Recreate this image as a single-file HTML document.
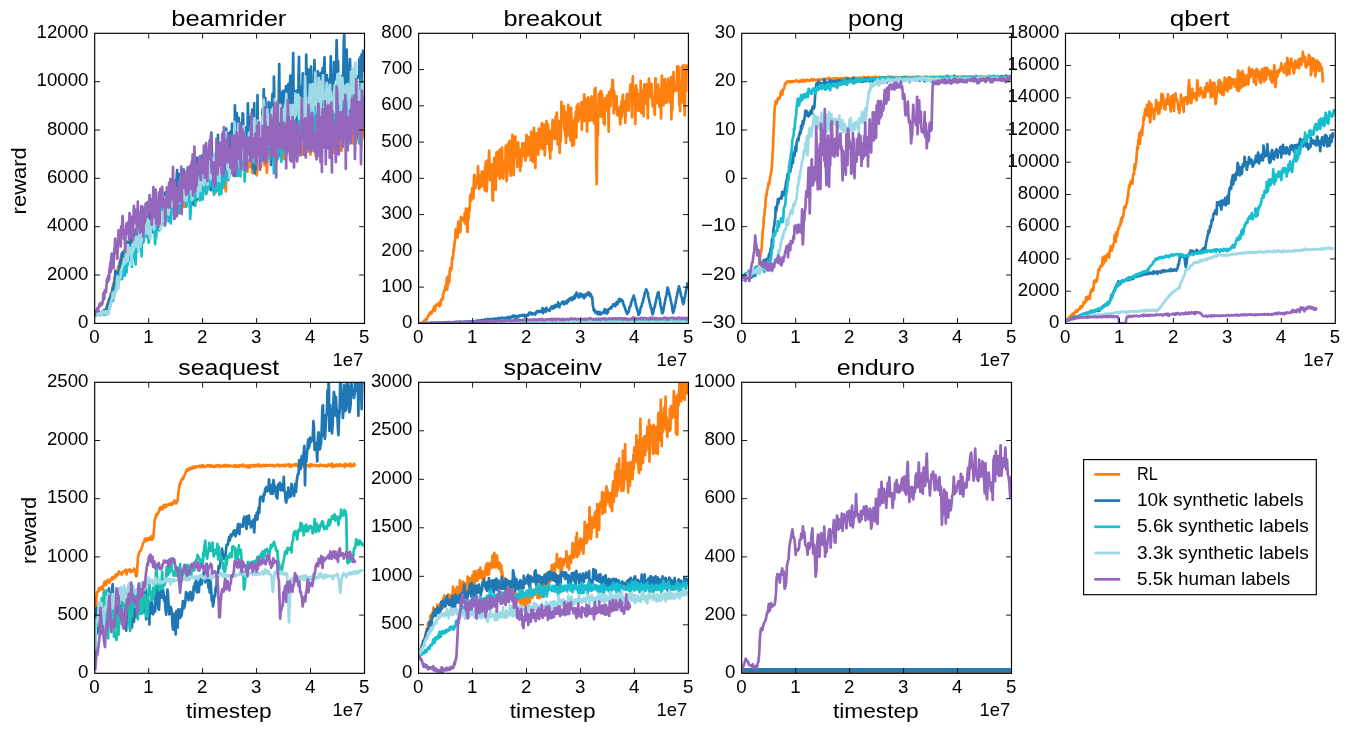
<!DOCTYPE html>
<html lang="en">
<head>
<meta charset="utf-8">
<title>Reward curves</title>
<style>
html,body{margin:0;padding:0;background:#fff;}
body{width:1357px;height:732px;overflow:hidden;font-family:"Liberation Sans",sans-serif;}
svg{display:block;will-change:transform;}
text{font-family:"Liberation Sans",sans-serif;}
</style>
</head>
<body>
<svg width="1357" height="732" viewBox="0 0 1357 732" font-family="'Liberation Sans', sans-serif" fill="#000">
<rect width="1357" height="732" fill="#fff"/>
<clipPath id="c00"><rect x="94.7" y="33.3" width="269.8" height="290.1"/></clipPath>
<g clip-path="url(#c00)" fill="none" stroke-width="2.7" stroke-linejoin="round" stroke-linecap="butt">
<polyline stroke="#ff7f0e" points="94.7,314.6 95.2,315.1 95.8,315.1 96.3,313.6 96.9,313.3 97.4,313.3 97.9,313.3 98.5,313.3 99.0,313.9 99.6,313.4 100.1,314.8 100.6,313.8 101.2,313.0 101.7,311.9 102.3,313.7 102.8,314.4 103.3,313.9 103.9,314.3 104.4,312.5 105.0,311.2 105.5,310.6 106.0,311.1 106.6,307.2 107.1,305.5 107.7,304.3 108.2,305.6 108.7,302.8 109.3,302.7 109.8,299.8 110.3,299.1 110.9,292.9 111.4,294.5 112.0,291.8 112.5,294.8 113.0,284.5 113.6,287.5 114.1,281.1 114.7,277.0 115.2,277.8 115.7,279.7 116.3,283.4 116.8,277.0 117.4,275.9 117.9,268.4 118.4,266.0 119.0,272.8 119.5,269.5 120.1,264.1 120.6,257.7 121.1,261.0 121.7,258.8 122.2,259.8 122.8,256.0 123.3,258.2 123.8,251.3 124.4,249.8 124.9,252.8 125.5,247.8 126.0,248.7 126.5,254.2 127.1,251.0 127.6,259.4 128.2,252.6 128.7,240.8 129.2,247.4 129.8,241.2 130.3,250.4 130.9,244.1 131.4,232.4 131.9,241.6 132.5,242.5 133.0,237.3 133.6,239.1 134.1,236.4 134.6,245.4 135.2,235.7 135.7,239.5 136.2,229.2 136.8,238.6 137.3,233.3 137.9,229.9 138.4,231.7 138.9,235.1 139.5,226.1 140.0,222.3 140.6,232.1 141.1,238.4 141.6,238.0 142.2,223.1 142.7,224.2 143.3,225.3 143.8,218.1 144.3,218.5 144.9,226.0 145.4,227.1 146.0,230.5 146.5,230.6 147.0,235.4 147.6,223.2 148.1,226.1 148.7,232.0 149.2,225.0 149.7,218.0 150.3,221.9 150.8,214.8 151.4,218.9 151.9,220.1 152.4,228.1 153.0,220.1 153.5,217.5 154.1,220.3 154.6,224.5 155.1,227.5 155.7,218.5 156.2,202.1 156.8,208.0 157.3,208.3 157.8,227.1 158.4,218.5 158.9,215.2 159.5,222.5 160.0,220.4 160.5,201.5 161.1,225.7 161.6,224.1 162.2,220.9 162.7,210.7 163.2,208.3 163.8,211.5 164.3,213.1 164.8,218.7 165.4,216.1 165.9,210.5 166.5,203.8 167.0,211.7 167.5,208.4 168.1,208.5 168.6,217.2 169.2,218.6 169.7,203.3 170.2,210.6 170.8,196.5 171.3,201.1 171.9,207.2 172.4,207.9 172.9,209.9 173.5,206.7 174.0,215.1 174.6,197.7 175.1,209.1 175.6,203.1 176.2,204.9 176.7,212.0 177.3,196.7 177.8,206.7 178.3,194.0 178.9,204.1 179.4,211.7 180.0,213.3 180.5,202.1 181.0,202.2 181.6,209.4 182.1,202.0 182.7,202.7 183.2,201.7 183.7,201.0 184.3,206.9 184.8,198.8 185.4,185.5 185.9,189.0 186.4,205.3 187.0,198.1 187.5,198.7 188.1,195.8 188.6,180.9 189.1,201.0 189.7,195.9 190.2,197.0 190.7,204.8 191.3,194.1 191.8,181.1 192.4,193.1 192.9,183.2 193.4,201.3 194.0,198.3 194.5,194.6 195.1,205.5 195.6,190.6 196.1,196.7 196.7,187.5 197.2,191.4 197.8,199.0 198.3,185.6 198.8,181.1 199.4,193.7 199.9,198.3 200.5,184.8 201.0,185.1 201.5,189.1 202.1,196.9 202.6,186.3 203.2,184.7 203.7,187.1 204.2,188.6 204.8,187.9 205.3,179.2 205.9,188.1 206.4,185.4 206.9,193.1 207.5,176.7 208.0,184.3 208.6,187.4 209.1,184.5 209.6,184.6 210.2,184.5 210.7,188.1 211.3,185.6 211.8,177.6 212.3,181.6 212.9,175.4 213.4,170.8 214.0,173.0 214.5,182.6 215.0,184.9 215.6,192.8 216.1,180.4 216.6,170.2 217.2,182.6 217.7,178.4 218.3,163.0 218.8,170.2 219.3,178.1 219.9,172.9 220.4,170.9 221.0,170.3 221.5,171.2 222.0,176.5 222.6,175.9 223.1,174.6 223.7,187.9 224.2,169.8 224.7,171.8 225.3,174.9 225.8,191.4 226.4,175.8 226.9,173.2 227.4,174.5 228.0,175.2 228.5,178.0 229.1,170.9 229.6,169.0 230.1,167.0 230.7,168.6 231.2,170.1 231.8,169.7 232.3,164.9 232.8,169.7 233.4,175.9 233.9,169.3 234.5,172.5 235.0,175.5 235.5,171.8 236.1,174.9 236.6,174.0 237.2,172.9 237.7,169.5 238.2,172.8 238.8,168.9 239.3,164.1 239.9,164.8 240.4,164.4 240.9,169.7 241.5,163.9 242.0,162.6 242.6,160.1 243.1,159.5 243.6,161.6 244.2,162.2 244.7,155.4 245.2,159.7 245.8,162.8 246.3,159.2 246.9,164.9 247.4,171.6 247.9,162.7 248.5,157.1 249.0,165.8 249.6,163.2 250.1,167.0 250.6,166.9 251.2,159.6 251.7,144.5 252.3,172.9 252.8,156.9 253.3,159.1 253.9,145.6 254.4,162.0 255.0,158.3 255.5,167.3 256.0,159.6 256.6,175.4 257.1,172.5 257.7,160.3 258.2,163.7 258.7,155.0 259.3,163.8 259.8,159.6 260.4,159.4 260.9,167.1 261.4,157.9 262.0,158.0 262.5,157.6 263.1,152.4 263.6,144.9 264.1,155.9 264.7,165.2 265.2,157.6 265.8,154.4 266.3,157.6 266.8,172.8 267.4,161.9 267.9,150.1 268.5,156.4 269.0,151.1 269.5,151.0 270.1,154.8 270.6,148.9 271.1,154.9 271.7,160.6 272.2,156.9 272.8,149.8 273.3,155.8 273.8,153.3 274.4,152.5 274.9,152.8 275.5,159.5 276.0,149.4 276.5,160.6 277.1,153.4 277.6,152.4 278.2,153.1 278.7,152.7 279.2,150.6 279.8,155.5 280.3,142.8 280.9,153.7 281.4,152.6 281.9,151.2 282.5,157.9 283.0,151.0 283.6,152.3 284.1,159.1 284.6,152.0 285.2,155.0 285.7,141.1 286.3,145.8 286.8,145.7 287.3,151.0 287.9,146.6 288.4,150.7 289.0,147.1 289.5,142.2 290.0,154.9 290.6,147.7 291.1,144.8 291.7,148.2 292.2,139.9 292.7,150.9 293.3,152.4 293.8,143.9 294.4,146.8 294.9,138.2 295.4,148.4 296.0,147.9 296.5,157.2 297.1,156.9 297.6,144.2 298.1,139.4 298.7,152.8 299.2,148.0 299.7,138.5 300.3,142.7 300.8,141.6 301.4,147.5 301.9,148.4 302.4,154.5 303.0,146.4 303.5,151.5 304.1,150.2 304.6,137.1 305.1,136.9 305.7,135.3 306.2,140.0 306.8,144.9 307.3,139.9 307.8,136.5 308.4,151.6 308.9,143.9 309.5,147.5 310.0,137.9 310.5,154.6 311.1,141.9 311.6,142.6 312.2,142.6 312.7,142.1 313.2,142.5 313.8,144.7 314.3,143.8 314.9,145.8 315.4,149.5 315.9,156.5 316.5,142.3 317.0,149.3 317.6,145.9 318.1,137.1 318.6,147.7 319.2,146.2 319.7,139.1 320.3,147.6 320.8,142.7 321.3,143.4 321.9,129.8 322.4,142.8 323.0,137.3 323.5,147.1 324.0,133.4 324.6,138.2 325.1,137.3 325.6,136.7 326.2,142.0 326.7,137.2 327.3,129.1 327.8,132.5 328.3,143.8 328.9,142.2 329.4,147.7 330.0,137.1 330.5,149.9 331.0,136.8 331.6,137.3 332.1,139.8 332.7,140.8 333.2,140.9 333.7,134.4 334.3,153.0 334.8,150.6 335.4,133.1 335.9,144.9 336.4,142.0 337.0,152.1 337.5,135.7 338.1,139.7 338.6,138.7 339.1,137.9 339.7,134.4 340.2,133.2 340.8,138.1 341.3,150.8 341.8,148.9 342.4,139.8 342.9,143.9 343.5,132.6 344.0,125.7 344.5,133.8 345.1,137.7 345.6,137.2 346.2,136.5 346.7,142.0 347.2,146.7 347.8,143.9 348.3,140.9 348.9,137.7 349.4,135.6 349.9,138.7 350.5,143.4 351.0,139.5 351.5,132.2 352.1,138.8 352.6,129.7 353.2,143.5 353.7,132.4 354.2,130.4 354.8,133.4 355.3,124.6 355.9,142.8 356.4,132.8 356.9,132.1 357.5,134.8 358.0,139.2 358.6,133.9 359.1,130.1 359.6,135.4 360.2,135.4 360.7,126.4 361.3,145.6 361.8,133.5 362.3,136.7 362.9,137.6 363.4,132.8 364.0,123.8 364.5,132.4"/>
<polyline stroke="#1f77b4" points="94.7,314.8 95.2,314.2 95.7,314.7 96.1,314.1 96.6,313.8 97.1,313.5 97.6,314.0 98.1,314.3 98.6,311.9 99.0,313.7 99.5,314.7 100.0,314.9 100.5,314.5 101.0,313.3 101.4,313.4 101.9,312.9 102.4,312.7 102.9,311.6 103.4,312.6 103.9,310.2 104.3,310.3 104.8,312.2 105.3,311.6 105.8,309.4 106.3,309.9 106.7,310.4 107.2,305.6 107.7,304.2 108.2,303.4 108.7,300.4 109.2,299.2 109.6,298.0 110.1,299.9 110.6,299.8 111.1,294.4 111.6,295.1 112.0,296.9 112.5,288.2 113.0,292.5 113.5,289.8 114.0,283.0 114.5,286.6 114.9,284.4 115.4,270.8 115.9,282.0 116.4,282.7 116.9,276.4 117.3,276.9 117.8,271.9 118.3,273.7 118.8,276.8 119.3,276.1 119.8,262.0 120.2,261.3 120.7,261.4 121.2,264.0 121.7,253.7 122.2,253.3 122.6,252.4 123.1,257.2 123.6,252.8 124.1,255.8 124.6,256.0 125.1,253.0 125.5,249.8 126.0,260.6 126.5,248.5 127.0,241.8 127.5,249.2 127.9,251.1 128.4,246.1 128.9,242.4 129.4,248.8 129.9,250.2 130.4,254.8 130.8,238.6 131.3,246.6 131.8,239.9 132.3,241.6 132.8,240.7 133.2,235.7 133.7,238.8 134.2,242.0 134.7,234.2 135.2,239.0 135.7,229.8 136.1,233.7 136.6,235.0 137.1,242.0 137.6,238.0 138.1,242.1 138.5,234.3 139.0,247.5 139.5,241.5 140.0,238.3 140.5,216.2 141.0,239.3 141.4,227.1 141.9,229.8 142.4,227.0 142.9,228.7 143.4,242.2 143.8,231.8 144.3,225.9 144.8,225.7 145.3,231.3 145.8,228.1 146.3,222.2 146.7,222.3 147.2,226.2 147.7,218.0 148.2,220.8 148.7,213.1 149.1,211.8 149.6,228.3 150.1,216.8 150.6,212.8 151.1,215.9 151.6,220.4 152.0,218.8 152.5,232.3 153.0,220.0 153.5,211.5 154.0,219.5 154.4,222.1 154.9,198.7 155.4,218.5 155.9,214.1 156.4,217.4 156.9,211.4 157.3,221.5 157.8,218.3 158.3,217.5 158.8,212.6 159.3,211.3 159.7,213.7 160.2,202.4 160.7,194.6 161.2,204.7 161.7,198.5 162.2,197.7 162.6,199.0 163.1,212.2 163.6,205.6 164.1,199.3 164.6,202.3 165.0,192.7 165.5,212.0 166.0,210.3 166.5,204.2 167.0,196.9 167.4,196.0 167.9,203.6 168.4,204.4 168.9,209.5 169.4,202.6 169.9,193.8 170.3,187.6 170.8,181.6 171.3,185.9 171.8,201.5 172.3,190.3 172.7,193.2 173.2,196.1 173.7,198.2 174.2,189.0 174.7,200.3 175.2,180.8 175.6,194.8 176.1,204.3 176.6,179.0 177.1,170.1 177.6,200.7 178.0,183.3 178.5,212.5 179.0,186.9 179.5,174.0 180.0,181.6 180.5,182.5 180.9,181.3 181.4,187.4 181.9,181.8 182.4,188.6 182.9,189.0 183.3,183.3 183.8,169.6 184.3,181.5 184.8,179.4 185.3,187.7 185.8,196.4 186.2,182.6 186.7,194.4 187.2,195.1 187.7,191.6 188.2,177.2 188.6,181.8 189.1,185.9 189.6,167.3 190.1,187.8 190.6,206.2 191.1,203.6 191.5,183.6 192.0,182.0 192.5,174.1 193.0,183.4 193.5,204.6 193.9,183.9 194.4,183.9 194.9,202.1 195.4,173.4 195.9,170.4 196.4,200.6 196.8,182.5 197.3,157.5 197.8,176.6 198.3,185.9 198.8,180.6 199.2,190.4 199.7,188.7 200.2,169.6 200.7,166.0 201.2,179.7 201.7,183.8 202.1,155.6 202.6,179.3 203.1,180.6 203.6,176.1 204.1,161.9 204.5,174.3 205.0,168.8 205.5,166.9 206.0,177.5 206.5,169.9 207.0,171.2 207.4,150.8 207.9,169.8 208.4,171.5 208.9,168.8 209.4,170.1 209.8,171.0 210.3,186.5 210.8,190.2 211.3,132.7 211.8,147.4 212.3,164.1 212.7,185.0 213.2,159.2 213.7,169.3 214.2,178.1 214.7,178.6 215.1,155.5 215.6,160.3 216.1,152.2 216.6,153.3 217.1,176.7 217.6,164.6 218.0,134.8 218.5,173.6 219.0,145.5 219.5,170.2 220.0,167.3 220.4,149.8 220.9,170.6 221.4,166.9 221.9,170.8 222.4,134.8 222.9,171.5 223.3,132.1 223.8,132.5 224.3,152.5 224.8,159.8 225.3,150.0 225.7,176.2 226.2,128.6 226.7,151.8 227.2,145.6 227.7,165.6 228.2,159.6 228.6,133.4 229.1,150.9 229.6,138.7 230.1,145.8 230.6,131.4 231.0,153.5 231.5,168.9 232.0,123.7 232.5,157.4 233.0,141.9 233.5,128.5 233.9,158.7 234.4,175.8 234.9,105.3 235.4,133.3 235.9,134.1 236.3,151.5 236.8,113.1 237.3,176.0 237.8,142.0 238.3,152.8 238.8,117.9 239.2,129.5 239.7,136.1 240.2,129.2 240.7,124.4 241.2,144.8 241.6,135.4 242.1,132.9 242.6,113.3 243.1,113.6 243.6,136.5 244.1,136.9 244.5,127.0 245.0,133.4 245.5,140.4 246.0,131.2 246.5,127.7 246.9,138.6 247.4,142.3 247.9,103.3 248.4,128.9 248.9,127.7 249.4,157.9 249.8,155.8 250.3,118.3 250.8,116.8 251.3,152.0 251.8,139.0 252.2,109.7 252.7,131.2 253.2,168.4 253.7,161.4 254.2,103.2 254.7,173.4 255.1,166.6 255.6,169.4 256.1,124.4 256.6,126.2 257.1,139.5 257.5,95.1 258.0,138.3 258.5,145.9 259.0,148.8 259.5,141.1 260.0,123.9 260.4,127.3 260.9,143.0 261.4,150.6 261.9,154.8 262.4,109.7 262.8,108.8 263.3,108.2 263.8,89.1 264.3,141.1 264.8,126.9 265.3,98.2 265.7,113.1 266.2,124.4 266.7,143.7 267.2,123.1 267.7,144.6 268.1,149.7 268.6,102.0 269.1,102.6 269.6,121.1 270.1,112.1 270.6,118.1 271.0,165.0 271.5,158.9 272.0,101.4 272.5,93.8 273.0,108.7 273.4,148.9 273.9,76.7 274.4,101.9 274.9,117.3 275.4,115.6 275.9,134.0 276.3,117.9 276.8,113.9 277.3,157.9 277.8,132.8 278.3,156.9 278.7,103.6 279.2,64.0 279.7,109.4 280.2,97.6 280.7,141.6 281.2,104.0 281.6,109.5 282.1,94.1 282.6,91.2 283.1,96.1 283.6,147.3 284.0,122.9 284.5,113.8 285.0,90.0 285.5,121.2 286.0,86.2 286.5,100.9 286.9,122.5 287.4,120.2 287.9,92.1 288.4,83.9 288.9,125.6 289.3,120.6 289.8,90.7 290.3,75.6 290.8,155.7 291.3,104.9 291.8,155.3 292.2,97.1 292.7,84.1 293.2,53.0 293.7,100.6 294.2,108.2 294.6,90.8 295.1,124.7 295.6,102.1 296.1,92.0 296.6,124.2 297.1,130.5 297.5,90.1 298.0,139.7 298.5,78.5 299.0,56.9 299.5,116.1 299.9,100.2 300.4,130.6 300.9,104.1 301.4,127.5 301.9,86.2 302.3,93.4 302.8,73.4 303.3,120.6 303.8,131.3 304.3,110.4 304.8,120.2 305.2,130.1 305.7,124.2 306.2,54.5 306.7,88.7 307.2,68.5 307.6,107.0 308.1,105.4 308.6,103.9 309.1,101.7 309.6,69.9 310.1,104.2 310.5,94.4 311.0,66.7 311.5,85.3 312.0,126.0 312.5,105.3 312.9,97.3 313.4,86.7 313.9,94.7 314.4,60.0 314.9,73.1 315.4,114.6 315.8,137.3 316.3,102.0 316.8,99.8 317.3,101.6 317.8,71.4 318.2,100.1 318.7,93.1 319.2,113.9 319.7,113.1 320.2,79.0 320.7,72.8 321.1,73.1 321.6,107.0 322.1,82.3 322.6,68.1 323.1,76.3 323.5,101.4 324.0,68.6 324.5,57.3 325.0,80.1 325.5,122.6 326.0,110.9 326.4,91.5 326.9,75.1 327.4,87.7 327.9,85.4 328.4,128.3 328.8,89.0 329.3,107.5 329.8,79.2 330.3,82.6 330.8,56.4 331.3,87.8 331.7,94.5 332.2,97.5 332.7,75.1 333.2,86.7 333.7,78.8 334.1,62.1 334.6,68.9 335.1,79.4 335.6,72.5 336.1,72.4 336.6,40.0 337.0,56.4 337.5,70.6 338.0,61.0 338.5,82.9 339.0,95.4 339.4,107.0 339.9,93.7 340.4,92.8 340.9,99.6 341.4,87.8 341.9,124.3 342.3,75.8 342.8,83.2 343.3,75.9 343.8,39.3 344.3,33.8 344.7,76.2 345.2,124.6 345.7,118.3 346.2,80.3 346.7,49.5 347.2,78.2 347.6,86.4 348.1,93.0 348.6,90.0 349.1,64.3 349.6,93.2 350.0,59.1 350.5,82.1 351.0,122.8 351.5,90.9 352.0,74.0 352.5,111.7 352.9,87.6 353.4,109.5 353.9,92.4 354.4,70.1 354.9,108.5 355.3,92.5 355.8,77.8 356.3,120.3 356.8,81.5 357.3,76.7 357.8,78.3 358.2,76.1 358.7,113.0 359.2,59.4 359.7,77.5 360.2,73.6 360.6,56.9 361.1,61.7 361.6,54.4 362.1,95.7 362.6,103.0 363.1,50.5 363.5,78.9 364.0,75.5 364.5,70.6"/>
<polyline stroke="#17becf" points="94.7,314.1 95.2,314.5 95.8,315.8 96.3,313.5 96.9,313.8 97.4,314.3 97.9,313.3 98.5,313.6 99.0,314.6 99.6,313.2 100.1,315.0 100.6,313.9 101.2,314.1 101.7,314.9 102.3,314.6 102.8,314.2 103.3,313.2 103.9,312.5 104.4,314.6 105.0,314.1 105.5,312.5 106.0,314.4 106.6,312.5 107.1,314.0 107.7,311.8 108.2,314.0 108.7,310.4 109.3,308.7 109.8,308.1 110.3,305.1 110.9,302.3 111.4,301.8 112.0,298.5 112.5,293.7 113.0,300.8 113.6,298.3 114.1,296.2 114.7,291.3 115.2,291.2 115.7,286.7 116.3,285.7 116.8,279.5 117.4,280.0 117.9,278.7 118.4,285.5 119.0,278.8 119.5,278.7 120.1,273.6 120.6,270.5 121.1,273.2 121.7,279.2 122.2,278.9 122.8,269.7 123.3,266.3 123.8,270.8 124.4,264.8 124.9,275.6 125.5,270.4 126.0,268.8 126.5,272.5 127.1,259.2 127.6,265.3 128.2,261.0 128.7,260.8 129.2,254.1 129.8,260.3 130.3,258.0 130.9,250.7 131.4,260.8 131.9,266.6 132.5,253.2 133.0,255.0 133.6,253.9 134.1,251.4 134.6,257.2 135.2,258.6 135.7,264.5 136.2,243.6 136.8,243.5 137.3,247.2 137.9,251.3 138.4,247.6 138.9,239.0 139.5,243.0 140.0,241.5 140.6,239.7 141.1,243.2 141.6,256.3 142.2,230.8 142.7,237.6 143.3,231.8 143.8,240.5 144.3,229.3 144.9,230.8 145.4,228.3 146.0,236.6 146.5,236.2 147.0,223.8 147.6,236.3 148.1,235.3 148.7,242.7 149.2,239.1 149.7,237.1 150.3,227.7 150.8,225.0 151.4,227.0 151.9,230.8 152.4,225.4 153.0,228.2 153.5,228.1 154.1,223.5 154.6,231.7 155.1,244.1 155.7,229.3 156.2,237.4 156.8,227.3 157.3,230.3 157.8,223.2 158.4,223.1 158.9,225.6 159.5,230.3 160.0,221.9 160.5,219.4 161.1,218.5 161.6,208.2 162.2,216.5 162.7,218.3 163.2,218.2 163.8,217.3 164.3,211.4 164.8,225.9 165.4,220.1 165.9,214.2 166.5,216.0 167.0,210.2 167.5,204.9 168.1,205.7 168.6,221.4 169.2,220.1 169.7,209.8 170.2,207.3 170.8,223.4 171.3,214.1 171.9,204.1 172.4,203.8 172.9,203.2 173.5,202.8 174.0,204.5 174.6,218.5 175.1,206.1 175.6,194.3 176.2,211.2 176.7,209.5 177.3,204.3 177.8,213.2 178.3,201.1 178.9,191.5 179.4,210.3 180.0,191.7 180.5,195.7 181.0,212.4 181.6,201.3 182.1,193.0 182.7,202.6 183.2,196.4 183.7,195.7 184.3,194.4 184.8,187.0 185.4,199.2 185.9,195.7 186.4,206.6 187.0,189.1 187.5,189.4 188.1,200.8 188.6,190.2 189.1,186.1 189.7,202.8 190.2,218.9 190.7,211.7 191.3,190.5 191.8,200.8 192.4,198.1 192.9,197.3 193.4,187.6 194.0,198.3 194.5,192.1 195.1,205.7 195.6,182.0 196.1,191.4 196.7,187.9 197.2,174.6 197.8,186.6 198.3,185.6 198.8,177.7 199.4,186.7 199.9,200.4 200.5,186.2 201.0,194.6 201.5,185.9 202.1,180.2 202.6,199.7 203.2,185.3 203.7,178.9 204.2,190.4 204.8,172.8 205.3,183.5 205.9,194.3 206.4,181.9 206.9,188.9 207.5,182.7 208.0,189.1 208.6,187.1 209.1,175.4 209.6,182.6 210.2,186.5 210.7,178.8 211.3,176.5 211.8,178.0 212.3,181.7 212.9,168.5 213.4,191.3 214.0,194.8 214.5,185.8 215.0,185.6 215.6,186.3 216.1,182.1 216.6,166.4 217.2,190.9 217.7,179.5 218.3,183.4 218.8,175.3 219.3,195.0 219.9,155.9 220.4,186.1 221.0,173.1 221.5,193.7 222.0,169.1 222.6,160.3 223.1,185.9 223.7,173.1 224.2,185.3 224.7,171.0 225.3,171.9 225.8,176.0 226.4,178.7 226.9,176.5 227.4,178.0 228.0,176.6 228.5,180.2 229.1,167.7 229.6,167.4 230.1,165.7 230.7,162.0 231.2,158.7 231.8,150.9 232.3,172.8 232.8,168.2 233.4,155.9 233.9,169.2 234.5,158.0 235.0,162.8 235.5,165.9 236.1,157.1 236.6,152.5 237.2,175.7 237.7,172.2 238.2,174.2 238.8,137.1 239.3,161.8 239.9,157.9 240.4,176.5 240.9,164.8 241.5,170.0 242.0,146.0 242.6,164.2 243.1,156.4 243.6,148.8 244.2,150.1 244.7,181.4 245.2,156.9 245.8,165.4 246.3,152.3 246.9,153.6 247.4,157.9 247.9,148.0 248.5,159.4 249.0,157.4 249.6,147.8 250.1,137.1 250.6,149.5 251.2,142.3 251.7,162.0 252.3,151.0 252.8,122.1 253.3,153.2 253.9,135.8 254.4,163.0 255.0,159.5 255.5,139.7 256.0,147.7 256.6,141.3 257.1,151.5 257.7,158.1 258.2,135.0 258.7,156.8 259.3,161.3 259.8,149.1 260.4,155.5 260.9,143.4 261.4,142.8 262.0,142.5 262.5,158.2 263.1,161.0 263.6,151.2 264.1,145.6 264.7,139.4 265.2,138.7 265.8,149.9 266.3,158.4 266.8,128.6 267.4,146.9 267.9,139.8 268.5,126.1 269.0,137.0 269.5,130.7 270.1,159.1 270.6,135.1 271.1,131.0 271.7,138.4 272.2,153.4 272.8,147.2 273.3,118.2 273.8,173.3 274.4,140.7 274.9,128.8 275.5,137.7 276.0,123.9 276.5,132.9 277.1,142.6 277.6,159.2 278.2,131.5 278.7,142.9 279.2,136.3 279.8,145.6 280.3,126.7 280.9,151.4 281.4,161.9 281.9,141.6 282.5,127.0 283.0,135.0 283.6,141.0 284.1,151.6 284.6,109.7 285.2,126.1 285.7,145.6 286.3,139.7 286.8,153.2 287.3,138.5 287.9,122.4 288.4,106.5 289.0,134.5 289.5,132.7 290.0,116.1 290.6,110.3 291.1,124.9 291.7,138.0 292.2,124.8 292.7,123.3 293.3,117.1 293.8,135.1 294.4,141.9 294.9,138.5 295.4,141.8 296.0,157.9 296.5,148.3 297.1,125.8 297.6,128.1 298.1,125.0 298.7,135.4 299.2,113.4 299.7,137.5 300.3,128.8 300.8,113.0 301.4,140.7 301.9,104.7 302.4,120.3 303.0,126.2 303.5,138.3 304.1,123.6 304.6,135.4 305.1,139.0 305.7,134.8 306.2,125.2 306.8,141.3 307.3,126.8 307.8,114.7 308.4,125.9 308.9,112.9 309.5,127.3 310.0,137.5 310.5,127.8 311.1,114.8 311.6,103.0 312.2,116.9 312.7,123.4 313.2,137.7 313.8,123.1 314.3,132.2 314.9,130.7 315.4,111.7 315.9,107.6 316.5,108.6 317.0,136.6 317.6,111.9 318.1,114.4 318.6,132.7 319.2,118.2 319.7,119.7 320.3,120.4 320.8,137.3 321.3,120.0 321.9,143.8 322.4,121.3 323.0,129.9 323.5,118.5 324.0,128.3 324.6,132.0 325.1,147.6 325.6,125.2 326.2,85.5 326.7,134.0 327.3,119.5 327.8,99.9 328.3,125.4 328.9,140.8 329.4,146.4 330.0,134.2 330.5,130.8 331.0,98.7 331.6,117.6 332.1,129.4 332.7,118.7 333.2,125.3 333.7,114.4 334.3,114.0 334.8,121.4 335.4,120.5 335.9,142.0 336.4,142.2 337.0,122.0 337.5,118.7 338.1,120.1 338.6,124.5 339.1,107.1 339.7,118.4 340.2,136.4 340.8,127.3 341.3,133.2 341.8,104.1 342.4,124.7 342.9,101.1 343.5,124.3 344.0,128.1 344.5,109.9 345.1,118.7 345.6,100.2 346.2,114.0 346.7,141.5 347.2,98.5 347.8,116.9 348.3,144.6 348.9,112.8 349.4,116.9 349.9,130.5 350.5,100.4 351.0,127.8 351.5,105.4 352.1,107.6 352.6,123.9 353.2,102.5 353.7,108.5 354.2,86.2 354.8,112.6 355.3,91.7 355.9,80.7 356.4,124.7 356.9,113.0 357.5,120.4 358.0,132.5 358.6,133.8 359.1,143.4 359.6,131.3 360.2,125.3 360.7,128.1 361.3,116.3 361.8,120.4 362.3,124.4 362.9,103.4 363.4,121.1 364.0,97.0 364.5,115.9"/>
<polyline stroke="#9edae5" points="94.7,315.9 95.2,315.2 95.8,315.0 96.3,314.4 96.9,313.8 97.4,314.3 97.9,313.1 98.5,314.5 99.0,313.6 99.6,314.2 100.1,313.4 100.6,313.2 101.2,314.8 101.7,313.9 102.3,314.5 102.8,311.3 103.3,312.3 103.9,312.8 104.4,313.5 105.0,313.5 105.5,311.4 106.0,313.4 106.6,311.3 107.1,311.9 107.7,311.8 108.2,314.0 108.7,310.8 109.3,310.4 109.8,306.2 110.3,304.0 110.9,303.5 111.4,299.9 112.0,299.5 112.5,296.2 113.0,292.7 113.6,298.1 114.1,292.8 114.7,292.3 115.2,291.9 115.7,290.2 116.3,291.4 116.8,286.3 117.4,276.1 117.9,281.7 118.4,288.1 119.0,278.6 119.5,278.6 120.1,277.9 120.6,276.6 121.1,270.4 121.7,268.4 122.2,268.2 122.8,265.5 123.3,264.2 123.8,262.8 124.4,258.7 124.9,263.6 125.5,261.9 126.0,248.4 126.5,245.2 127.1,249.2 127.6,261.1 128.2,245.0 128.7,252.5 129.2,249.3 129.8,248.1 130.3,254.4 130.9,250.5 131.4,264.4 131.9,248.5 132.5,244.3 133.0,251.7 133.6,245.7 134.1,238.4 134.6,239.6 135.2,243.7 135.7,246.9 136.2,237.5 136.8,235.8 137.3,231.7 137.9,232.9 138.4,251.0 138.9,246.4 139.5,244.4 140.0,235.0 140.6,246.4 141.1,236.2 141.6,241.9 142.2,233.8 142.7,229.1 143.3,225.2 143.8,236.1 144.3,224.3 144.9,233.3 145.4,223.8 146.0,223.5 146.5,225.4 147.0,233.4 147.6,218.9 148.1,226.1 148.7,234.0 149.2,221.0 149.7,227.3 150.3,238.9 150.8,223.6 151.4,220.9 151.9,227.4 152.4,219.6 153.0,218.6 153.5,223.9 154.1,229.3 154.6,224.6 155.1,212.9 155.7,215.1 156.2,209.5 156.8,208.2 157.3,214.5 157.8,216.9 158.4,210.6 158.9,210.4 159.5,222.5 160.0,219.9 160.5,229.6 161.1,215.9 161.6,211.7 162.2,215.3 162.7,215.6 163.2,221.7 163.8,219.3 164.3,211.9 164.8,197.6 165.4,213.8 165.9,213.3 166.5,200.0 167.0,208.6 167.5,201.3 168.1,203.2 168.6,214.5 169.2,206.7 169.7,202.3 170.2,204.0 170.8,206.6 171.3,201.5 171.9,202.1 172.4,206.7 172.9,202.8 173.5,193.3 174.0,203.2 174.6,189.7 175.1,206.9 175.6,210.8 176.2,198.4 176.7,194.3 177.3,198.2 177.8,189.2 178.3,195.5 178.9,199.7 179.4,197.4 180.0,202.9 180.5,200.5 181.0,176.8 181.6,180.7 182.1,188.7 182.7,192.4 183.2,197.1 183.7,185.9 184.3,198.2 184.8,200.3 185.4,177.9 185.9,190.4 186.4,201.0 187.0,189.4 187.5,184.9 188.1,175.9 188.6,171.0 189.1,168.1 189.7,173.7 190.2,192.5 190.7,171.3 191.3,173.7 191.8,199.9 192.4,186.0 192.9,198.4 193.4,188.2 194.0,184.1 194.5,185.0 195.1,178.0 195.6,185.3 196.1,168.9 196.7,173.3 197.2,185.7 197.8,196.7 198.3,184.0 198.8,182.3 199.4,187.0 199.9,179.5 200.5,190.9 201.0,171.9 201.5,166.9 202.1,181.5 202.6,165.5 203.2,182.9 203.7,185.3 204.2,184.9 204.8,174.6 205.3,177.6 205.9,175.6 206.4,167.0 206.9,175.5 207.5,184.9 208.0,161.4 208.6,163.9 209.1,176.6 209.6,169.4 210.2,165.0 210.7,179.1 211.3,177.9 211.8,165.3 212.3,168.6 212.9,157.5 213.4,161.0 214.0,172.4 214.5,166.4 215.0,162.0 215.6,152.7 216.1,167.6 216.6,147.6 217.2,160.6 217.7,157.9 218.3,180.5 218.8,167.5 219.3,181.5 219.9,158.7 220.4,168.2 221.0,158.6 221.5,161.6 222.0,166.3 222.6,159.3 223.1,160.5 223.7,141.1 224.2,160.4 224.7,144.0 225.3,157.6 225.8,132.2 226.4,158.7 226.9,152.7 227.4,168.9 228.0,161.1 228.5,161.6 229.1,161.7 229.6,178.4 230.1,155.5 230.7,154.0 231.2,158.0 231.8,161.9 232.3,144.4 232.8,158.5 233.4,154.8 233.9,147.5 234.5,121.9 235.0,152.3 235.5,152.6 236.1,146.8 236.6,144.7 237.2,136.5 237.7,137.7 238.2,123.8 238.8,148.5 239.3,155.3 239.9,166.8 240.4,147.0 240.9,145.6 241.5,150.0 242.0,159.9 242.6,143.5 243.1,155.4 243.6,125.9 244.2,136.3 244.7,149.5 245.2,155.5 245.8,149.5 246.3,142.8 246.9,142.9 247.4,156.4 247.9,142.8 248.5,139.3 249.0,132.9 249.6,158.4 250.1,152.3 250.6,134.0 251.2,124.6 251.7,143.7 252.3,132.3 252.8,160.9 253.3,121.2 253.9,154.1 254.4,118.1 255.0,135.8 255.5,143.1 256.0,126.3 256.6,136.0 257.1,139.4 257.7,120.5 258.2,122.8 258.7,163.2 259.3,139.6 259.8,122.8 260.4,136.9 260.9,128.3 261.4,136.7 262.0,139.9 262.5,117.3 263.1,114.8 263.6,99.7 264.1,107.0 264.7,127.9 265.2,118.4 265.8,135.3 266.3,114.4 266.8,125.4 267.4,109.5 267.9,124.7 268.5,115.0 269.0,141.3 269.5,124.5 270.1,139.0 270.6,134.6 271.1,138.6 271.7,109.6 272.2,130.4 272.8,109.0 273.3,107.7 273.8,130.7 274.4,131.2 274.9,98.9 275.5,117.1 276.0,104.6 276.5,124.2 277.1,107.5 277.6,120.5 278.2,108.4 278.7,120.4 279.2,120.8 279.8,110.8 280.3,104.8 280.9,108.5 281.4,117.0 281.9,115.6 282.5,122.3 283.0,109.4 283.6,136.9 284.1,127.0 284.6,115.7 285.2,104.1 285.7,110.1 286.3,93.9 286.8,106.3 287.3,107.0 287.9,118.5 288.4,116.6 289.0,120.4 289.5,118.6 290.0,105.1 290.6,122.9 291.1,115.5 291.7,119.7 292.2,113.8 292.7,105.2 293.3,105.3 293.8,122.1 294.4,104.8 294.9,117.1 295.4,93.5 296.0,115.0 296.5,103.4 297.1,99.5 297.6,104.4 298.1,94.6 298.7,100.9 299.2,118.7 299.7,97.9 300.3,98.1 300.8,117.5 301.4,104.4 301.9,120.3 302.4,111.1 303.0,127.2 303.5,99.6 304.1,121.5 304.6,111.2 305.1,76.3 305.7,104.5 306.2,97.4 306.8,117.6 307.3,121.7 307.8,121.5 308.4,119.2 308.9,111.8 309.5,95.7 310.0,84.7 310.5,89.0 311.1,98.7 311.6,99.4 312.2,111.5 312.7,84.0 313.2,115.1 313.8,88.3 314.3,87.0 314.9,91.6 315.4,72.7 315.9,105.2 316.5,88.1 317.0,92.2 317.6,112.1 318.1,96.3 318.6,77.8 319.2,93.5 319.7,80.7 320.3,96.9 320.8,115.8 321.3,94.7 321.9,82.6 322.4,84.9 323.0,75.4 323.5,99.1 324.0,97.7 324.6,105.3 325.1,93.9 325.6,109.0 326.2,92.3 326.7,82.8 327.3,88.7 327.8,95.0 328.3,97.4 328.9,105.5 329.4,99.0 330.0,84.6 330.5,98.7 331.0,92.0 331.6,109.3 332.1,99.3 332.7,106.5 333.2,112.1 333.7,99.4 334.3,90.9 334.8,85.2 335.4,91.9 335.9,93.2 336.4,97.4 337.0,83.0 337.5,74.3 338.1,103.7 338.6,82.6 339.1,73.4 339.7,90.1 340.2,84.9 340.8,111.7 341.3,94.0 341.8,84.3 342.4,77.7 342.9,90.4 343.5,97.8 344.0,90.4 344.5,112.5 345.1,98.0 345.6,85.4 346.2,88.6 346.7,96.8 347.2,85.3 347.8,83.9 348.3,97.4 348.9,103.4 349.4,125.5 349.9,100.2 350.5,93.9 351.0,71.8 351.5,82.6 352.1,93.1 352.6,68.5 353.2,78.9 353.7,88.7 354.2,107.8 354.8,68.7 355.3,62.6 355.9,104.5 356.4,98.5 356.9,116.0 357.5,91.4 358.0,80.0 358.6,105.9 359.1,91.1 359.6,99.3 360.2,104.2 360.7,116.0 361.3,102.5 361.8,104.4 362.3,84.3 362.9,94.4 363.4,87.5 364.0,88.4 364.5,72.0"/>
<polyline stroke="#9467bd" points="94.7,315.9 95.1,310.8 95.6,312.4 96.0,311.0 96.4,312.1 96.9,310.9 97.3,308.7 97.7,307.6 98.2,309.7 98.6,306.9 99.1,306.7 99.5,304.2 99.9,305.4 100.4,306.2 100.8,303.1 101.2,304.9 101.7,304.5 102.1,304.4 102.5,302.7 103.0,299.7 103.4,293.1 103.8,294.4 104.3,298.7 104.7,290.5 105.1,290.0 105.6,292.0 106.0,292.1 106.4,286.5 106.9,280.2 107.3,278.7 107.8,282.1 108.2,276.2 108.6,275.2 109.1,279.6 109.5,269.0 109.9,267.1 110.4,262.7 110.8,271.6 111.2,257.9 111.7,253.6 112.1,266.7 112.5,259.9 113.0,264.7 113.4,268.3 113.8,260.1 114.3,249.6 114.7,247.9 115.2,238.5 115.6,248.9 116.0,252.8 116.5,248.8 116.9,243.1 117.3,258.9 117.8,249.1 118.2,237.8 118.6,230.1 119.1,233.2 119.5,235.7 119.9,238.0 120.4,233.4 120.8,246.5 121.2,226.3 121.7,229.5 122.1,225.8 122.6,216.1 123.0,224.4 123.4,230.5 123.9,238.9 124.3,233.8 124.7,232.9 125.2,252.1 125.6,231.1 126.0,234.5 126.5,223.5 126.9,223.8 127.3,225.5 127.8,229.1 128.2,221.8 128.6,233.0 129.1,239.0 129.5,213.1 129.9,235.7 130.4,215.5 130.8,237.0 131.3,224.0 131.7,217.4 132.1,224.7 132.6,217.3 133.0,240.0 133.4,220.1 133.9,205.8 134.3,213.9 134.7,213.0 135.2,214.1 135.6,211.7 136.0,223.1 136.5,209.3 136.9,234.5 137.3,222.8 137.8,201.7 138.2,227.1 138.7,220.8 139.1,212.3 139.5,225.3 140.0,219.8 140.4,231.2 140.8,217.6 141.3,206.0 141.7,206.1 142.1,231.6 142.6,229.6 143.0,223.6 143.4,236.7 143.9,207.7 144.3,223.4 144.7,221.1 145.2,220.4 145.6,203.9 146.0,203.1 146.5,207.2 146.9,206.2 147.4,202.7 147.8,216.7 148.2,204.3 148.7,201.0 149.1,211.8 149.5,195.1 150.0,207.2 150.4,199.1 150.8,200.7 151.3,206.9 151.7,224.6 152.1,213.0 152.6,204.2 153.0,197.9 153.4,187.0 153.9,194.4 154.3,217.1 154.8,210.2 155.2,198.2 155.6,189.6 156.1,223.4 156.5,202.6 156.9,211.0 157.4,205.8 157.8,211.6 158.2,226.8 158.7,192.6 159.1,202.5 159.5,223.9 160.0,200.6 160.4,188.9 160.8,197.8 161.3,205.9 161.7,199.8 162.2,186.9 162.6,203.8 163.0,205.1 163.5,202.5 163.9,198.9 164.3,207.5 164.8,201.3 165.2,224.3 165.6,205.6 166.1,204.9 166.5,200.2 166.9,187.3 167.4,191.8 167.8,194.6 168.2,207.2 168.7,194.4 169.1,182.9 169.5,200.1 170.0,207.6 170.4,179.2 170.9,186.9 171.3,194.9 171.7,181.1 172.2,191.6 172.6,183.7 173.0,166.8 173.5,200.9 173.9,188.4 174.3,219.0 174.8,182.2 175.2,193.0 175.6,205.6 176.1,188.1 176.5,190.3 176.9,216.3 177.4,202.6 177.8,195.6 178.3,194.7 178.7,197.6 179.1,181.2 179.6,201.3 180.0,187.3 180.4,192.4 180.9,195.4 181.3,166.6 181.7,213.9 182.2,169.0 182.6,188.4 183.0,176.0 183.5,185.1 183.9,184.9 184.3,182.5 184.8,188.0 185.2,173.5 185.6,188.6 186.1,194.7 186.5,172.6 187.0,184.6 187.4,170.4 187.8,167.1 188.3,193.0 188.7,188.4 189.1,176.1 189.6,181.5 190.0,168.0 190.4,165.5 190.9,188.8 191.3,183.0 191.7,161.7 192.2,172.8 192.6,154.5 193.0,195.7 193.5,159.2 193.9,172.5 194.4,146.5 194.8,171.9 195.2,191.4 195.7,186.2 196.1,168.6 196.5,185.6 197.0,173.8 197.4,166.5 197.8,162.8 198.3,163.7 198.7,160.5 199.1,164.3 199.6,170.0 200.0,156.0 200.4,163.2 200.9,179.9 201.3,159.2 201.7,168.0 202.2,159.8 202.6,172.6 203.1,169.5 203.5,161.3 203.9,145.5 204.4,173.1 204.8,177.7 205.2,154.0 205.7,160.6 206.1,143.2 206.5,151.6 207.0,164.4 207.4,181.2 207.8,151.8 208.3,156.0 208.7,159.4 209.1,149.6 209.6,141.2 210.0,139.9 210.5,148.2 210.9,135.0 211.3,166.0 211.8,172.7 212.2,172.9 212.6,162.2 213.1,165.7 213.5,184.1 213.9,176.4 214.4,162.8 214.8,185.9 215.2,170.4 215.7,162.6 216.1,168.8 216.5,138.6 217.0,152.2 217.4,174.4 217.9,165.4 218.3,164.7 218.7,165.7 219.2,145.2 219.6,154.3 220.0,142.9 220.5,156.8 220.9,143.9 221.3,167.6 221.8,173.4 222.2,133.8 222.6,158.6 223.1,151.5 223.5,175.7 223.9,127.0 224.4,145.9 224.8,158.0 225.2,164.6 225.7,159.8 226.1,153.4 226.6,156.6 227.0,140.0 227.4,151.2 227.9,135.3 228.3,162.2 228.7,160.6 229.2,151.1 229.6,153.0 230.0,149.5 230.5,167.7 230.9,164.3 231.3,165.2 231.8,136.0 232.2,151.3 232.6,174.3 233.1,143.5 233.5,166.3 234.0,156.5 234.4,135.8 234.8,163.5 235.3,170.3 235.7,161.1 236.1,173.7 236.6,132.3 237.0,137.6 237.4,152.9 237.9,149.4 238.3,159.0 238.7,145.1 239.2,157.9 239.6,155.4 240.0,123.1 240.5,164.2 240.9,168.8 241.3,141.0 241.8,146.5 242.2,129.1 242.7,147.7 243.1,130.9 243.5,132.9 244.0,135.2 244.4,148.2 244.8,170.0 245.3,160.2 245.7,162.5 246.1,147.8 246.6,169.8 247.0,138.5 247.4,145.4 247.9,154.3 248.3,137.5 248.7,141.0 249.2,141.1 249.6,149.7 250.1,152.7 250.5,161.2 250.9,145.6 251.4,114.2 251.8,141.8 252.2,160.5 252.7,138.1 253.1,148.0 253.5,148.9 254.0,147.2 254.4,156.6 254.8,149.8 255.3,133.9 255.7,146.2 256.1,164.7 256.6,162.5 257.0,125.8 257.5,155.0 257.9,138.1 258.3,137.0 258.8,122.3 259.2,152.6 259.6,149.2 260.1,169.8 260.5,149.7 260.9,138.7 261.4,158.0 261.8,138.5 262.2,148.3 262.7,126.2 263.1,145.2 263.5,133.1 264.0,160.9 264.4,145.3 264.8,107.1 265.3,133.3 265.7,124.7 266.2,162.8 266.6,154.9 267.0,134.4 267.5,127.0 267.9,131.0 268.3,142.4 268.8,145.0 269.2,133.9 269.6,145.5 270.1,134.9 270.5,115.0 270.9,156.2 271.4,132.3 271.8,156.5 272.2,156.4 272.7,119.7 273.1,147.8 273.6,116.4 274.0,126.3 274.4,103.0 274.9,156.2 275.3,141.2 275.7,141.0 276.2,177.4 276.6,134.2 277.0,128.2 277.5,101.7 277.9,137.2 278.3,147.0 278.8,128.7 279.2,147.4 279.6,135.0 280.1,148.3 280.5,134.2 280.9,136.8 281.4,108.4 281.8,141.0 282.3,145.3 282.7,146.9 283.1,123.2 283.6,122.6 284.0,150.2 284.4,125.7 284.9,146.7 285.3,124.4 285.7,128.8 286.2,168.3 286.6,127.2 287.0,151.4 287.5,128.4 287.9,100.1 288.3,126.3 288.8,116.8 289.2,124.4 289.7,131.7 290.1,160.0 290.5,137.2 291.0,121.7 291.4,161.6 291.8,141.6 292.3,145.5 292.7,117.0 293.1,145.0 293.6,139.4 294.0,167.5 294.4,144.7 294.9,150.9 295.3,121.1 295.7,123.7 296.2,149.2 296.6,136.3 297.1,161.5 297.5,156.8 297.9,124.9 298.4,140.9 298.8,134.6 299.2,144.0 299.7,136.9 300.1,138.6 300.5,155.5 301.0,143.8 301.4,127.1 301.8,98.6 302.3,125.2 302.7,120.3 303.1,131.0 303.6,126.2 304.0,140.4 304.4,155.2 304.9,128.7 305.3,118.4 305.8,157.6 306.2,124.1 306.6,132.9 307.1,138.7 307.5,149.8 307.9,128.5 308.4,104.7 308.8,133.0 309.2,145.6 309.7,135.6 310.1,143.1 310.5,151.4 311.0,116.7 311.4,126.8 311.8,134.8 312.3,112.9 312.7,117.6 313.2,146.2 313.6,151.1 314.0,134.5 314.5,132.6 314.9,151.2 315.3,133.9 315.8,136.0 316.2,154.7 316.6,159.3 317.1,115.3 317.5,156.4 317.9,148.8 318.4,103.6 318.8,109.7 319.2,124.5 319.7,146.3 320.1,142.8 320.5,162.1 321.0,117.1 321.4,121.9 321.9,172.0 322.3,131.7 322.7,109.0 323.2,110.6 323.6,120.2 324.0,134.6 324.5,146.2 324.9,101.4 325.3,118.4 325.8,164.3 326.2,130.4 326.6,121.1 327.1,146.4 327.5,106.6 327.9,148.1 328.4,105.1 328.8,108.6 329.3,117.4 329.7,157.8 330.1,132.1 330.6,155.0 331.0,146.2 331.4,102.7 331.9,172.4 332.3,110.9 332.7,144.8 333.2,137.9 333.6,135.2 334.0,136.5 334.5,126.9 334.9,147.7 335.3,122.5 335.8,162.2 336.2,150.0 336.6,86.5 337.1,90.7 337.5,110.0 338.0,119.2 338.4,114.1 338.8,154.5 339.3,136.0 339.7,120.9 340.1,135.7 340.6,138.9 341.0,112.0 341.4,115.4 341.9,119.7 342.3,125.2 342.7,146.6 343.2,128.3 343.6,109.0 344.0,121.3 344.5,101.1 344.9,137.5 345.4,94.8 345.8,168.8 346.2,124.3 346.7,137.8 347.1,117.3 347.5,150.3 348.0,141.9 348.4,118.3 348.8,138.3 349.3,118.6 349.7,138.5 350.1,110.2 350.6,137.7 351.0,143.0 351.4,112.9 351.9,99.0 352.3,114.6 352.8,124.9 353.2,109.1 353.6,109.0 354.1,133.4 354.5,95.7 354.9,158.9 355.4,136.6 355.8,127.1 356.2,79.1 356.7,137.1 357.1,117.0 357.5,101.9 358.0,126.5 358.4,109.6 358.8,133.5 359.3,113.0 359.7,102.1 360.1,135.5 360.6,124.3 361.0,164.2 361.5,127.7 361.9,90.6 362.3,106.9 362.8,127.1 363.2,118.3 363.6,98.6 364.1,105.4 364.5,123.8"/>
</g>
<g stroke="#000" stroke-width="1.15" fill="none">
<rect x="94.7" y="33.3" width="269.8" height="290.1"/>
<path stroke-width="0.9" d="M148.7,323.4v-5.4M148.7,33.3v5.4M202.6,323.4v-5.4M202.6,33.3v5.4M256.6,323.4v-5.4M256.6,33.3v5.4M310.5,323.4v-5.4M310.5,33.3v5.4M94.7,275.0h5.4M364.5,275.0h-5.4M94.7,226.7h5.4M364.5,226.7h-5.4M94.7,178.3h5.4M364.5,178.3h-5.4M94.7,130.0h5.4M364.5,130.0h-5.4M94.7,81.7h5.4M364.5,81.7h-5.4"/>
</g>
<clipPath id="c10"><rect x="418.6" y="33.3" width="269.8" height="290.1"/></clipPath>
<g clip-path="url(#c10)" fill="none" stroke-width="2.7" stroke-linejoin="round" stroke-linecap="butt">
<polyline stroke="#ff7f0e" points="418.6,323.4 419.0,323.2 419.4,323.0 419.8,323.4 420.3,323.5 420.7,323.9 421.1,323.0 421.5,322.7 421.9,322.7 422.3,323.0 422.8,323.3 423.2,322.3 423.6,321.8 424.0,321.0 424.4,320.4 424.8,320.1 425.2,319.6 425.7,319.3 426.1,319.7 426.5,318.5 426.9,319.4 427.3,317.3 427.7,317.2 428.1,315.6 428.6,315.9 429.0,315.3 429.4,314.3 429.8,312.6 430.2,312.6 430.6,313.3 431.1,312.0 431.5,313.6 431.9,313.1 432.3,311.0 432.7,310.8 433.1,309.9 433.5,308.6 434.0,309.3 434.4,306.2 434.8,310.7 435.2,308.4 435.6,308.2 436.0,305.9 436.5,304.6 436.9,304.4 437.3,304.2 437.7,303.9 438.1,304.6 438.5,304.2 438.9,303.4 439.4,306.4 439.8,304.6 440.2,302.0 440.6,304.8 441.0,299.5 441.4,300.8 441.8,299.0 442.3,299.8 442.7,298.5 443.1,294.7 443.5,293.2 443.9,291.8 444.3,290.6 444.8,290.4 445.2,286.6 445.6,289.7 446.0,289.7 446.4,284.4 446.8,277.8 447.2,289.7 447.7,280.2 448.1,284.5 448.5,275.8 448.9,280.0 449.3,282.2 449.7,271.7 450.2,267.8 450.6,270.8 451.0,267.9 451.4,269.8 451.8,264.5 452.2,257.5 452.6,258.9 453.1,255.2 453.5,249.6 453.9,250.9 454.3,245.2 454.7,241.5 455.1,241.0 455.5,229.5 456.0,229.1 456.4,233.3 456.8,230.8 457.2,233.4 457.6,237.5 458.0,225.2 458.5,221.7 458.9,229.6 459.3,225.7 459.7,232.2 460.1,232.4 460.5,230.2 460.9,216.9 461.4,219.7 461.8,217.5 462.2,218.3 462.6,219.8 463.0,218.4 463.4,219.1 463.9,219.0 464.3,221.8 464.7,213.9 465.1,212.3 465.5,224.0 465.9,208.6 466.3,224.2 466.8,209.2 467.2,230.9 467.6,231.9 468.0,208.8 468.4,219.2 468.8,216.9 469.2,208.1 469.7,210.7 470.1,195.5 470.5,195.8 470.9,194.3 471.3,200.5 471.7,194.9 472.2,188.3 472.6,193.5 473.0,191.6 473.4,198.3 473.8,182.6 474.2,174.8 474.6,175.4 475.1,180.6 475.5,188.2 475.9,179.6 476.3,183.9 476.7,183.3 477.1,181.6 477.6,181.0 478.0,166.1 478.4,176.1 478.8,185.9 479.2,188.9 479.6,177.9 480.0,185.5 480.5,178.8 480.9,174.9 481.3,186.6 481.7,171.7 482.1,179.3 482.5,185.5 482.9,171.7 483.4,172.3 483.8,180.1 484.2,180.0 484.6,190.5 485.0,167.2 485.4,167.8 485.9,161.5 486.3,190.6 486.7,191.4 487.1,182.1 487.5,179.4 487.9,160.2 488.3,164.0 488.8,164.8 489.2,150.6 489.6,175.4 490.0,167.3 490.4,180.5 490.8,178.2 491.2,166.2 491.7,164.5 492.1,166.1 492.5,199.7 492.9,200.6 493.3,185.5 493.7,177.8 494.2,158.1 494.6,184.4 495.0,169.2 495.4,171.7 495.8,189.7 496.2,155.9 496.6,152.4 497.1,175.5 497.5,171.4 497.9,159.8 498.3,162.6 498.7,150.9 499.1,169.8 499.6,178.8 500.0,149.5 500.4,165.4 500.8,177.3 501.2,166.3 501.6,169.7 502.0,147.7 502.5,168.4 502.9,176.4 503.3,178.6 503.7,169.1 504.1,163.9 504.5,168.2 504.9,161.1 505.4,160.5 505.8,145.7 506.2,162.2 506.6,181.1 507.0,176.7 507.4,172.6 507.9,143.9 508.3,162.8 508.7,159.0 509.1,163.9 509.5,140.8 509.9,156.9 510.3,169.8 510.8,175.7 511.2,155.7 511.6,154.7 512.0,153.1 512.4,134.8 512.8,156.8 513.3,136.9 513.7,175.2 514.1,157.4 514.5,157.1 514.9,145.2 515.3,136.7 515.7,150.2 516.2,151.3 516.6,153.3 517.0,158.1 517.4,167.0 517.8,153.8 518.2,142.4 518.6,161.2 519.1,155.8 519.5,159.9 519.9,149.4 520.3,171.0 520.7,154.1 521.1,166.2 521.6,156.9 522.0,154.0 522.4,143.4 522.8,151.2 523.2,155.6 523.6,148.5 524.0,151.9 524.5,147.8 524.9,142.8 525.3,160.7 525.7,158.2 526.1,150.1 526.5,134.9 527.0,141.1 527.4,154.8 527.8,155.7 528.2,145.5 528.6,146.7 529.0,137.2 529.4,152.1 529.9,143.9 530.3,138.5 530.7,160.1 531.1,131.8 531.5,140.2 531.9,137.4 532.3,143.4 532.8,161.8 533.2,153.3 533.6,131.9 534.0,127.8 534.4,149.2 534.8,151.1 535.3,168.0 535.7,150.0 536.1,134.2 536.5,133.3 536.9,134.9 537.3,154.0 537.7,140.0 538.2,154.6 538.6,140.1 539.0,128.7 539.4,148.3 539.8,143.5 540.2,133.4 540.7,143.4 541.1,129.8 541.5,127.0 541.9,123.1 542.3,149.1 542.7,135.2 543.1,138.6 543.6,140.9 544.0,124.5 544.4,133.1 544.8,155.5 545.2,144.2 545.6,128.5 546.0,141.7 546.5,121.1 546.9,142.4 547.3,143.6 547.7,134.3 548.1,124.7 548.5,134.3 549.0,131.0 549.4,150.3 549.8,142.7 550.2,158.5 550.6,131.3 551.0,146.5 551.4,150.3 551.9,137.4 552.3,124.5 552.7,119.9 553.1,138.3 553.5,124.4 553.9,122.9 554.4,122.4 554.8,130.0 555.2,138.9 555.6,116.3 556.0,119.7 556.4,126.7 556.8,112.6 557.3,129.9 557.7,144.5 558.1,138.8 558.5,121.1 558.9,128.9 559.3,124.3 559.7,152.9 560.2,135.5 560.6,141.4 561.0,130.7 561.4,101.8 561.8,114.3 562.2,121.6 562.7,117.9 563.1,111.9 563.5,121.2 563.9,106.1 564.3,130.2 564.7,128.2 565.1,131.9 565.6,135.2 566.0,142.9 566.4,112.0 566.8,116.1 567.2,131.6 567.6,135.8 568.1,104.9 568.5,126.3 568.9,120.1 569.3,132.0 569.7,108.0 570.1,123.8 570.5,140.3 571.0,107.9 571.4,117.8 571.8,121.1 572.2,145.8 572.6,126.7 573.0,127.1 573.4,140.7 573.9,144.9 574.3,123.7 574.7,119.8 575.1,118.0 575.5,123.0 575.9,111.4 576.4,137.6 576.8,105.8 577.2,109.3 577.6,120.7 578.0,103.8 578.4,121.3 578.8,118.1 579.3,108.0 579.7,113.5 580.1,112.9 580.5,116.6 580.9,109.1 581.3,102.2 581.8,129.8 582.2,110.2 582.6,121.4 583.0,105.9 583.4,111.9 583.8,104.6 584.2,94.3 584.7,99.1 585.1,121.0 585.5,104.5 585.9,107.7 586.3,99.4 586.7,110.2 587.1,131.6 587.6,101.3 588.0,109.2 588.4,97.4 588.8,109.0 589.2,110.2 589.6,120.4 590.1,112.3 590.5,117.5 590.9,110.3 591.3,101.1 591.7,96.4 592.1,120.3 592.5,104.3 593.0,116.4 593.4,107.0 593.8,115.3 594.2,123.5 594.6,89.4 595.0,98.7 595.5,87.9 595.9,135.7 596.3,163.7 596.7,184.1 597.1,151.2 597.5,118.4 597.9,135.5 598.4,105.2 598.8,94.0 599.2,100.1 599.6,105.2 600.0,102.8 600.4,91.4 600.8,116.7 601.3,91.0 601.7,116.5 602.1,93.8 602.5,115.0 602.9,107.3 603.3,106.4 603.8,123.2 604.2,101.9 604.6,124.7 605.0,98.3 605.4,102.7 605.8,110.5 606.2,105.7 606.7,103.3 607.1,95.5 607.5,108.7 607.9,100.9 608.3,110.2 608.7,131.7 609.1,92.0 609.6,103.2 610.0,96.8 610.4,106.3 610.8,94.3 611.2,89.2 611.6,96.4 612.1,86.3 612.5,79.8 612.9,81.8 613.3,92.0 613.7,113.2 614.1,91.1 614.5,95.8 615.0,102.4 615.4,101.7 615.8,109.5 616.2,101.8 616.6,96.3 617.0,113.9 617.5,115.2 617.9,108.2 618.3,108.2 618.7,115.9 619.1,107.5 619.5,108.8 619.9,121.3 620.4,124.4 620.8,105.3 621.2,118.4 621.6,101.1 622.0,116.4 622.4,105.5 622.8,94.9 623.3,111.8 623.7,109.1 624.1,101.2 624.5,102.5 624.9,108.3 625.3,122.8 625.8,104.7 626.2,106.7 626.6,95.4 627.0,108.0 627.4,93.7 627.8,110.5 628.2,101.3 628.7,110.5 629.1,97.5 629.5,100.6 629.9,98.9 630.3,84.9 630.7,89.4 631.2,84.0 631.6,93.2 632.0,117.4 632.4,92.7 632.8,76.3 633.2,104.1 633.6,96.1 634.1,87.8 634.5,88.1 634.9,95.6 635.3,124.1 635.7,100.1 636.1,85.4 636.5,105.7 637.0,89.8 637.4,94.1 637.8,99.2 638.2,110.8 638.6,94.3 639.0,100.9 639.5,99.0 639.9,94.0 640.3,110.4 640.7,80.9 641.1,112.6 641.5,95.6 641.9,92.7 642.4,97.8 642.8,113.5 643.2,90.5 643.6,116.3 644.0,94.0 644.4,84.4 644.9,103.8 645.3,102.3 645.7,95.0 646.1,96.8 646.5,102.6 646.9,84.1 647.3,92.4 647.8,118.3 648.2,94.4 648.6,90.1 649.0,78.6 649.4,90.5 649.8,89.7 650.2,96.4 650.7,94.4 651.1,92.3 651.5,83.9 651.9,99.0 652.3,97.7 652.7,106.3 653.2,96.9 653.6,98.8 654.0,106.0 654.4,111.0 654.8,114.6 655.2,82.4 655.6,78.0 656.1,99.1 656.5,102.0 656.9,103.2 657.3,86.0 657.7,89.7 658.1,84.6 658.6,92.7 659.0,89.2 659.4,106.7 659.8,89.7 660.2,90.8 660.6,94.0 661.0,118.5 661.5,96.3 661.9,75.6 662.3,92.3 662.7,95.6 663.1,102.9 663.5,105.4 663.9,96.2 664.4,90.5 664.8,79.2 665.2,92.6 665.6,92.3 666.0,96.2 666.4,102.8 666.9,83.5 667.3,101.6 667.7,85.1 668.1,78.7 668.5,95.8 668.9,95.3 669.3,96.4 669.8,87.0 670.2,102.6 670.6,90.9 671.0,77.1 671.4,119.3 671.8,88.8 672.3,110.1 672.7,96.1 673.1,87.3 673.5,72.0 673.9,91.3 674.3,86.9 674.7,88.1 675.2,85.1 675.6,89.6 676.0,85.7 676.4,90.7 676.8,80.6 677.2,66.4 677.6,78.3 678.1,66.2 678.5,67.7 678.9,89.8 679.3,105.1 679.7,86.8 680.1,111.2 680.6,84.8 681.0,98.0 681.4,93.8 681.8,67.3 682.2,77.3 682.6,74.1 683.0,102.6 683.5,65.1 683.9,101.6 684.3,89.0 684.7,115.3 685.1,92.5 685.5,89.6 686.0,91.3 686.4,65.4 686.8,68.3"/>
<polyline stroke="#1f77b4" points="418.6,323.5 419.1,323.4 419.7,323.3 420.2,323.6 420.8,323.3 421.3,323.3 421.8,323.3 422.4,323.0 422.9,323.1 423.5,323.1 424.0,323.3 424.5,323.2 425.1,323.0 425.6,323.2 426.1,322.9 426.7,323.0 427.2,323.0 427.8,323.3 428.3,323.2 428.8,323.1 429.4,323.6 429.9,323.1 430.5,322.8 431.0,323.3 431.5,323.3 432.1,323.0 432.6,322.8 433.2,322.9 433.7,322.7 434.2,323.2 434.8,322.7 435.3,322.9 435.8,322.9 436.4,322.8 436.9,322.9 437.5,322.6 438.0,322.9 438.5,322.6 439.1,322.4 439.6,322.6 440.2,322.9 440.7,322.5 441.2,322.6 441.8,322.5 442.3,322.9 442.9,322.7 443.4,323.1 443.9,322.5 444.5,322.1 445.0,322.3 445.6,322.6 446.1,322.5 446.6,322.4 447.2,322.4 447.7,322.3 448.2,322.0 448.8,322.1 449.3,322.6 449.9,322.4 450.4,322.6 450.9,322.4 451.5,322.4 452.0,322.1 452.6,322.5 453.1,322.1 453.6,322.7 454.2,322.4 454.7,322.3 455.3,322.0 455.8,321.9 456.3,322.1 456.9,321.7 457.4,322.4 458.0,322.6 458.5,322.0 459.0,321.8 459.6,321.6 460.1,321.7 460.6,321.7 461.2,322.0 461.7,322.0 462.3,322.3 462.8,321.9 463.3,322.4 463.9,321.8 464.4,321.5 465.0,322.2 465.5,321.8 466.0,321.8 466.6,321.7 467.1,321.7 467.7,321.4 468.2,321.4 468.7,321.7 469.3,321.6 469.8,321.6 470.3,321.5 470.9,321.2 471.4,321.3 472.0,321.5 472.5,321.8 473.0,321.5 473.6,321.5 474.1,321.2 474.7,321.2 475.2,321.1 475.7,320.9 476.3,320.9 476.8,321.7 477.4,321.2 477.9,320.5 478.4,320.8 479.0,321.1 479.5,320.9 480.1,320.3 480.6,320.5 481.1,321.0 481.7,320.0 482.2,320.3 482.7,320.7 483.3,320.1 483.8,321.0 484.4,320.7 484.9,319.3 485.4,319.9 486.0,319.8 486.5,320.4 487.1,320.0 487.6,318.9 488.1,320.1 488.7,319.2 489.2,319.5 489.8,319.3 490.3,319.9 490.8,319.0 491.4,319.6 491.9,319.4 492.5,318.9 493.0,319.1 493.5,318.8 494.1,318.8 494.6,319.5 495.1,318.7 495.7,318.7 496.2,320.0 496.8,318.7 497.3,319.1 497.8,318.6 498.4,318.0 498.9,319.0 499.5,318.3 500.0,318.5 500.5,318.0 501.1,317.8 501.6,317.9 502.2,318.1 502.7,317.6 503.2,318.5 503.8,318.4 504.3,318.2 504.8,318.1 505.4,317.7 505.9,318.4 506.5,317.9 507.0,317.9 507.5,318.1 508.1,316.9 508.6,317.9 509.2,317.8 509.7,318.9 510.2,317.0 510.8,317.5 511.3,316.6 511.9,317.3 512.4,317.2 512.9,315.6 513.5,316.6 514.0,316.5 514.6,315.7 515.1,317.4 515.6,318.1 516.2,316.1 516.7,317.5 517.2,316.3 517.8,316.8 518.3,317.3 518.9,315.9 519.4,315.4 519.9,315.3 520.5,315.5 521.0,315.8 521.6,316.0 522.1,315.6 522.6,314.8 523.2,315.5 523.7,314.9 524.3,315.2 524.8,316.5 525.3,315.2 525.9,317.0 526.4,315.0 527.0,314.8 527.5,314.8 528.0,315.5 528.6,314.8 529.1,313.0 529.6,313.5 530.2,312.5 530.7,312.8 531.3,313.4 531.8,314.5 532.3,313.3 532.9,313.6 533.4,314.0 534.0,313.9 534.5,313.7 535.0,314.5 535.6,312.7 536.1,313.4 536.7,311.3 537.2,312.1 537.7,311.9 538.3,311.0 538.8,311.2 539.3,312.1 539.9,311.3 540.4,311.9 541.0,311.0 541.5,311.5 542.0,311.0 542.6,308.1 543.1,313.2 543.7,309.5 544.2,311.4 544.7,309.0 545.3,311.4 545.8,311.8 546.4,307.9 546.9,308.5 547.4,310.1 548.0,310.2 548.5,310.4 549.1,310.4 549.6,310.8 550.1,309.4 550.7,307.9 551.2,307.8 551.7,306.5 552.3,306.8 552.8,308.7 553.4,306.2 553.9,306.2 554.4,307.8 555.0,305.3 555.5,305.0 556.1,307.0 556.6,306.0 557.1,305.0 557.7,304.9 558.2,302.4 558.8,306.9 559.3,307.2 559.8,305.2 560.4,304.3 560.9,304.1 561.5,303.6 562.0,302.1 562.5,301.7 563.1,301.9 563.6,301.7 564.1,304.5 564.7,302.0 565.2,301.9 565.8,301.6 566.3,301.4 566.8,303.4 567.4,300.2 567.9,301.9 568.5,300.7 569.0,300.2 569.5,298.6 570.1,299.2 570.6,297.8 571.2,299.7 571.7,298.6 572.2,300.2 572.8,297.4 573.3,299.0 573.8,298.2 574.4,295.7 574.9,298.5 575.5,295.5 576.0,294.3 576.5,292.6 577.1,295.7 577.6,295.8 578.2,296.7 578.7,297.4 579.2,295.6 579.8,293.6 580.3,296.7 580.9,295.4 581.4,294.0 581.9,295.8 582.5,294.7 583.0,297.1 583.6,295.2 584.1,298.3 584.6,297.2 585.2,297.1 585.7,294.1 586.2,295.5 586.8,293.8 587.3,295.2 587.9,294.4 588.4,292.2 588.9,293.9 589.5,293.1 590.0,295.9 590.6,294.1 591.1,295.0 591.6,297.5 592.2,297.3 592.7,304.4 593.3,307.5 593.8,310.6 594.3,309.6 594.9,309.9 595.4,312.7 596.0,311.8 596.5,312.5 597.0,312.7 597.6,314.1 598.1,311.9 598.6,314.1 599.2,312.2 599.7,312.1 600.3,314.5 600.8,314.1 601.3,313.7 601.9,313.4 602.4,312.6 603.0,312.3 603.5,311.6 604.0,312.9 604.6,309.1 605.1,312.2 605.7,311.1 606.2,312.7 606.7,313.7 607.3,309.8 607.8,312.7 608.3,309.6 608.9,309.1 609.4,308.6 610.0,308.3 610.5,308.8 611.0,307.1 611.6,307.8 612.1,306.5 612.7,305.9 613.2,304.3 613.7,304.4 614.3,304.6 614.8,305.7 615.4,306.2 615.9,302.8 616.4,302.8 617.0,301.9 617.5,304.3 618.1,302.2 618.6,301.1 619.1,298.8 619.7,301.4 620.2,299.2 620.7,300.3 621.3,299.5 621.8,300.1 622.4,301.6 622.9,301.1 623.4,304.4 624.0,305.4 624.5,306.7 625.1,308.7 625.6,309.6 626.1,311.7 626.7,312.9 627.2,313.8 627.8,313.1 628.3,312.2 628.8,310.6 629.4,308.0 629.9,306.3 630.5,306.1 631.0,303.2 631.5,301.5 632.1,300.7 632.6,298.4 633.1,298.8 633.7,295.5 634.2,297.8 634.8,298.9 635.3,301.8 635.8,304.1 636.4,306.8 636.9,309.0 637.5,310.4 638.0,312.0 638.5,314.9 639.1,313.4 639.6,313.2 640.2,310.0 640.7,307.6 641.2,306.8 641.8,304.8 642.3,302.7 642.8,302.3 643.4,298.8 643.9,297.5 644.5,294.6 645.0,292.6 645.5,291.4 646.1,289.5 646.6,289.7 647.2,292.3 647.7,292.5 648.2,296.7 648.8,298.7 649.3,300.7 649.9,303.6 650.4,305.0 650.9,307.9 651.5,308.2 652.0,312.0 652.6,314.4 653.1,313.0 653.6,310.4 654.2,307.7 654.7,306.6 655.2,304.2 655.8,302.2 656.3,299.0 656.9,297.0 657.4,295.2 657.9,292.6 658.5,292.2 659.0,296.9 659.6,298.1 660.1,301.4 660.6,305.7 661.2,307.4 661.7,310.8 662.3,313.4 662.8,312.5 663.3,310.6 663.9,307.4 664.4,304.8 665.0,301.4 665.5,298.1 666.0,297.1 666.6,294.3 667.1,290.5 667.6,287.5 668.2,289.1 668.7,291.6 669.3,294.0 669.8,295.7 670.3,298.2 670.9,301.1 671.4,303.2 672.0,305.8 672.5,310.2 673.0,312.8 673.6,311.4 674.1,308.3 674.7,307.4 675.2,304.4 675.7,302.6 676.3,298.4 676.8,297.0 677.3,293.5 677.9,291.0 678.4,289.4 679.0,286.3 679.5,289.2 680.0,290.9 680.6,292.9 681.1,296.0 681.7,297.0 682.2,299.4 682.7,302.0 683.3,304.2 683.8,302.5 684.4,298.5 684.9,297.2 685.4,294.0 686.0,290.6 686.5,288.2 687.1,286.1 687.6,282.3"/>
<polyline stroke="#17becf" points="418.6,323.4 419.1,323.5 419.7,323.4 420.2,323.4 420.8,323.4 421.3,323.3 421.8,323.6 422.4,323.5 422.9,323.3 423.5,323.3 424.0,323.4 424.5,323.3 425.1,323.3 425.6,323.3 426.2,323.4 426.7,323.3 427.2,323.4 427.8,323.4 428.3,323.3 428.9,323.3 429.4,323.4 429.9,323.2 430.5,323.1 431.0,323.3 431.6,323.2 432.1,323.4 432.6,323.2 433.2,323.2 433.7,323.3 434.2,323.3 434.8,323.5 435.3,323.2 435.9,323.1 436.4,323.0 436.9,323.0 437.5,323.3 438.0,323.2 438.6,323.2 439.1,323.2 439.6,323.2 440.2,323.2 440.7,323.1 441.3,323.4 441.8,323.1 442.3,323.0 442.9,323.1 443.4,323.3 444.0,323.2 444.5,323.2 445.0,323.1 445.6,323.0 446.1,323.3 446.7,323.0 447.2,323.2 447.7,323.1 448.3,323.0 448.8,323.1 449.4,323.1 449.9,323.0 450.4,323.2 451.0,323.1 451.5,323.0 452.1,322.8 452.6,323.1 453.1,323.1 453.7,323.2 454.2,323.1 454.8,323.1 455.3,322.9 455.8,322.7 456.4,322.9 456.9,322.9 457.5,322.9 458.0,323.0 458.5,323.1 459.1,323.0 459.6,323.0 460.1,322.6 460.7,322.9 461.2,323.1 461.8,323.1 462.3,323.0 462.8,322.9 463.4,322.8 463.9,322.8 464.5,322.8 465.0,322.9 465.5,323.0 466.1,323.0 466.6,322.8 467.2,323.0 467.7,322.8 468.2,322.9 468.8,322.8 469.3,323.0 469.9,322.8 470.4,322.6 470.9,322.9 471.5,322.9 472.0,322.8 472.6,323.0 473.1,323.1 473.6,322.9 474.2,323.1 474.7,322.9 475.3,322.9 475.8,322.8 476.3,323.0 476.9,322.9 477.4,323.0 478.0,322.8 478.5,322.8 479.0,322.9 479.6,322.7 480.1,322.7 480.7,322.8 481.2,322.8 481.7,322.7 482.3,322.7 482.8,322.8 483.4,322.8 483.9,322.8 484.4,322.9 485.0,322.8 485.5,322.7 486.1,322.8 486.6,323.1 487.1,322.7 487.7,322.4 488.2,322.5 488.7,322.5 489.3,322.7 489.8,322.5 490.4,322.6 490.9,322.8 491.4,322.6 492.0,322.6 492.5,322.6 493.1,322.7 493.6,322.6 494.1,322.6 494.7,322.7 495.2,322.7 495.8,322.7 496.3,322.7 496.8,322.8 497.4,322.6 497.9,322.7 498.5,322.6 499.0,322.5 499.5,322.8 500.1,322.6 500.6,322.7 501.2,322.6 501.7,322.6 502.2,322.3 502.8,322.6 503.3,322.7 503.9,322.7 504.4,322.5 504.9,322.5 505.5,322.7 506.0,322.7 506.6,322.6 507.1,322.6 507.6,322.6 508.2,322.3 508.7,322.8 509.3,322.3 509.8,322.4 510.3,322.6 510.9,322.5 511.4,322.6 512.0,322.4 512.5,322.4 513.0,322.4 513.6,322.8 514.1,322.5 514.6,322.3 515.2,322.4 515.7,322.4 516.3,322.4 516.8,322.3 517.3,322.4 517.9,322.5 518.4,322.6 519.0,322.7 519.5,322.3 520.0,322.2 520.6,322.1 521.1,322.4 521.7,322.3 522.2,322.2 522.7,322.1 523.3,321.9 523.8,322.4 524.4,322.3 524.9,322.3 525.4,322.6 526.0,322.4 526.5,322.1 527.1,322.2 527.6,322.4 528.1,322.2 528.7,322.3 529.2,322.5 529.8,322.4 530.3,321.9 530.8,322.2 531.4,322.5 531.9,322.2 532.5,322.0 533.0,322.1 533.5,322.3 534.1,322.0 534.6,322.3 535.2,322.0 535.7,322.3 536.2,322.2 536.8,321.9 537.3,322.1 537.9,322.5 538.4,322.4 538.9,322.5 539.5,322.5 540.0,322.3 540.5,322.3 541.1,322.3 541.6,322.4 542.2,322.4 542.7,322.1 543.2,322.3 543.8,322.2 544.3,322.1 544.9,322.2 545.4,322.0 545.9,322.1 546.5,322.2 547.0,322.2 547.6,322.0 548.1,322.1 548.6,322.0 549.2,322.0 549.7,322.3 550.3,322.0 550.8,322.2 551.3,322.5 551.9,322.2 552.4,321.7 553.0,322.3 553.5,322.1 554.0,322.4 554.6,322.2 555.1,321.9 555.7,322.2 556.2,322.1 556.7,322.0 557.3,322.2 557.8,322.2 558.4,322.2 558.9,322.3 559.4,321.9 560.0,322.0 560.5,322.1 561.1,321.9 561.6,322.1 562.1,322.0 562.7,322.1 563.2,322.0 563.8,322.1 564.3,321.7 564.8,321.9 565.4,322.0 565.9,322.3 566.5,321.7 567.0,322.1 567.5,322.1 568.1,321.9 568.6,321.9 569.1,321.7 569.7,322.0 570.2,322.0 570.8,321.8 571.3,322.0 571.8,322.0 572.4,321.9 572.9,321.9 573.5,321.9 574.0,322.2 574.5,322.0 575.1,322.0 575.6,322.2 576.2,322.1 576.7,321.8 577.2,321.9 577.8,321.8 578.3,322.1 578.9,321.9 579.4,321.9 579.9,322.4 580.5,321.9 581.0,321.8 581.6,321.7 582.1,321.8 582.6,321.9 583.2,321.6 583.7,322.1 584.3,322.3 584.8,321.8 585.3,321.8 585.9,322.0 586.4,322.0 587.0,321.9 587.5,322.0 588.0,321.9 588.6,322.0 589.1,322.2 589.7,321.8 590.2,321.9 590.7,322.1 591.3,321.9 591.8,321.7 592.4,321.8 592.9,322.0 593.4,321.7 594.0,321.5 594.5,321.8 595.0,321.6 595.6,321.6 596.1,321.7 596.7,321.6 597.2,321.5 597.7,321.6 598.3,321.9 598.8,321.7 599.4,321.7 599.9,322.0 600.4,321.9 601.0,321.9 601.5,321.6 602.1,322.0 602.6,321.9 603.1,321.8 603.7,321.6 604.2,321.5 604.8,321.6 605.3,321.5 605.8,321.4 606.4,321.7 606.9,321.6 607.5,321.8 608.0,321.7 608.5,321.5 609.1,321.5 609.6,321.6 610.2,321.5 610.7,322.0 611.2,321.9 611.8,321.7 612.3,321.8 612.9,321.7 613.4,321.9 613.9,321.7 614.5,321.8 615.0,321.8 615.6,321.6 616.1,321.5 616.6,321.7 617.2,321.4 617.7,321.7 618.3,321.8 618.8,321.5 619.3,321.8 619.9,321.6 620.4,321.7 621.0,321.7 621.5,321.5 622.0,321.5 622.6,321.7 623.1,321.5 623.6,321.4 624.2,322.1 624.7,321.6 625.3,321.6 625.8,321.8 626.3,322.0 626.9,321.4 627.4,321.9 628.0,321.7 628.5,321.6 629.0,321.6 629.6,321.3 630.1,321.6 630.7,321.5 631.2,321.5 631.7,321.6 632.3,321.6 632.8,321.4 633.4,321.5 633.9,321.2 634.4,321.5 635.0,321.3 635.5,321.3 636.1,321.5 636.6,321.5 637.1,321.3 637.7,321.2 638.2,321.6 638.8,321.3 639.3,321.5 639.8,321.5 640.4,321.7 640.9,321.4 641.5,321.2 642.0,320.9 642.5,321.2 643.1,321.5 643.6,321.7 644.2,321.4 644.7,321.3 645.2,321.2 645.8,321.3 646.3,321.5 646.9,321.3 647.4,321.5 647.9,321.3 648.5,321.5 649.0,321.3 649.5,321.2 650.1,321.4 650.6,320.8 651.2,321.3 651.7,321.4 652.2,321.5 652.8,321.5 653.3,321.3 653.9,321.3 654.4,321.3 654.9,321.4 655.5,321.2 656.0,321.6 656.6,321.4 657.1,321.3 657.6,321.3 658.2,321.0 658.7,321.1 659.3,321.3 659.8,321.2 660.3,321.1 660.9,321.2 661.4,321.2 662.0,321.4 662.5,321.2 663.0,321.0 663.6,321.3 664.1,321.0 664.7,321.0 665.2,321.2 665.7,321.3 666.3,321.1 666.8,321.1 667.4,321.2 667.9,321.0 668.4,321.1 669.0,321.3 669.5,321.2 670.1,320.9 670.6,320.9 671.1,321.2 671.7,321.0 672.2,321.2 672.8,320.8 673.3,321.2 673.8,321.0 674.4,321.2 674.9,321.1 675.4,321.0 676.0,321.2 676.5,320.9 677.1,321.0 677.6,321.4 678.1,321.1 678.7,321.1 679.2,320.7 679.8,321.1 680.3,321.4 680.8,321.3 681.4,321.4 681.9,321.0 682.5,321.1 683.0,320.7 683.5,321.0 684.1,320.8 684.6,321.0 685.2,321.2 685.7,321.2 686.2,321.1 686.8,321.1 687.3,321.4 687.9,321.2 688.4,321.3"/>
<polyline stroke="#9edae5" points="418.6,323.5 419.1,323.5 419.7,323.2 420.2,323.4 420.8,323.5 421.3,323.5 421.8,323.3 422.4,323.5 422.9,323.2 423.5,323.2 424.0,323.3 424.5,323.2 425.1,323.4 425.6,323.3 426.2,323.6 426.7,323.3 427.2,323.2 427.8,323.3 428.3,323.4 428.9,323.2 429.4,323.3 429.9,323.0 430.5,323.4 431.0,323.5 431.6,323.4 432.1,323.3 432.6,323.4 433.2,323.3 433.7,323.4 434.2,323.3 434.8,323.2 435.3,323.5 435.9,323.3 436.4,323.3 436.9,323.2 437.5,323.3 438.0,323.4 438.6,323.3 439.1,323.2 439.6,323.2 440.2,323.1 440.7,323.0 441.3,323.3 441.8,323.3 442.3,323.2 442.9,323.1 443.4,322.9 444.0,323.1 444.5,323.0 445.0,323.0 445.6,323.2 446.1,323.3 446.7,323.4 447.2,323.3 447.7,323.1 448.3,323.1 448.8,323.3 449.4,323.2 449.9,323.4 450.4,323.4 451.0,323.1 451.5,322.9 452.1,323.3 452.6,323.0 453.1,323.1 453.7,323.1 454.2,323.0 454.8,323.1 455.3,323.1 455.8,323.1 456.4,323.2 456.9,323.2 457.5,323.3 458.0,323.0 458.5,323.3 459.1,323.4 459.6,323.2 460.1,323.2 460.7,323.1 461.2,323.2 461.8,323.3 462.3,323.3 462.8,323.2 463.4,323.0 463.9,323.1 464.5,323.2 465.0,323.3 465.5,323.1 466.1,323.1 466.6,323.0 467.2,323.1 467.7,323.1 468.2,323.1 468.8,323.1 469.3,323.4 469.9,322.9 470.4,322.7 470.9,323.0 471.5,323.0 472.0,323.0 472.6,322.9 473.1,323.0 473.6,323.0 474.2,323.0 474.7,323.1 475.3,323.0 475.8,323.1 476.3,323.2 476.9,322.9 477.4,323.0 478.0,323.1 478.5,323.0 479.0,322.9 479.6,323.0 480.1,322.9 480.7,323.2 481.2,323.1 481.7,323.1 482.3,323.1 482.8,322.9 483.4,323.1 483.9,323.1 484.4,322.9 485.0,322.8 485.5,322.9 486.1,322.8 486.6,323.0 487.1,322.7 487.7,322.9 488.2,322.9 488.7,322.9 489.3,323.0 489.8,323.0 490.4,322.9 490.9,323.0 491.4,322.9 492.0,322.9 492.5,322.8 493.1,323.0 493.6,322.8 494.1,323.0 494.7,323.0 495.2,323.1 495.8,323.0 496.3,322.8 496.8,322.7 497.4,322.9 497.9,322.9 498.5,322.8 499.0,322.8 499.5,322.9 500.1,322.7 500.6,323.0 501.2,322.9 501.7,322.9 502.2,323.0 502.8,322.6 503.3,322.8 503.9,322.9 504.4,322.8 504.9,322.9 505.5,322.8 506.0,322.9 506.6,323.0 507.1,323.0 507.6,323.1 508.2,322.8 508.7,322.8 509.3,322.8 509.8,322.6 510.3,322.8 510.9,322.9 511.4,322.9 512.0,323.0 512.5,322.9 513.0,322.6 513.6,322.8 514.1,322.8 514.6,322.6 515.2,322.9 515.7,323.0 516.3,322.7 516.8,322.8 517.3,322.7 517.9,322.6 518.4,322.8 519.0,322.7 519.5,322.6 520.0,322.5 520.6,322.5 521.1,322.7 521.7,322.7 522.2,322.7 522.7,322.8 523.3,322.6 523.8,322.8 524.4,322.8 524.9,322.6 525.4,322.6 526.0,322.5 526.5,322.8 527.1,322.7 527.6,322.6 528.1,322.6 528.7,322.7 529.2,322.7 529.8,322.8 530.3,322.6 530.8,322.4 531.4,322.6 531.9,322.6 532.5,322.8 533.0,322.7 533.5,322.6 534.1,322.6 534.6,322.9 535.2,322.8 535.7,322.4 536.2,322.6 536.8,322.9 537.3,322.6 537.9,322.8 538.4,322.9 538.9,322.6 539.5,322.6 540.0,322.8 540.5,322.4 541.1,322.5 541.6,322.3 542.2,322.7 542.7,322.7 543.2,322.8 543.8,322.4 544.3,322.3 544.9,322.5 545.4,322.7 545.9,322.6 546.5,322.6 547.0,322.8 547.6,322.7 548.1,322.7 548.6,322.6 549.2,322.7 549.7,322.6 550.3,322.7 550.8,322.4 551.3,322.8 551.9,322.5 552.4,322.6 553.0,322.4 553.5,322.5 554.0,322.6 554.6,322.4 555.1,322.4 555.7,322.6 556.2,322.5 556.7,322.5 557.3,322.4 557.8,322.5 558.4,322.6 558.9,322.4 559.4,322.7 560.0,322.5 560.5,322.4 561.1,322.7 561.6,322.6 562.1,322.5 562.7,322.6 563.2,322.5 563.8,322.5 564.3,322.5 564.8,322.1 565.4,322.5 565.9,322.5 566.5,322.5 567.0,322.4 567.5,322.6 568.1,322.3 568.6,322.1 569.1,322.1 569.7,322.3 570.2,322.1 570.8,322.4 571.3,322.6 571.8,322.3 572.4,322.4 572.9,322.5 573.5,322.5 574.0,322.4 574.5,322.6 575.1,322.2 575.6,322.3 576.2,322.3 576.7,322.7 577.2,322.6 577.8,322.4 578.3,322.4 578.9,322.4 579.4,322.3 579.9,322.3 580.5,322.3 581.0,322.3 581.6,322.4 582.1,322.2 582.6,322.4 583.2,322.4 583.7,322.4 584.3,322.4 584.8,322.5 585.3,322.3 585.9,322.5 586.4,322.2 587.0,322.5 587.5,322.4 588.0,322.4 588.6,322.2 589.1,322.3 589.7,322.4 590.2,322.3 590.7,322.4 591.3,322.2 591.8,322.4 592.4,322.4 592.9,322.2 593.4,322.2 594.0,322.5 594.5,322.4 595.0,322.5 595.6,322.4 596.1,322.3 596.7,322.7 597.2,322.5 597.7,322.2 598.3,322.0 598.8,322.2 599.4,322.5 599.9,322.3 600.4,322.3 601.0,322.1 601.5,322.2 602.1,322.1 602.6,322.2 603.1,322.3 603.7,322.3 604.2,322.2 604.8,322.2 605.3,322.4 605.8,322.3 606.4,322.2 606.9,322.5 607.5,321.9 608.0,322.3 608.5,322.3 609.1,322.1 609.6,322.3 610.2,322.1 610.7,322.2 611.2,322.1 611.8,322.5 612.3,322.1 612.9,322.4 613.4,322.2 613.9,321.9 614.5,321.9 615.0,322.0 615.6,321.8 616.1,321.9 616.6,322.2 617.2,322.0 617.7,322.2 618.3,322.3 618.8,322.2 619.3,322.2 619.9,322.2 620.4,322.3 621.0,322.1 621.5,322.1 622.0,321.9 622.6,322.2 623.1,322.2 623.6,322.1 624.2,322.1 624.7,322.2 625.3,322.3 625.8,322.4 626.3,322.3 626.9,322.1 627.4,322.4 628.0,321.9 628.5,321.8 629.0,321.8 629.6,322.0 630.1,322.0 630.7,321.9 631.2,322.5 631.7,322.0 632.3,321.7 632.8,322.0 633.4,322.0 633.9,322.1 634.4,322.1 635.0,322.3 635.5,322.3 636.1,322.5 636.6,322.4 637.1,322.0 637.7,322.3 638.2,321.9 638.8,322.2 639.3,321.8 639.8,321.8 640.4,322.1 640.9,322.2 641.5,322.0 642.0,321.8 642.5,322.1 643.1,322.3 643.6,321.8 644.2,321.8 644.7,322.2 645.2,322.2 645.8,321.7 646.3,322.3 646.9,321.9 647.4,322.2 647.9,322.1 648.5,322.0 649.0,321.8 649.5,322.0 650.1,322.3 650.6,322.2 651.2,322.0 651.7,321.8 652.2,321.9 652.8,322.2 653.3,321.7 653.9,321.8 654.4,321.8 654.9,322.2 655.5,321.9 656.0,322.0 656.6,322.2 657.1,321.9 657.6,322.0 658.2,321.9 658.7,321.9 659.3,322.0 659.8,322.2 660.3,321.9 660.9,321.7 661.4,322.1 662.0,321.7 662.5,322.3 663.0,321.9 663.6,321.8 664.1,321.8 664.7,321.9 665.2,322.1 665.7,322.0 666.3,321.8 666.8,321.8 667.4,321.9 667.9,321.7 668.4,322.0 669.0,321.8 669.5,321.8 670.1,321.9 670.6,321.7 671.1,321.9 671.7,321.7 672.2,322.1 672.8,322.0 673.3,321.8 673.8,321.6 674.4,322.2 674.9,322.2 675.4,321.7 676.0,321.8 676.5,322.1 677.1,322.1 677.6,321.8 678.1,321.8 678.7,321.5 679.2,321.8 679.8,321.9 680.3,321.9 680.8,322.1 681.4,321.7 681.9,322.0 682.5,321.4 683.0,322.1 683.5,321.7 684.1,321.8 684.6,322.1 685.2,321.8 685.7,321.8 686.2,322.0 686.8,322.1 687.3,322.0 687.9,322.2 688.4,321.7"/>
<polyline stroke="#9467bd" points="418.6,323.5 419.1,323.4 419.7,323.4 420.2,323.5 420.8,323.6 421.3,323.3 421.8,323.4 422.4,323.5 422.9,323.2 423.5,323.3 424.0,323.2 424.5,323.3 425.1,323.3 425.6,323.4 426.2,323.3 426.7,323.1 427.2,323.2 427.8,323.1 428.3,323.0 428.9,323.0 429.4,322.9 429.9,323.3 430.5,323.0 431.0,322.9 431.6,322.9 432.1,323.1 432.6,323.0 433.2,323.0 433.7,323.1 434.2,322.9 434.8,322.9 435.3,322.9 435.9,322.8 436.4,322.9 436.9,323.0 437.5,322.8 438.0,322.8 438.6,323.0 439.1,322.9 439.6,322.9 440.2,323.0 440.7,322.9 441.3,322.8 441.8,322.7 442.3,322.6 442.9,322.5 443.4,322.9 444.0,322.5 444.5,322.9 445.0,322.9 445.6,322.7 446.1,322.4 446.7,322.6 447.2,322.5 447.7,323.0 448.3,322.4 448.8,323.0 449.4,322.4 449.9,322.2 450.4,322.5 451.0,322.2 451.5,322.5 452.1,322.3 452.6,322.4 453.1,322.4 453.7,322.2 454.2,322.2 454.8,322.3 455.3,322.3 455.8,322.5 456.4,322.6 456.9,322.2 457.5,322.4 458.0,322.4 458.5,322.5 459.1,322.9 459.6,322.6 460.1,322.5 460.7,322.3 461.2,322.2 461.8,322.1 462.3,322.2 462.8,322.4 463.4,322.2 463.9,322.3 464.5,321.9 465.0,322.2 465.5,322.3 466.1,322.6 466.6,322.2 467.2,322.4 467.7,322.0 468.2,321.8 468.8,322.2 469.3,322.0 469.9,322.3 470.4,321.7 470.9,322.0 471.5,322.1 472.0,321.9 472.6,321.8 473.1,322.0 473.6,321.9 474.2,322.2 474.7,321.8 475.3,321.7 475.8,322.2 476.3,321.8 476.9,321.9 477.4,321.9 478.0,321.7 478.5,321.6 479.0,322.0 479.6,321.9 480.1,321.6 480.7,321.2 481.2,321.7 481.7,322.0 482.3,321.3 482.8,321.5 483.4,321.5 483.9,321.6 484.4,321.8 485.0,321.4 485.5,321.7 486.1,321.5 486.6,321.2 487.1,321.0 487.7,321.4 488.2,321.1 488.7,321.3 489.3,321.6 489.8,321.3 490.4,321.2 490.9,321.4 491.4,320.8 492.0,320.6 492.5,321.1 493.1,321.1 493.6,321.4 494.1,321.2 494.7,321.4 495.2,321.1 495.8,321.5 496.3,321.3 496.8,321.1 497.4,320.7 497.9,321.0 498.5,321.0 499.0,320.9 499.5,321.1 500.1,321.3 500.6,320.5 501.2,321.0 501.7,321.3 502.2,321.3 502.8,320.8 503.3,320.5 503.9,320.8 504.4,320.9 504.9,321.1 505.5,320.9 506.0,321.0 506.6,320.9 507.1,320.8 507.6,320.5 508.2,320.3 508.7,320.1 509.3,320.7 509.8,320.3 510.3,320.2 510.9,320.6 511.4,321.1 512.0,320.6 512.5,320.8 513.0,320.4 513.6,320.1 514.1,319.9 514.6,320.8 515.2,320.0 515.7,320.3 516.3,320.4 516.8,320.2 517.3,320.6 517.9,320.2 518.4,320.1 519.0,320.1 519.5,320.2 520.0,320.1 520.6,320.3 521.1,320.4 521.7,320.4 522.2,320.4 522.7,320.4 523.3,319.7 523.8,320.1 524.4,319.7 524.9,320.0 525.4,319.8 526.0,319.8 526.5,319.8 527.1,319.3 527.6,319.2 528.1,319.6 528.7,319.9 529.2,319.9 529.8,319.8 530.3,320.2 530.8,319.8 531.4,320.1 531.9,319.7 532.5,320.0 533.0,319.6 533.5,319.3 534.1,319.9 534.6,319.8 535.2,319.5 535.7,319.7 536.2,320.2 536.8,319.7 537.3,319.5 537.9,319.9 538.4,320.1 538.9,319.2 539.5,319.5 540.0,319.6 540.5,319.5 541.1,319.6 541.6,318.8 542.2,319.7 542.7,320.0 543.2,319.6 543.8,319.7 544.3,320.2 544.9,320.0 545.4,319.9 545.9,319.9 546.5,319.4 547.0,319.3 547.6,319.3 548.1,319.4 548.6,319.2 549.2,319.5 549.7,319.2 550.3,319.6 550.8,319.8 551.3,318.9 551.9,319.1 552.4,320.0 553.0,319.2 553.5,319.5 554.0,319.2 554.6,320.0 555.1,318.9 555.7,319.7 556.2,320.0 556.7,319.3 557.3,319.2 557.8,319.0 558.4,319.3 558.9,319.5 559.4,318.9 560.0,319.3 560.5,319.9 561.1,319.5 561.6,319.6 562.1,319.5 562.7,318.8 563.2,320.1 563.8,319.8 564.3,319.6 564.8,319.6 565.4,319.7 565.9,319.1 566.5,319.5 567.0,319.3 567.5,319.0 568.1,319.5 568.6,319.7 569.1,319.3 569.7,319.4 570.2,319.2 570.8,318.3 571.3,318.9 571.8,318.6 572.4,319.0 572.9,318.9 573.5,319.1 574.0,319.3 574.5,319.1 575.1,318.6 575.6,318.8 576.2,319.1 576.7,319.4 577.2,319.0 577.8,319.2 578.3,319.0 578.9,319.2 579.4,319.3 579.9,319.1 580.5,319.2 581.0,318.5 581.6,319.4 582.1,319.4 582.6,319.3 583.2,319.2 583.7,319.4 584.3,319.1 584.8,319.5 585.3,318.6 585.9,319.3 586.4,319.1 587.0,319.6 587.5,319.2 588.0,319.5 588.6,319.3 589.1,318.4 589.7,318.4 590.2,318.1 590.7,318.7 591.3,318.8 591.8,318.8 592.4,319.2 592.9,319.5 593.4,318.8 594.0,319.2 594.5,319.4 595.0,319.1 595.6,319.2 596.1,318.8 596.7,319.0 597.2,319.4 597.7,319.4 598.3,318.7 598.8,319.6 599.4,318.8 599.9,319.8 600.4,319.1 601.0,318.6 601.5,319.1 602.1,319.2 602.6,318.6 603.1,318.6 603.7,318.4 604.2,318.7 604.8,318.9 605.3,318.5 605.8,319.3 606.4,319.4 606.9,319.1 607.5,318.8 608.0,318.9 608.5,318.8 609.1,318.3 609.6,318.5 610.2,318.8 610.7,318.7 611.2,319.0 611.8,318.5 612.3,318.6 612.9,318.4 613.4,319.1 613.9,318.7 614.5,318.6 615.0,318.3 615.6,318.3 616.1,319.0 616.6,318.5 617.2,318.9 617.7,318.3 618.3,318.7 618.8,318.8 619.3,318.6 619.9,318.2 620.4,318.3 621.0,318.4 621.5,318.8 622.0,319.4 622.6,318.9 623.1,318.4 623.6,318.8 624.2,318.5 624.7,319.1 625.3,318.3 625.8,318.7 626.3,319.1 626.9,318.9 627.4,319.7 628.0,318.9 628.5,318.9 629.0,318.9 629.6,319.5 630.1,319.4 630.7,319.0 631.2,318.5 631.7,318.7 632.3,319.1 632.8,317.6 633.4,317.7 633.9,318.3 634.4,318.3 635.0,318.8 635.5,317.8 636.1,318.2 636.6,318.5 637.1,319.4 637.7,318.8 638.2,318.6 638.8,318.6 639.3,318.4 639.8,318.7 640.4,318.8 640.9,317.9 641.5,318.5 642.0,318.1 642.5,319.0 643.1,318.2 643.6,318.8 644.2,318.1 644.7,318.0 645.2,318.2 645.8,318.3 646.3,318.6 646.9,319.0 647.4,318.4 647.9,319.0 648.5,319.2 649.0,318.5 649.5,318.6 650.1,317.7 650.6,318.8 651.2,317.9 651.7,318.0 652.2,318.6 652.8,317.9 653.3,318.2 653.9,318.3 654.4,318.2 654.9,318.9 655.5,318.8 656.0,318.1 656.6,318.4 657.1,318.4 657.6,318.7 658.2,318.8 658.7,318.8 659.3,319.2 659.8,318.3 660.3,318.3 660.9,318.5 661.4,318.6 662.0,318.6 662.5,318.7 663.0,318.7 663.6,318.3 664.1,317.6 664.7,317.5 665.2,318.4 665.7,318.5 666.3,318.4 666.8,318.0 667.4,319.5 667.9,318.8 668.4,318.4 669.0,318.1 669.5,318.4 670.1,318.5 670.6,318.2 671.1,317.9 671.7,317.9 672.2,318.2 672.8,317.7 673.3,318.4 673.8,318.8 674.4,318.2 674.9,318.5 675.4,318.0 676.0,318.0 676.5,318.8 677.1,318.6 677.6,318.6 678.1,317.6 678.7,318.2 679.2,318.3 679.8,317.7 680.3,317.9 680.8,318.2 681.4,319.0 681.9,318.6 682.5,317.9 683.0,318.1 683.5,317.8 684.1,318.5 684.6,318.2 685.2,318.0 685.7,319.2 686.2,318.5 686.8,318.3 687.3,318.3 687.9,318.1 688.4,318.1"/>
</g>
<g stroke="#000" stroke-width="1.15" fill="none">
<rect x="418.6" y="33.3" width="269.8" height="290.1"/>
<path stroke-width="0.9" d="M472.6,323.4v-5.4M472.6,33.3v5.4M526.5,323.4v-5.4M526.5,33.3v5.4M580.5,323.4v-5.4M580.5,33.3v5.4M634.4,323.4v-5.4M634.4,33.3v5.4M418.6,287.1h5.4M688.4,287.1h-5.4M418.6,250.9h5.4M688.4,250.9h-5.4M418.6,214.6h5.4M688.4,214.6h-5.4M418.6,178.3h5.4M688.4,178.3h-5.4M418.6,142.1h5.4M688.4,142.1h-5.4M418.6,105.8h5.4M688.4,105.8h-5.4M418.6,69.6h5.4M688.4,69.6h-5.4"/>
</g>
<clipPath id="c20"><rect x="741.7" y="33.3" width="269.8" height="290.1"/></clipPath>
<g clip-path="url(#c20)" fill="none" stroke-width="2.7" stroke-linejoin="round" stroke-linecap="butt">
<polyline stroke="#ff7f0e" points="741.7,278.8 742.2,278.9 742.8,279.1 743.3,277.9 743.9,275.8 744.4,276.4 744.9,278.1 745.5,278.6 746.0,276.5 746.6,277.6 747.1,274.9 747.6,275.4 748.2,277.3 748.7,276.1 749.3,276.8 749.8,276.5 750.3,276.0 750.9,277.2 751.4,276.1 752.0,275.9 752.5,275.0 753.0,275.1 753.6,272.9 754.1,275.1 754.7,273.0 755.2,274.2 755.7,273.3 756.3,271.9 756.8,270.7 757.3,268.1 757.9,272.3 758.4,267.5 759.0,265.7 759.5,259.0 760.0,258.3 760.6,252.9 761.1,252.4 761.7,247.2 762.2,240.2 762.7,231.3 763.3,228.2 763.8,218.4 764.4,214.8 764.9,209.1 765.4,205.1 766.0,195.4 766.5,195.7 767.1,190.4 767.6,188.8 768.1,186.1 768.7,182.6 769.2,184.4 769.8,179.9 770.3,176.2 770.8,173.9 771.4,170.6 771.9,165.8 772.5,156.4 773.0,147.5 773.5,132.4 774.1,121.3 774.6,109.1 775.2,104.6 775.7,101.2 776.2,103.6 776.8,103.6 777.3,101.0 777.9,98.2 778.4,98.5 778.9,98.9 779.5,98.1 780.0,97.2 780.6,92.8 781.1,94.3 781.6,90.6 782.2,94.7 782.7,91.1 783.2,89.3 783.8,89.2 784.3,87.3 784.9,84.3 785.4,83.3 785.9,84.0 786.5,81.9 787.0,82.1 787.6,81.7 788.1,81.2 788.6,81.7 789.2,81.4 789.7,82.2 790.3,81.5 790.8,82.4 791.3,81.5 791.9,81.2 792.4,81.4 793.0,81.8 793.5,81.1 794.0,81.6 794.6,81.1 795.1,80.8 795.7,80.6 796.2,80.1 796.7,81.2 797.3,81.1 797.8,81.6 798.4,81.7 798.9,81.3 799.4,82.0 800.0,80.7 800.5,80.9 801.1,81.4 801.6,80.2 802.1,80.9 802.7,81.5 803.2,80.1 803.8,79.8 804.3,80.5 804.8,80.5 805.4,81.4 805.9,80.1 806.5,80.7 807.0,79.9 807.5,79.8 808.1,80.3 808.6,80.6 809.2,80.5 809.7,80.9 810.2,80.1 810.8,80.3 811.3,79.1 811.8,80.2 812.4,80.3 812.9,80.4 813.5,79.9 814.0,79.1 814.5,79.5 815.1,79.9 815.6,80.3 816.2,80.0 816.7,79.7 817.2,80.0 817.8,79.6 818.3,79.6 818.9,79.3 819.4,79.6 819.9,80.6 820.5,80.2 821.0,79.6 821.6,79.5 822.1,79.4 822.6,79.1 823.2,79.1 823.7,79.6 824.3,79.4 824.8,79.2 825.3,79.4 825.9,79.1 826.4,78.8 827.0,78.6 827.5,79.2 828.0,79.3 828.6,78.8 829.1,77.8 829.7,79.3 830.2,79.3 830.7,79.3 831.3,78.9 831.8,79.0 832.4,78.7 832.9,78.6 833.4,78.8 834.0,78.9 834.5,78.6 835.1,78.4 835.6,78.9 836.1,78.2 836.7,78.7 837.2,78.5 837.7,78.8 838.3,79.1 838.8,78.8 839.4,78.5 839.9,78.7 840.4,78.4 841.0,78.1 841.5,78.3 842.1,78.7 842.6,78.8 843.1,78.3 843.7,78.3 844.2,78.3 844.8,78.5 845.3,77.8 845.8,78.0 846.4,78.7 846.9,77.7 847.5,78.4 848.0,78.9 848.5,78.5 849.1,78.6 849.6,78.4 850.2,78.3 850.7,78.6 851.2,78.5 851.8,78.8 852.3,78.4 852.9,78.1 853.4,78.1 853.9,78.1 854.5,77.8 855.0,78.1 855.6,77.9 856.1,78.0 856.6,78.2 857.2,78.3 857.7,78.0 858.3,77.8 858.8,78.3 859.3,78.0 859.9,77.6 860.4,77.6 861.0,77.8 861.5,77.9 862.0,77.8 862.6,77.9 863.1,77.5 863.6,76.9 864.2,78.0 864.7,77.4 865.3,77.9 865.8,77.9 866.3,77.8 866.9,78.1 867.4,77.9 868.0,77.5 868.5,76.9 869.0,77.9 869.6,77.9 870.1,77.6 870.7,77.6 871.2,77.5 871.7,77.6 872.3,77.3 872.8,77.6 873.4,77.5 873.9,77.3 874.4,77.1 875.0,76.8 875.5,77.3 876.1,77.4 876.6,77.5 877.1,77.3 877.7,77.1 878.2,77.1 878.8,77.4 879.3,77.1 879.8,77.3 880.4,77.4 880.9,77.4 881.5,77.3 882.0,77.6 882.5,77.1 883.1,77.1 883.6,77.6 884.2,77.2 884.7,77.3 885.2,77.4 885.8,77.4 886.3,77.0 886.9,77.2 887.4,77.1 887.9,77.8 888.5,76.7 889.0,77.2 889.6,77.5 890.1,77.6 890.6,77.2 891.2,77.5 891.7,77.2 892.2,77.3 892.8,77.2 893.3,77.6 893.9,77.2 894.4,77.4 894.9,77.5 895.5,77.4 896.0,77.1 896.6,77.0 897.1,77.5 897.6,77.8 898.2,77.5 898.7,77.3 899.3,77.3 899.8,77.2 900.3,77.1 900.9,77.4 901.4,77.3 902.0,77.5 902.5,77.3 903.0,77.6 903.6,77.3 904.1,77.4 904.7,77.1 905.2,77.1 905.7,77.3 906.3,76.8 906.8,77.4 907.4,76.9 907.9,77.5 908.4,77.0 909.0,77.4 909.5,77.6 910.1,77.5 910.6,77.1 911.1,77.3 911.7,77.6 912.2,77.8 912.8,76.9 913.3,77.2 913.8,77.4 914.4,77.5 914.9,77.4 915.5,77.1 916.0,77.4 916.5,77.2 917.1,76.9 917.6,76.7 918.1,76.9 918.7,77.1 919.2,77.4 919.8,76.9 920.3,77.4 920.8,77.0 921.4,77.2 921.9,77.5 922.5,77.1 923.0,77.4 923.5,77.1 924.1,77.3 924.6,77.0 925.2,77.3 925.7,77.2 926.2,77.0 926.8,77.1 927.3,77.1 927.9,77.6 928.4,77.1 928.9,77.0 929.5,77.0 930.0,77.5 930.6,76.8 931.1,76.9 931.6,77.0 932.2,77.4 932.7,77.0 933.3,76.8 933.8,76.9 934.3,77.1 934.9,77.3 935.4,77.0 936.0,77.0 936.5,77.3 937.0,77.0 937.6,77.2 938.1,77.0 938.7,76.8 939.2,77.3 939.7,77.5 940.3,76.9 940.8,76.5 941.4,77.0 941.9,77.1 942.4,77.1 943.0,77.1 943.5,76.7 944.1,77.1 944.6,76.9 945.1,77.2 945.7,76.9 946.2,77.1 946.7,77.3 947.3,77.2 947.8,77.2 948.4,76.9 948.9,77.7 949.4,77.3 950.0,76.9 950.5,76.7 951.1,77.6 951.6,77.2 952.1,76.4 952.7,77.1 953.2,76.9 953.8,77.0 954.3,77.7 954.8,77.0 955.4,77.8 955.9,77.0 956.5,76.9 957.0,76.8 957.5,77.0 958.1,77.4 958.6,76.6 959.2,77.6 959.7,76.8 960.2,76.6 960.8,77.2 961.3,77.0 961.9,77.2 962.4,77.0 962.9,76.9 963.5,76.9 964.0,77.1 964.6,76.8 965.1,77.1 965.6,76.9 966.2,77.4 966.7,76.7 967.3,77.3 967.8,77.3 968.3,76.7 968.9,77.3 969.4,77.0 970.0,77.2 970.5,77.2 971.0,76.8 971.6,76.9 972.1,77.5 972.6,77.2 973.2,77.2 973.7,76.7 974.3,77.0 974.8,77.3 975.3,77.0 975.9,76.7 976.4,76.4 977.0,76.8 977.5,76.5 978.0,76.8 978.6,76.9 979.1,76.8 979.7,76.8 980.2,77.1 980.7,77.2 981.3,77.0 981.8,76.7 982.4,76.8 982.9,77.3 983.4,76.6 984.0,76.9 984.5,76.7 985.1,76.9 985.6,77.5 986.1,76.6 986.7,76.5 987.2,76.7 987.8,77.1 988.3,77.0 988.8,77.2 989.4,76.8 989.9,76.9 990.5,77.0 991.0,76.9 991.5,77.2 992.1,77.2 992.6,76.9 993.2,77.1 993.7,77.2 994.2,77.0 994.8,77.1 995.3,76.7 995.9,76.8 996.4,77.1 996.9,76.6 997.5,77.6 998.0,77.3 998.5,76.7 999.1,76.9 999.6,76.9 1000.2,77.3 1000.7,77.0 1001.2,77.0 1001.8,76.7 1002.3,76.9 1002.9,76.6 1003.4,76.8 1003.9,76.5 1004.5,76.9 1005.0,76.2 1005.6,76.9 1006.1,77.1 1006.6,76.9 1007.2,76.7 1007.7,76.8 1008.3,76.8 1008.8,77.2 1009.3,77.0 1009.9,77.0 1010.4,76.9 1011.0,76.6 1011.5,76.8"/>
<polyline stroke="#1f77b4" points="741.7,277.4 742.2,277.0 742.8,278.5 743.3,278.6 743.9,278.4 744.4,275.8 744.9,274.1 745.5,277.6 746.0,278.5 746.6,276.1 747.1,277.4 747.6,276.8 748.2,276.3 748.7,276.7 749.3,278.4 749.8,278.5 750.3,277.8 750.9,275.0 751.4,277.4 752.0,276.0 752.5,276.3 753.0,275.2 753.6,276.2 754.1,273.4 754.7,273.0 755.2,275.6 755.7,273.3 756.3,270.1 756.8,268.2 757.3,266.8 757.9,268.1 758.4,269.5 759.0,267.5 759.5,267.5 760.0,265.4 760.6,264.5 761.1,266.3 761.7,263.9 762.2,268.5 762.7,263.0 763.3,266.7 763.8,260.0 764.4,262.0 764.9,265.2 765.4,259.7 766.0,263.1 766.5,265.2 767.1,265.4 767.6,258.4 768.1,261.7 768.7,255.9 769.2,254.2 769.8,253.5 770.3,250.9 770.8,248.0 771.4,249.3 771.9,239.2 772.5,240.2 773.0,236.6 773.5,228.9 774.1,226.3 774.6,222.3 775.2,217.8 775.7,207.2 776.2,211.3 776.8,208.1 777.3,204.8 777.9,199.2 778.4,203.1 778.9,199.2 779.5,199.4 780.0,198.0 780.6,198.1 781.1,196.6 781.6,198.5 782.2,191.9 782.7,193.4 783.2,195.4 783.8,193.7 784.3,195.2 784.9,188.8 785.4,188.1 785.9,183.6 786.5,180.4 787.0,181.5 787.6,174.2 788.1,174.5 788.6,175.0 789.2,165.9 789.7,168.5 790.3,171.9 790.8,167.4 791.3,167.6 791.9,159.5 792.4,161.5 793.0,162.9 793.5,152.9 794.0,153.5 794.6,156.0 795.1,149.3 795.7,146.2 796.2,151.1 796.7,142.7 797.3,140.4 797.8,138.6 798.4,140.5 798.9,136.9 799.4,134.0 800.0,131.9 800.5,133.4 801.1,125.8 801.6,129.3 802.1,127.8 802.7,121.2 803.2,124.4 803.8,121.8 804.3,118.6 804.8,117.4 805.4,110.5 805.9,113.0 806.5,112.0 807.0,111.3 807.5,115.6 808.1,113.4 808.6,116.5 809.2,115.1 809.7,115.2 810.2,111.6 810.8,112.2 811.3,110.3 811.8,113.6 812.4,107.2 812.9,106.5 813.5,108.3 814.0,108.4 814.5,105.6 815.1,95.4 815.6,89.4 816.2,85.1 816.7,83.1 817.2,84.4 817.8,86.3 818.3,81.6 818.9,85.4 819.4,83.7 819.9,86.5 820.5,83.0 821.0,85.1 821.6,83.6 822.1,85.6 822.6,83.3 823.2,85.2 823.7,84.3 824.3,79.1 824.8,81.7 825.3,82.6 825.9,85.1 826.4,82.0 827.0,83.2 827.5,84.1 828.0,83.5 828.6,83.5 829.1,82.3 829.7,80.6 830.2,80.7 830.7,80.5 831.3,81.9 831.8,84.8 832.4,82.1 832.9,81.1 833.4,81.4 834.0,81.4 834.5,82.2 835.1,81.7 835.6,81.1 836.1,82.2 836.7,81.6 837.2,81.4 837.7,80.2 838.3,81.4 838.8,80.4 839.4,80.8 839.9,81.7 840.4,82.0 841.0,80.4 841.5,82.1 842.1,82.7 842.6,81.8 843.1,80.9 843.7,81.3 844.2,84.0 844.8,78.6 845.3,80.1 845.8,81.2 846.4,79.2 846.9,79.5 847.5,78.9 848.0,79.7 848.5,79.3 849.1,80.5 849.6,81.0 850.2,81.6 850.7,80.9 851.2,79.3 851.8,81.8 852.3,80.8 852.9,79.2 853.4,77.6 853.9,79.9 854.5,80.0 855.0,80.1 855.6,79.2 856.1,80.1 856.6,78.9 857.2,79.4 857.7,79.5 858.3,80.6 858.8,80.0 859.3,81.1 859.9,79.6 860.4,79.6 861.0,80.1 861.5,80.2 862.0,82.0 862.6,81.2 863.1,80.2 863.6,81.6 864.2,80.0 864.7,78.7 865.3,81.1 865.8,81.2 866.3,80.7 866.9,78.5 867.4,80.3 868.0,79.7 868.5,78.1 869.0,79.9 869.6,81.6 870.1,80.4 870.7,80.6 871.2,80.9 871.7,81.9 872.3,80.6 872.8,80.6 873.4,79.0 873.9,80.2 874.4,80.1 875.0,78.8 875.5,79.5 876.1,81.0 876.6,78.6 877.1,79.2 877.7,78.9 878.2,78.5 878.8,79.3 879.3,80.2 879.8,80.6 880.4,81.1 880.9,77.4 881.5,80.3 882.0,79.9 882.5,78.5 883.1,79.0 883.6,79.7 884.2,79.6 884.7,79.2 885.2,78.3 885.8,78.1 886.3,81.0 886.9,82.4 887.4,80.5 887.9,81.0 888.5,78.8 889.0,79.6 889.6,79.7 890.1,78.7 890.6,78.4 891.2,79.1 891.7,77.0 892.2,80.1 892.8,78.7 893.3,78.8 893.9,80.0 894.4,80.0 894.9,81.9 895.5,81.1 896.0,81.5 896.6,81.7 897.1,78.2 897.6,79.3 898.2,80.1 898.7,79.4 899.3,79.7 899.8,79.7 900.3,77.8 900.9,79.7 901.4,78.8 902.0,78.5 902.5,78.0 903.0,78.6 903.6,79.3 904.1,79.3 904.7,78.9 905.2,79.2 905.7,78.2 906.3,78.7 906.8,79.2 907.4,79.2 907.9,80.2 908.4,78.9 909.0,78.6 909.5,82.1 910.1,79.0 910.6,79.4 911.1,78.9 911.7,78.7 912.2,78.8 912.8,78.8 913.3,79.5 913.8,79.6 914.4,79.7 914.9,80.0 915.5,80.0 916.0,79.4 916.5,80.6 917.1,79.3 917.6,79.6 918.1,79.2 918.7,79.6 919.2,79.4 919.8,80.7 920.3,79.5 920.8,79.1 921.4,78.5 921.9,79.7 922.5,79.7 923.0,79.3 923.5,79.1 924.1,80.7 924.6,81.0 925.2,80.2 925.7,80.3 926.2,79.1 926.8,78.2 927.3,79.8 927.9,78.1 928.4,78.4 928.9,79.2 929.5,78.0 930.0,79.3 930.6,79.3 931.1,79.2 931.6,81.7 932.2,79.3 932.7,80.0 933.3,78.4 933.8,78.7 934.3,79.7 934.9,78.5 935.4,77.9 936.0,78.9 936.5,79.9 937.0,78.6 937.6,79.3 938.1,78.7 938.7,78.6 939.2,79.5 939.7,79.4 940.3,80.7 940.8,80.8 941.4,78.2 941.9,77.7 942.4,79.1 943.0,78.7 943.5,78.3 944.1,78.1 944.6,78.6 945.1,79.3 945.7,78.7 946.2,78.8 946.7,79.3 947.3,78.0 947.8,76.7 948.4,79.5 948.9,78.0 949.4,78.8 950.0,79.1 950.5,78.6 951.1,79.0 951.6,79.4 952.1,78.9 952.7,79.2 953.2,81.0 953.8,78.3 954.3,77.7 954.8,78.7 955.4,79.2 955.9,78.9 956.5,78.1 957.0,78.6 957.5,78.6 958.1,79.1 958.6,78.7 959.2,78.3 959.7,79.1 960.2,78.9 960.8,77.8 961.3,78.6 961.9,78.2 962.4,79.6 962.9,78.3 963.5,79.9 964.0,77.7 964.6,78.6 965.1,79.0 965.6,79.3 966.2,77.4 966.7,78.3 967.3,79.2 967.8,79.1 968.3,78.5 968.9,78.3 969.4,79.5 970.0,79.7 970.5,79.1 971.0,79.7 971.6,80.0 972.1,78.0 972.6,79.2 973.2,79.3 973.7,78.3 974.3,78.8 974.8,79.4 975.3,78.8 975.9,78.6 976.4,78.7 977.0,78.3 977.5,78.6 978.0,78.5 978.6,77.6 979.1,77.4 979.7,79.2 980.2,78.9 980.7,78.5 981.3,79.0 981.8,77.0 982.4,78.7 982.9,77.7 983.4,78.3 984.0,77.8 984.5,78.3 985.1,78.2 985.6,78.8 986.1,79.3 986.7,77.7 987.2,77.7 987.8,78.1 988.3,78.7 988.8,76.5 989.4,77.9 989.9,78.4 990.5,79.1 991.0,77.8 991.5,77.8 992.1,78.5 992.6,80.0 993.2,78.1 993.7,78.1 994.2,79.2 994.8,79.5 995.3,78.6 995.9,77.7 996.4,77.5 996.9,77.4 997.5,78.2 998.0,77.7 998.5,78.9 999.1,77.9 999.6,78.4 1000.2,77.5 1000.7,78.2 1001.2,76.3 1001.8,77.9 1002.3,76.4 1002.9,78.6 1003.4,78.5 1003.9,77.9 1004.5,78.2 1005.0,79.9 1005.6,77.9 1006.1,75.5 1006.6,78.6 1007.2,77.4 1007.7,77.1 1008.3,76.7 1008.8,77.5 1009.3,77.7 1009.9,78.5 1010.4,76.2 1011.0,78.0 1011.5,77.7"/>
<polyline stroke="#17becf" points="741.7,277.8 742.2,278.8 742.8,279.8 743.3,277.5 743.9,276.6 744.4,276.3 744.9,278.0 745.5,275.8 746.0,273.0 746.6,275.2 747.1,277.0 747.6,275.0 748.2,273.3 748.7,270.7 749.3,272.8 749.8,274.2 750.3,273.6 750.9,271.8 751.4,273.6 752.0,273.0 752.5,272.6 753.0,273.2 753.6,274.2 754.1,271.7 754.7,271.7 755.2,266.8 755.7,270.4 756.3,272.6 756.8,271.7 757.3,271.4 757.9,271.3 758.4,272.7 759.0,268.1 759.5,268.3 760.0,269.6 760.6,265.0 761.1,267.9 761.7,268.2 762.2,269.4 762.7,267.3 763.3,265.6 763.8,262.1 764.4,272.0 764.9,269.6 765.4,270.2 766.0,265.7 766.5,265.5 767.1,261.6 767.6,261.4 768.1,265.6 768.7,265.9 769.2,264.0 769.8,262.3 770.3,262.3 770.8,259.7 771.4,255.6 771.9,249.5 772.5,248.0 773.0,246.9 773.5,234.3 774.1,233.5 774.6,235.2 775.2,235.3 775.7,230.6 776.2,230.5 776.8,230.2 777.3,230.7 777.9,221.0 778.4,224.7 778.9,226.8 779.5,223.1 780.0,221.6 780.6,222.4 781.1,218.4 781.6,222.0 782.2,220.7 782.7,222.1 783.2,219.9 783.8,207.6 784.3,207.0 784.9,206.0 785.4,203.5 785.9,195.4 786.5,192.2 787.0,190.1 787.6,180.8 788.1,181.1 788.6,178.6 789.2,170.7 789.7,161.9 790.3,160.7 790.8,154.1 791.3,153.0 791.9,146.8 792.4,140.0 793.0,137.3 793.5,136.1 794.0,128.5 794.6,129.5 795.1,121.1 795.7,116.8 796.2,114.2 796.7,106.9 797.3,102.2 797.8,98.5 798.4,104.0 798.9,105.5 799.4,103.9 800.0,98.6 800.5,99.2 801.1,95.0 801.6,100.6 802.1,99.8 802.7,96.6 803.2,98.3 803.8,94.3 804.3,95.4 804.8,94.3 805.4,97.6 805.9,94.6 806.5,94.8 807.0,92.8 807.5,92.2 808.1,97.0 808.6,88.8 809.2,89.4 809.7,92.7 810.2,90.5 810.8,91.7 811.3,94.0 811.8,93.8 812.4,90.4 812.9,88.6 813.5,90.7 814.0,88.8 814.5,89.7 815.1,89.3 815.6,93.3 816.2,90.9 816.7,89.1 817.2,87.0 817.8,87.1 818.3,90.0 818.9,87.4 819.4,87.4 819.9,85.3 820.5,88.3 821.0,86.6 821.6,89.0 822.1,88.0 822.6,84.8 823.2,85.2 823.7,87.1 824.3,88.5 824.8,88.2 825.3,89.7 825.9,85.5 826.4,85.2 827.0,84.4 827.5,88.5 828.0,86.4 828.6,84.4 829.1,83.9 829.7,88.2 830.2,90.3 830.7,86.1 831.3,86.4 831.8,84.9 832.4,83.8 832.9,83.7 833.4,86.3 834.0,85.7 834.5,85.2 835.1,85.8 835.6,86.4 836.1,85.3 836.7,84.1 837.2,87.8 837.7,86.8 838.3,83.7 838.8,82.8 839.4,84.0 839.9,84.7 840.4,84.3 841.0,84.7 841.5,82.0 842.1,84.3 842.6,82.6 843.1,81.5 843.7,82.3 844.2,82.7 844.8,78.7 845.3,81.6 845.8,80.4 846.4,81.4 846.9,85.0 847.5,81.8 848.0,81.3 848.5,82.6 849.1,81.2 849.6,81.7 850.2,80.0 850.7,80.7 851.2,80.4 851.8,82.1 852.3,82.5 852.9,81.0 853.4,81.5 853.9,83.6 854.5,81.3 855.0,82.1 855.6,79.4 856.1,79.9 856.6,82.1 857.2,81.1 857.7,81.1 858.3,78.4 858.8,79.3 859.3,81.3 859.9,80.0 860.4,81.6 861.0,79.4 861.5,81.3 862.0,79.0 862.6,80.0 863.1,79.1 863.6,80.1 864.2,80.5 864.7,80.1 865.3,79.9 865.8,79.9 866.3,79.7 866.9,79.8 867.4,80.3 868.0,80.4 868.5,78.7 869.0,79.3 869.6,78.8 870.1,79.1 870.7,80.0 871.2,78.6 871.7,78.0 872.3,77.7 872.8,78.4 873.4,78.3 873.9,79.9 874.4,78.3 875.0,79.4 875.5,79.3 876.1,79.5 876.6,78.8 877.1,78.8 877.7,80.6 878.2,77.8 878.8,79.3 879.3,78.3 879.8,78.7 880.4,77.3 880.9,79.1 881.5,78.6 882.0,77.9 882.5,78.8 883.1,78.9 883.6,78.0 884.2,77.1 884.7,78.6 885.2,78.8 885.8,77.8 886.3,79.8 886.9,77.8 887.4,77.7 887.9,78.0 888.5,79.1 889.0,77.2 889.6,79.5 890.1,76.9 890.6,78.2 891.2,78.0 891.7,77.6 892.2,78.8 892.8,78.6 893.3,78.8 893.9,79.1 894.4,79.3 894.9,78.9 895.5,79.2 896.0,77.3 896.6,78.4 897.1,79.0 897.6,78.8 898.2,78.5 898.7,78.0 899.3,78.8 899.8,78.2 900.3,79.2 900.9,78.7 901.4,78.1 902.0,77.7 902.5,79.6 903.0,79.5 903.6,78.7 904.1,76.9 904.7,78.8 905.2,78.2 905.7,78.6 906.3,78.4 906.8,77.8 907.4,77.5 907.9,77.9 908.4,78.8 909.0,78.1 909.5,77.5 910.1,78.8 910.6,78.8 911.1,78.2 911.7,78.6 912.2,78.7 912.8,78.2 913.3,77.3 913.8,78.2 914.4,77.6 914.9,77.3 915.5,77.3 916.0,78.1 916.5,78.1 917.1,79.2 917.6,76.6 918.1,78.2 918.7,76.9 919.2,78.3 919.8,78.3 920.3,78.2 920.8,78.1 921.4,79.3 921.9,78.5 922.5,78.6 923.0,78.9 923.5,78.9 924.1,79.1 924.6,76.9 925.2,76.9 925.7,77.4 926.2,77.0 926.8,79.4 927.3,77.6 927.9,77.6 928.4,79.4 928.9,79.5 929.5,77.9 930.0,77.7 930.6,78.0 931.1,78.1 931.6,77.8 932.2,77.3 932.7,77.9 933.3,78.5 933.8,78.3 934.3,77.1 934.9,78.7 935.4,77.8 936.0,77.4 936.5,77.5 937.0,77.4 937.6,78.1 938.1,77.2 938.7,77.4 939.2,77.3 939.7,78.5 940.3,78.2 940.8,77.8 941.4,78.5 941.9,77.7 942.4,77.4 943.0,78.0 943.5,77.2 944.1,77.8 944.6,79.8 945.1,77.4 945.7,76.7 946.2,76.0 946.7,78.1 947.3,79.1 947.8,75.9 948.4,78.4 948.9,77.1 949.4,77.2 950.0,77.8 950.5,77.6 951.1,77.4 951.6,77.4 952.1,76.7 952.7,77.2 953.2,77.5 953.8,77.2 954.3,75.4 954.8,78.1 955.4,78.9 955.9,76.7 956.5,77.7 957.0,77.6 957.5,77.3 958.1,78.1 958.6,78.5 959.2,77.4 959.7,77.5 960.2,77.6 960.8,78.1 961.3,77.5 961.9,77.0 962.4,78.1 962.9,76.6 963.5,77.3 964.0,77.9 964.6,77.5 965.1,76.9 965.6,77.5 966.2,76.8 966.7,77.1 967.3,78.0 967.8,78.0 968.3,77.1 968.9,78.1 969.4,78.6 970.0,76.3 970.5,78.3 971.0,77.5 971.6,78.0 972.1,78.2 972.6,76.9 973.2,77.1 973.7,77.2 974.3,77.5 974.8,76.7 975.3,77.4 975.9,75.8 976.4,77.1 977.0,76.7 977.5,77.5 978.0,77.6 978.6,77.2 979.1,78.1 979.7,77.7 980.2,78.7 980.7,78.1 981.3,76.3 981.8,77.9 982.4,77.6 982.9,78.2 983.4,78.3 984.0,78.5 984.5,77.8 985.1,77.7 985.6,78.1 986.1,77.5 986.7,77.2 987.2,76.9 987.8,78.2 988.3,77.7 988.8,75.5 989.4,76.4 989.9,78.2 990.5,77.2 991.0,77.1 991.5,76.8 992.1,76.5 992.6,77.6 993.2,76.1 993.7,77.9 994.2,75.7 994.8,77.4 995.3,76.9 995.9,78.5 996.4,78.5 996.9,77.7 997.5,76.1 998.0,77.0 998.5,78.3 999.1,78.5 999.6,77.0 1000.2,77.7 1000.7,78.1 1001.2,78.9 1001.8,77.3 1002.3,77.5 1002.9,76.9 1003.4,77.4 1003.9,78.7 1004.5,77.7 1005.0,77.6 1005.6,77.7 1006.1,78.2 1006.6,76.8 1007.2,77.2 1007.7,77.2 1008.3,76.8 1008.8,78.5 1009.3,78.0 1009.9,77.4 1010.4,77.0 1011.0,77.8 1011.5,75.7"/>
<polyline stroke="#9edae5" points="741.7,276.3 742.2,278.0 742.8,277.7 743.3,277.1 743.9,278.7 744.4,277.7 744.9,276.0 745.5,276.1 746.0,276.8 746.6,274.8 747.1,274.4 747.6,273.7 748.2,275.8 748.7,274.0 749.3,273.8 749.8,276.2 750.3,274.0 750.9,275.7 751.4,270.8 752.0,273.7 752.5,270.9 753.0,272.5 753.6,272.3 754.1,272.9 754.7,271.2 755.2,270.6 755.7,271.2 756.3,272.9 756.8,268.7 757.3,268.5 757.9,270.9 758.4,269.8 759.0,266.3 759.5,273.7 760.0,273.0 760.6,268.4 761.1,270.3 761.7,268.0 762.2,266.1 762.7,266.6 763.3,266.7 763.8,265.5 764.4,268.8 764.9,264.9 765.4,268.4 766.0,270.3 766.5,267.5 767.1,268.1 767.6,270.9 768.1,268.6 768.7,266.2 769.2,263.7 769.8,263.4 770.3,265.3 770.8,265.6 771.4,266.8 771.9,264.1 772.5,264.3 773.0,263.3 773.5,264.0 774.1,268.0 774.6,259.9 775.2,262.5 775.7,261.6 776.2,262.7 776.8,259.0 777.3,259.6 777.9,257.0 778.4,250.3 778.9,253.3 779.5,252.1 780.0,250.3 780.6,242.9 781.1,244.4 781.6,240.5 782.2,235.7 782.7,238.7 783.2,236.5 783.8,231.5 784.3,230.5 784.9,230.3 785.4,229.1 785.9,229.3 786.5,222.0 787.0,219.2 787.6,218.8 788.1,224.6 788.6,218.0 789.2,216.7 789.7,214.2 790.3,212.5 790.8,210.2 791.3,210.2 791.9,211.2 792.4,213.8 793.0,209.4 793.5,203.9 794.0,204.1 794.6,205.2 795.1,203.2 795.7,200.9 796.2,200.1 796.7,197.7 797.3,190.6 797.8,184.7 798.4,185.2 798.9,177.1 799.4,179.0 800.0,173.6 800.5,171.0 801.1,168.0 801.6,164.1 802.1,161.5 802.7,159.5 803.2,158.4 803.8,151.2 804.3,153.4 804.8,151.4 805.4,143.1 805.9,144.2 806.5,143.3 807.0,135.9 807.5,155.5 808.1,147.7 808.6,139.3 809.2,130.9 809.7,127.7 810.2,133.9 810.8,133.0 811.3,136.5 811.8,131.9 812.4,127.8 812.9,124.4 813.5,119.5 814.0,113.8 814.5,124.2 815.1,124.6 815.6,116.4 816.2,124.5 816.7,128.1 817.2,127.0 817.8,116.9 818.3,123.2 818.9,125.8 819.4,124.4 819.9,129.7 820.5,128.6 821.0,119.3 821.6,112.7 822.1,116.9 822.6,123.3 823.2,133.4 823.7,126.3 824.3,115.3 824.8,124.4 825.3,121.7 825.9,114.0 826.4,118.6 827.0,131.6 827.5,121.9 828.0,117.5 828.6,123.8 829.1,112.1 829.7,129.3 830.2,121.8 830.7,117.7 831.3,114.0 831.8,124.7 832.4,122.1 832.9,119.4 833.4,120.5 834.0,119.0 834.5,123.9 835.1,118.8 835.6,119.7 836.1,126.0 836.7,119.5 837.2,124.4 837.7,121.6 838.3,127.6 838.8,123.0 839.4,115.6 839.9,127.0 840.4,124.4 841.0,129.1 841.5,125.2 842.1,120.0 842.6,122.0 843.1,132.4 843.7,127.9 844.2,128.3 844.8,123.8 845.3,129.1 845.8,128.0 846.4,133.2 846.9,132.1 847.5,128.8 848.0,127.6 848.5,128.2 849.1,128.3 849.6,119.5 850.2,122.1 850.7,117.8 851.2,130.1 851.8,130.8 852.3,124.8 852.9,125.6 853.4,125.0 853.9,130.0 854.5,122.6 855.0,129.2 855.6,127.0 856.1,124.8 856.6,121.6 857.2,122.9 857.7,123.3 858.3,125.8 858.8,132.3 859.3,118.3 859.9,120.5 860.4,118.3 861.0,122.0 861.5,119.7 862.0,111.8 862.6,112.6 863.1,123.2 863.6,116.0 864.2,112.5 864.7,111.6 865.3,108.3 865.8,119.6 866.3,115.8 866.9,108.2 867.4,102.2 868.0,101.0 868.5,94.3 869.0,90.5 869.6,92.2 870.1,88.2 870.7,88.9 871.2,83.1 871.7,85.4 872.3,86.2 872.8,85.1 873.4,86.1 873.9,84.6 874.4,83.3 875.0,82.8 875.5,84.1 876.1,81.5 876.6,83.9 877.1,81.3 877.7,79.6 878.2,84.4 878.8,85.7 879.3,81.0 879.8,83.9 880.4,82.9 880.9,83.3 881.5,83.4 882.0,79.4 882.5,81.0 883.1,82.6 883.6,83.1 884.2,79.8 884.7,81.0 885.2,82.0 885.8,82.3 886.3,81.5 886.9,80.2 887.4,80.8 887.9,78.7 888.5,79.4 889.0,79.6 889.6,81.7 890.1,80.4 890.6,79.8 891.2,79.8 891.7,81.1 892.2,80.7 892.8,79.3 893.3,79.9 893.9,80.2 894.4,81.0 894.9,80.4 895.5,81.2 896.0,80.5 896.6,78.2 897.1,79.5 897.6,81.0 898.2,81.0 898.7,81.2 899.3,80.1 899.8,77.8 900.3,80.9 900.9,79.9 901.4,80.6 902.0,81.7 902.5,81.5 903.0,79.1 903.6,79.9 904.1,79.3 904.7,81.1 905.2,79.5 905.7,79.8 906.3,79.0 906.8,78.9 907.4,80.9 907.9,78.7 908.4,80.1 909.0,81.7 909.5,80.0 910.1,78.8 910.6,79.6 911.1,79.4 911.7,79.2 912.2,80.1 912.8,79.9 913.3,80.2 913.8,78.8 914.4,78.6 914.9,79.4 915.5,78.8 916.0,79.7 916.5,80.9 917.1,79.9 917.6,78.2 918.1,79.8 918.7,79.4 919.2,78.1 919.8,78.9 920.3,78.3 920.8,79.2 921.4,80.2 921.9,78.4 922.5,77.4 923.0,77.4 923.5,79.6 924.1,79.6 924.6,78.4 925.2,79.6 925.7,79.6 926.2,78.0 926.8,81.6 927.3,80.2 927.9,81.0 928.4,79.9 928.9,78.0 929.5,78.8 930.0,79.3 930.6,81.1 931.1,80.8 931.6,78.4 932.2,80.0 932.7,80.4 933.3,79.4 933.8,79.6 934.3,79.6 934.9,78.5 935.4,78.5 936.0,80.6 936.5,80.3 937.0,81.2 937.6,78.0 938.1,81.0 938.7,79.7 939.2,81.2 939.7,79.2 940.3,78.8 940.8,80.3 941.4,79.1 941.9,80.7 942.4,79.1 943.0,80.5 943.5,80.5 944.1,80.2 944.6,80.7 945.1,78.2 945.7,78.7 946.2,79.6 946.7,79.6 947.3,79.2 947.8,79.3 948.4,80.9 948.9,79.0 949.4,80.2 950.0,80.1 950.5,80.3 951.1,79.2 951.6,79.5 952.1,77.3 952.7,78.7 953.2,78.5 953.8,79.2 954.3,79.7 954.8,80.5 955.4,78.2 955.9,79.3 956.5,78.7 957.0,78.9 957.5,79.2 958.1,79.6 958.6,78.8 959.2,78.8 959.7,77.6 960.2,79.4 960.8,80.8 961.3,78.5 961.9,78.4 962.4,79.6 962.9,79.1 963.5,78.7 964.0,78.9 964.6,78.3 965.1,80.5 965.6,79.2 966.2,80.6 966.7,78.5 967.3,78.8 967.8,78.3 968.3,78.9 968.9,78.5 969.4,78.1 970.0,80.2 970.5,78.8 971.0,79.0 971.6,79.7 972.1,79.8 972.6,78.9 973.2,78.6 973.7,78.3 974.3,78.5 974.8,77.2 975.3,78.3 975.9,78.2 976.4,79.2 977.0,78.7 977.5,78.7 978.0,77.9 978.6,77.7 979.1,78.0 979.7,79.7 980.2,79.0 980.7,78.9 981.3,77.4 981.8,78.7 982.4,77.4 982.9,78.9 983.4,77.8 984.0,77.7 984.5,78.6 985.1,77.7 985.6,78.2 986.1,78.6 986.7,78.5 987.2,78.6 987.8,77.7 988.3,76.3 988.8,78.5 989.4,78.6 989.9,78.8 990.5,78.6 991.0,79.5 991.5,78.4 992.1,79.3 992.6,78.0 993.2,78.2 993.7,77.7 994.2,78.7 994.8,78.0 995.3,79.2 995.9,79.4 996.4,77.5 996.9,77.6 997.5,79.0 998.0,79.9 998.5,78.4 999.1,78.6 999.6,79.1 1000.2,78.3 1000.7,78.7 1001.2,79.0 1001.8,78.7 1002.3,78.9 1002.9,78.6 1003.4,78.3 1003.9,79.0 1004.5,77.7 1005.0,79.3 1005.6,77.8 1006.1,77.8 1006.6,79.3 1007.2,80.1 1007.7,79.0 1008.3,78.6 1008.8,78.2 1009.3,78.1 1009.9,76.9 1010.4,79.0 1011.0,77.7 1011.5,78.1"/>
<polyline stroke="#9467bd" points="741.7,277.0 742.2,277.4 742.8,275.9 743.3,277.5 743.9,275.7 744.4,276.7 744.9,278.5 745.5,281.1 746.0,277.2 746.6,278.7 747.1,278.1 747.6,278.0 748.2,278.1 748.7,278.4 749.3,281.0 749.8,277.2 750.3,272.8 750.9,270.2 751.4,266.0 752.0,263.1 752.5,262.4 753.0,259.6 753.6,254.2 754.1,251.7 754.7,244.4 755.2,235.5 755.7,241.3 756.3,245.6 756.8,247.8 757.3,255.5 757.9,249.7 758.4,250.1 759.0,253.5 759.5,258.2 760.0,262.6 760.6,261.2 761.1,264.9 761.7,264.2 762.2,262.7 762.7,266.5 763.3,267.1 763.8,262.3 764.4,266.0 764.9,267.2 765.4,266.8 766.0,262.6 766.5,269.1 767.1,265.6 767.6,270.1 768.1,264.0 768.7,266.3 769.2,270.4 769.8,266.3 770.3,263.0 770.8,265.2 771.4,264.1 771.9,271.0 772.5,269.3 773.0,266.8 773.5,264.2 774.1,266.7 774.6,263.0 775.2,262.2 775.7,259.5 776.2,261.2 776.8,259.6 777.3,257.9 777.9,262.3 778.4,255.3 778.9,262.6 779.5,257.1 780.0,263.9 780.6,260.9 781.1,259.5 781.6,265.3 782.2,260.8 782.7,257.3 783.2,261.9 783.8,257.6 784.3,257.5 784.9,253.4 785.4,251.3 785.9,249.9 786.5,246.7 787.0,245.8 787.6,249.7 788.1,257.1 788.6,247.7 789.2,244.2 789.7,245.2 790.3,250.1 790.8,241.1 791.3,241.2 791.9,241.7 792.4,243.2 793.0,240.7 793.5,236.1 794.0,239.0 794.6,226.2 795.1,225.5 795.7,225.6 796.2,227.6 796.7,225.7 797.3,233.2 797.8,227.1 798.4,224.5 798.9,231.6 799.4,225.8 800.0,225.1 800.5,229.4 801.1,232.4 801.6,225.6 802.1,209.4 802.7,244.5 803.2,239.6 803.8,219.6 804.3,220.6 804.8,212.3 805.4,208.2 805.9,197.1 806.5,190.9 807.0,196.9 807.5,195.2 808.1,180.2 808.6,167.5 809.2,181.9 809.7,213.5 810.2,191.9 810.8,168.6 811.3,167.7 811.8,159.4 812.4,181.8 812.9,185.3 813.5,182.7 814.0,172.9 814.5,167.0 815.1,180.2 815.6,175.1 816.2,126.5 816.7,152.6 817.2,176.3 817.8,189.4 818.3,151.2 818.9,172.1 819.4,149.9 819.9,144.2 820.5,188.9 821.0,123.8 821.6,130.1 822.1,147.8 822.6,154.9 823.2,131.2 823.7,146.1 824.3,160.7 824.8,109.2 825.3,166.4 825.9,166.0 826.4,185.1 827.0,140.8 827.5,153.9 828.0,135.7 828.6,152.9 829.1,186.8 829.7,153.6 830.2,165.1 830.7,145.1 831.3,122.5 831.8,121.2 832.4,137.9 832.9,155.5 833.4,149.2 834.0,153.0 834.5,156.7 835.1,138.8 835.6,139.4 836.1,153.7 836.7,141.2 837.2,122.2 837.7,155.8 838.3,136.9 838.8,143.5 839.4,146.4 839.9,141.1 840.4,133.6 841.0,149.5 841.5,146.4 842.1,163.3 842.6,180.3 843.1,150.6 843.7,166.8 844.2,154.0 844.8,156.1 845.3,168.6 845.8,174.7 846.4,134.5 846.9,159.8 847.5,165.0 848.0,128.7 848.5,130.8 849.1,147.9 849.6,140.7 850.2,148.1 850.7,144.0 851.2,173.8 851.8,171.9 852.3,164.7 852.9,133.2 853.4,164.4 853.9,138.4 854.5,178.1 855.0,161.0 855.6,160.5 856.1,154.3 856.6,161.7 857.2,139.3 857.7,148.0 858.3,142.9 858.8,134.0 859.3,154.6 859.9,151.1 860.4,135.9 861.0,146.7 861.5,165.9 862.0,143.3 862.6,159.0 863.1,156.3 863.6,157.3 864.2,135.8 864.7,147.4 865.3,122.4 865.8,155.1 866.3,149.8 866.9,144.0 867.4,137.6 868.0,166.4 868.5,141.9 869.0,139.4 869.6,119.3 870.1,135.8 870.7,133.8 871.2,152.6 871.7,124.9 872.3,138.3 872.8,112.3 873.4,137.8 873.9,140.4 874.4,128.2 875.0,112.3 875.5,123.2 876.1,137.8 876.6,105.7 877.1,116.1 877.7,103.8 878.2,100.9 878.8,123.7 879.3,115.6 879.8,118.1 880.4,117.6 880.9,101.1 881.5,115.6 882.0,110.1 882.5,106.3 883.1,110.6 883.6,108.0 884.2,98.5 884.7,90.0 885.2,92.2 885.8,101.8 886.3,103.5 886.9,88.2 887.4,93.6 887.9,91.5 888.5,99.8 889.0,86.3 889.6,85.2 890.1,88.4 890.6,87.3 891.2,84.6 891.7,89.2 892.2,86.8 892.8,86.9 893.3,88.0 893.9,83.6 894.4,89.6 894.9,82.8 895.5,85.3 896.0,82.8 896.6,85.2 897.1,87.8 897.6,86.2 898.2,84.5 898.7,85.5 899.3,87.2 899.8,84.3 900.3,85.1 900.9,81.6 901.4,88.1 902.0,85.9 902.5,89.9 903.0,98.6 903.6,93.6 904.1,94.2 904.7,98.6 905.2,112.9 905.7,115.5 906.3,111.6 906.8,112.8 907.4,109.9 907.9,101.7 908.4,114.9 909.0,122.3 909.5,120.0 910.1,124.3 910.6,130.9 911.1,143.3 911.7,135.9 912.2,135.5 912.8,114.6 913.3,104.9 913.8,118.5 914.4,120.5 914.9,121.9 915.5,119.8 916.0,125.2 916.5,116.5 917.1,96.9 917.6,134.2 918.1,120.1 918.7,119.1 919.2,100.4 919.8,119.7 920.3,123.0 920.8,111.5 921.4,128.2 921.9,131.7 922.5,132.1 923.0,130.2 923.5,132.7 924.1,133.5 924.6,112.0 925.2,136.9 925.7,122.9 926.2,130.1 926.8,148.1 927.3,139.0 927.9,132.2 928.4,141.3 928.9,139.2 929.5,124.6 930.0,122.6 930.6,128.0 931.1,130.7 931.6,129.1 932.2,100.5 932.7,86.8 933.3,81.6 933.8,82.6 934.3,83.7 934.9,82.1 935.4,81.7 936.0,84.0 936.5,83.0 937.0,81.6 937.6,84.2 938.1,80.8 938.7,80.6 939.2,83.8 939.7,82.2 940.3,82.6 940.8,82.5 941.4,81.3 941.9,80.0 942.4,81.5 943.0,81.3 943.5,82.8 944.1,82.0 944.6,79.4 945.1,81.6 945.7,83.4 946.2,80.3 946.7,81.6 947.3,82.4 947.8,82.2 948.4,82.7 948.9,81.0 949.4,79.5 950.0,82.6 950.5,81.5 951.1,83.6 951.6,82.4 952.1,82.8 952.7,79.8 953.2,80.8 953.8,78.9 954.3,81.5 954.8,82.4 955.4,78.9 955.9,79.3 956.5,80.9 957.0,80.7 957.5,82.8 958.1,80.1 958.6,79.8 959.2,81.7 959.7,80.8 960.2,79.0 960.8,80.0 961.3,81.5 961.9,79.6 962.4,81.0 962.9,82.0 963.5,80.4 964.0,80.1 964.6,81.3 965.1,82.0 965.6,80.6 966.2,81.1 966.7,82.2 967.3,79.8 967.8,79.6 968.3,79.6 968.9,79.8 969.4,80.3 970.0,79.9 970.5,80.8 971.0,78.9 971.6,78.8 972.1,79.1 972.6,80.8 973.2,80.5 973.7,81.5 974.3,77.4 974.8,79.4 975.3,78.4 975.9,79.5 976.4,80.2 977.0,83.1 977.5,80.2 978.0,80.7 978.6,83.2 979.1,80.6 979.7,79.2 980.2,80.7 980.7,79.2 981.3,81.0 981.8,79.8 982.4,79.9 982.9,78.5 983.4,80.2 984.0,80.0 984.5,79.1 985.1,80.8 985.6,82.1 986.1,78.5 986.7,78.7 987.2,80.7 987.8,78.0 988.3,77.7 988.8,78.9 989.4,78.5 989.9,79.4 990.5,82.2 991.0,80.3 991.5,79.4 992.1,82.3 992.6,81.3 993.2,81.3 993.7,78.6 994.2,79.4 994.8,79.3 995.3,79.0 995.9,80.1 996.4,79.2 996.9,79.8 997.5,79.7 998.0,79.8 998.5,80.4 999.1,80.1 999.6,78.4 1000.2,79.2 1000.7,78.1 1001.2,80.7 1001.8,79.8 1002.3,80.7 1002.9,80.3 1003.4,78.7 1003.9,78.2 1004.5,80.7 1005.0,79.4 1005.6,82.2 1006.1,79.1 1006.6,79.2 1007.2,77.4 1007.7,80.0 1008.3,80.1 1008.8,80.7 1009.3,78.7 1009.9,77.8 1010.4,76.2 1011.0,78.9 1011.5,78.5"/>
</g>
<g stroke="#000" stroke-width="1.15" fill="none">
<rect x="741.7" y="33.3" width="269.8" height="290.1"/>
<path stroke-width="0.9" d="M795.7,323.4v-5.4M795.7,33.3v5.4M849.6,323.4v-5.4M849.6,33.3v5.4M903.6,323.4v-5.4M903.6,33.3v5.4M957.5,323.4v-5.4M957.5,33.3v5.4M741.7,275.0h5.4M1011.5,275.0h-5.4M741.7,226.7h5.4M1011.5,226.7h-5.4M741.7,178.3h5.4M1011.5,178.3h-5.4M741.7,130.0h5.4M1011.5,130.0h-5.4M741.7,81.7h5.4M1011.5,81.7h-5.4"/>
</g>
<clipPath id="c30"><rect x="1065.5" y="33.3" width="269.8" height="290.1"/></clipPath>
<g clip-path="url(#c30)" fill="none" stroke-width="2.7" stroke-linejoin="round" stroke-linecap="butt">
<polyline stroke="#ff7f0e" points="1065.5,321.0 1066.0,320.8 1066.6,319.7 1067.1,319.8 1067.7,319.2 1068.2,319.3 1068.7,317.8 1069.3,316.8 1069.8,317.0 1070.4,315.8 1070.9,316.1 1071.4,316.2 1072.0,314.3 1072.5,313.6 1073.1,313.8 1073.6,314.9 1074.1,314.1 1074.7,312.4 1075.2,312.1 1075.8,311.0 1076.3,311.9 1076.8,310.2 1077.4,311.5 1077.9,310.3 1078.5,309.8 1079.0,308.8 1079.5,308.9 1080.1,308.8 1080.6,306.1 1081.1,306.8 1081.7,306.2 1082.2,307.0 1082.8,305.3 1083.3,303.7 1083.8,302.2 1084.4,303.4 1084.9,302.4 1085.5,301.7 1086.0,297.3 1086.5,300.7 1087.1,300.3 1087.6,298.1 1088.2,296.3 1088.7,298.1 1089.2,297.8 1089.8,298.9 1090.3,293.4 1090.9,291.8 1091.4,289.7 1091.9,289.7 1092.5,288.6 1093.0,290.9 1093.6,287.1 1094.1,280.8 1094.6,281.1 1095.2,280.3 1095.7,282.1 1096.3,280.8 1096.8,281.1 1097.3,277.3 1097.9,274.5 1098.4,269.6 1099.0,270.1 1099.5,270.0 1100.0,266.7 1100.6,266.3 1101.1,266.4 1101.7,264.9 1102.2,265.8 1102.7,257.6 1103.3,264.1 1103.8,263.4 1104.4,256.3 1104.9,257.7 1105.4,257.3 1106.0,260.8 1106.5,255.7 1107.0,254.9 1107.6,253.9 1108.1,253.6 1108.7,254.5 1109.2,257.4 1109.7,250.3 1110.3,249.8 1110.8,246.2 1111.4,248.3 1111.9,250.7 1112.4,245.9 1113.0,247.0 1113.5,244.1 1114.1,242.4 1114.6,235.1 1115.1,235.2 1115.7,241.6 1116.2,232.3 1116.8,236.6 1117.3,235.4 1117.8,230.4 1118.4,227.9 1118.9,228.6 1119.5,226.3 1120.0,224.2 1120.5,224.9 1121.1,219.0 1121.6,222.1 1122.2,217.0 1122.7,217.7 1123.2,216.2 1123.8,211.9 1124.3,206.8 1124.9,207.5 1125.4,208.0 1125.9,205.2 1126.5,204.2 1127.0,202.5 1127.6,196.1 1128.1,196.4 1128.6,190.1 1129.2,185.7 1129.7,187.0 1130.3,182.1 1130.8,184.3 1131.3,180.6 1131.9,181.2 1132.4,183.7 1133.0,175.6 1133.5,173.9 1134.0,174.0 1134.6,164.3 1135.1,169.0 1135.6,164.4 1136.2,162.3 1136.7,154.9 1137.3,147.0 1137.8,149.1 1138.3,139.8 1138.9,142.3 1139.4,133.0 1140.0,143.8 1140.5,135.7 1141.0,131.6 1141.6,130.0 1142.1,135.2 1142.7,127.0 1143.2,124.7 1143.7,116.6 1144.3,119.2 1144.8,113.3 1145.4,109.1 1145.9,113.3 1146.4,114.3 1147.0,105.1 1147.5,115.4 1148.1,116.1 1148.6,107.8 1149.1,101.5 1149.7,118.6 1150.2,122.5 1150.8,113.8 1151.3,103.9 1151.8,108.9 1152.4,110.9 1152.9,112.4 1153.5,109.6 1154.0,119.1 1154.5,112.4 1155.1,108.0 1155.6,108.8 1156.2,100.2 1156.7,105.3 1157.2,108.7 1157.8,111.7 1158.3,113.6 1158.9,102.9 1159.4,113.3 1159.9,102.9 1160.5,109.1 1161.0,104.8 1161.5,93.8 1162.1,99.8 1162.6,94.5 1163.2,97.2 1163.7,103.5 1164.2,108.5 1164.8,105.4 1165.3,109.7 1165.9,103.4 1166.4,99.4 1166.9,102.2 1167.5,103.9 1168.0,94.4 1168.6,99.8 1169.1,104.6 1169.6,103.4 1170.2,106.0 1170.7,111.5 1171.3,96.5 1171.8,106.8 1172.3,96.5 1172.9,95.1 1173.4,99.1 1174.0,110.9 1174.5,96.2 1175.0,96.5 1175.6,93.4 1176.1,100.3 1176.7,98.7 1177.2,100.3 1177.7,102.7 1178.3,109.6 1178.8,106.9 1179.4,113.1 1179.9,106.9 1180.4,106.3 1181.0,94.6 1181.5,99.4 1182.1,98.6 1182.6,101.3 1183.1,101.6 1183.7,111.8 1184.2,98.4 1184.8,97.8 1185.3,98.1 1185.8,100.5 1186.4,97.0 1186.9,97.9 1187.4,104.1 1188.0,103.1 1188.5,87.6 1189.1,80.1 1189.6,89.1 1190.1,101.2 1190.7,91.7 1191.2,103.2 1191.8,99.2 1192.3,88.8 1192.8,97.7 1193.4,93.4 1193.9,96.0 1194.5,93.4 1195.0,98.0 1195.5,93.6 1196.1,96.3 1196.6,100.3 1197.2,80.3 1197.7,85.2 1198.2,88.2 1198.8,92.6 1199.3,95.8 1199.9,91.4 1200.4,94.0 1200.9,87.9 1201.5,93.6 1202.0,91.5 1202.6,92.9 1203.1,97.5 1203.6,96.5 1204.2,96.3 1204.7,88.0 1205.3,96.8 1205.8,86.5 1206.3,92.0 1206.9,83.0 1207.4,91.1 1208.0,87.5 1208.5,89.3 1209.0,91.1 1209.6,87.8 1210.1,80.3 1210.7,97.3 1211.2,89.4 1211.7,85.3 1212.3,86.6 1212.8,82.9 1213.4,96.3 1213.9,85.5 1214.4,82.8 1215.0,94.0 1215.5,104.0 1216.0,103.1 1216.6,96.4 1217.1,87.0 1217.7,91.5 1218.2,85.8 1218.7,81.0 1219.3,79.9 1219.8,82.2 1220.4,92.8 1220.9,91.0 1221.4,82.6 1222.0,94.5 1222.5,87.1 1223.1,86.7 1223.6,95.1 1224.1,89.8 1224.7,77.6 1225.2,89.5 1225.8,79.7 1226.3,85.7 1226.8,87.3 1227.4,91.4 1227.9,78.3 1228.5,82.7 1229.0,77.0 1229.5,88.4 1230.1,78.5 1230.6,78.1 1231.2,88.0 1231.7,82.7 1232.2,83.2 1232.8,80.8 1233.3,79.2 1233.9,83.5 1234.4,82.8 1234.9,86.7 1235.5,79.7 1236.0,81.5 1236.6,80.1 1237.1,90.1 1237.6,77.0 1238.2,70.4 1238.7,90.9 1239.3,80.6 1239.8,79.9 1240.3,72.9 1240.9,88.0 1241.4,79.3 1241.9,79.1 1242.5,71.0 1243.0,86.3 1243.6,74.2 1244.1,75.4 1244.6,85.4 1245.2,79.3 1245.7,84.6 1246.3,84.5 1246.8,75.6 1247.3,76.7 1247.9,75.1 1248.4,84.3 1249.0,67.6 1249.5,77.6 1250.0,70.2 1250.6,76.8 1251.1,74.7 1251.7,73.7 1252.2,69.4 1252.7,70.8 1253.3,70.6 1253.8,82.1 1254.4,72.5 1254.9,71.4 1255.4,75.9 1256.0,84.6 1256.5,69.0 1257.1,69.3 1257.6,76.7 1258.1,71.9 1258.7,71.4 1259.2,78.8 1259.8,81.4 1260.3,74.0 1260.8,83.1 1261.4,73.3 1261.9,69.2 1262.5,75.2 1263.0,77.3 1263.5,75.8 1264.1,81.6 1264.6,67.9 1265.2,68.6 1265.7,77.5 1266.2,79.5 1266.8,67.8 1267.3,72.9 1267.8,75.3 1268.4,69.7 1268.9,73.1 1269.5,72.7 1270.0,73.9 1270.5,79.3 1271.1,71.0 1271.6,81.8 1272.2,82.7 1272.7,72.2 1273.2,73.4 1273.8,75.3 1274.3,65.3 1274.9,78.9 1275.4,87.1 1275.9,83.7 1276.5,75.2 1277.0,70.9 1277.6,76.4 1278.1,72.2 1278.6,72.8 1279.2,69.7 1279.7,70.3 1280.3,70.8 1280.8,67.4 1281.3,63.4 1281.9,68.3 1282.4,67.9 1283.0,67.1 1283.5,71.6 1284.0,72.6 1284.6,72.2 1285.1,64.4 1285.7,63.6 1286.2,69.6 1286.7,75.3 1287.3,57.9 1287.8,61.7 1288.4,68.1 1288.9,63.2 1289.4,74.1 1290.0,62.6 1290.5,67.4 1291.1,58.5 1291.6,62.1 1292.1,63.0 1292.7,63.9 1293.2,67.8 1293.8,73.3 1294.3,71.0 1294.8,62.0 1295.4,60.8 1295.9,67.9 1296.4,62.0 1297.0,63.8 1297.5,66.7 1298.1,63.8 1298.6,59.4 1299.1,68.2 1299.7,59.1 1300.2,65.0 1300.8,58.3 1301.3,64.8 1301.8,62.8 1302.4,61.1 1302.9,51.8 1303.5,60.9 1304.0,60.2 1304.5,60.8 1305.1,56.9 1305.6,66.6 1306.2,67.5 1306.7,62.9 1307.2,65.2 1307.8,64.9 1308.3,59.9 1308.9,54.9 1309.4,64.7 1309.9,56.3 1310.5,61.6 1311.0,75.2 1311.6,66.5 1312.1,71.1 1312.6,58.3 1313.2,58.8 1313.7,58.7 1314.3,60.4 1314.8,64.7 1315.3,76.3 1315.9,70.7 1316.4,66.1 1317.0,60.4 1317.5,68.4 1318.0,62.0 1318.6,62.0 1319.1,71.0 1319.7,70.1 1320.2,64.1 1320.7,67.0 1321.3,69.9 1321.8,67.7 1322.3,72.9 1322.9,82.5"/>
<polyline stroke="#1f77b4" points="1065.5,321.0 1066.0,320.8 1066.6,320.6 1067.1,320.4 1067.7,319.5 1068.2,320.0 1068.7,320.2 1069.3,319.3 1069.8,319.8 1070.4,319.5 1070.9,319.1 1071.4,318.2 1072.0,318.3 1072.5,318.3 1073.1,317.4 1073.6,318.0 1074.1,318.6 1074.7,316.9 1075.2,317.6 1075.8,316.6 1076.3,316.3 1076.8,317.3 1077.4,316.7 1077.9,316.4 1078.5,316.5 1079.0,316.0 1079.5,315.7 1080.1,315.6 1080.6,316.0 1081.1,316.1 1081.7,316.3 1082.2,315.3 1082.8,314.6 1083.3,315.9 1083.8,314.9 1084.4,314.0 1084.9,314.3 1085.5,314.2 1086.0,313.2 1086.5,313.1 1087.1,313.2 1087.6,313.0 1088.2,314.4 1088.7,313.2 1089.2,312.6 1089.8,311.9 1090.3,312.4 1090.9,312.2 1091.4,310.7 1091.9,311.9 1092.5,311.2 1093.0,311.4 1093.6,311.3 1094.1,310.9 1094.6,311.2 1095.2,311.2 1095.7,309.9 1096.3,310.5 1096.8,310.0 1097.3,310.8 1097.9,311.0 1098.4,309.5 1099.0,309.7 1099.5,310.5 1100.0,309.3 1100.6,308.6 1101.1,308.0 1101.7,308.2 1102.2,307.5 1102.7,307.4 1103.3,305.9 1103.8,306.1 1104.4,306.2 1104.9,304.8 1105.4,305.6 1106.0,305.0 1106.5,305.1 1107.0,303.7 1107.6,303.0 1108.1,303.8 1108.7,303.2 1109.2,302.1 1109.7,301.1 1110.3,300.5 1110.8,298.2 1111.4,295.1 1111.9,297.8 1112.4,295.7 1113.0,293.0 1113.5,292.4 1114.1,290.1 1114.6,290.1 1115.1,288.8 1115.7,287.0 1116.2,287.2 1116.8,284.6 1117.3,285.3 1117.8,285.8 1118.4,281.3 1118.9,283.0 1119.5,282.9 1120.0,283.1 1120.5,282.5 1121.1,283.3 1121.6,281.2 1122.2,281.2 1122.7,280.5 1123.2,280.5 1123.8,281.4 1124.3,281.0 1124.9,280.6 1125.4,280.4 1125.9,279.7 1126.5,278.9 1127.0,279.8 1127.6,279.7 1128.1,280.3 1128.6,279.6 1129.2,277.4 1129.7,278.1 1130.3,279.8 1130.8,277.6 1131.3,278.4 1131.9,277.9 1132.4,277.9 1133.0,279.1 1133.5,277.3 1134.0,276.5 1134.6,277.1 1135.1,276.9 1135.6,276.9 1136.2,276.9 1136.7,275.5 1137.3,276.4 1137.8,275.6 1138.3,276.0 1138.9,275.8 1139.4,275.4 1140.0,276.0 1140.5,275.2 1141.0,274.6 1141.6,274.7 1142.1,275.2 1142.7,275.2 1143.2,274.3 1143.7,274.1 1144.3,274.3 1144.8,274.5 1145.4,273.9 1145.9,274.4 1146.4,274.1 1147.0,274.0 1147.5,273.4 1148.1,274.1 1148.6,272.8 1149.1,273.4 1149.7,272.7 1150.2,273.5 1150.8,273.6 1151.3,273.0 1151.8,272.7 1152.4,272.4 1152.9,273.8 1153.5,271.4 1154.0,273.2 1154.5,273.2 1155.1,273.2 1155.6,271.9 1156.2,272.9 1156.7,272.6 1157.2,271.5 1157.8,274.0 1158.3,272.2 1158.9,271.9 1159.4,271.6 1159.9,271.5 1160.5,271.9 1161.0,272.6 1161.5,270.9 1162.1,271.4 1162.6,270.7 1163.2,271.9 1163.7,271.6 1164.2,270.2 1164.8,270.5 1165.3,271.0 1165.9,271.4 1166.4,271.2 1166.9,270.9 1167.5,270.8 1168.0,270.9 1168.6,270.2 1169.1,271.0 1169.6,271.0 1170.2,269.7 1170.7,269.0 1171.3,271.0 1171.8,270.4 1172.3,270.0 1172.9,270.7 1173.4,270.6 1174.0,270.1 1174.5,269.2 1175.0,269.8 1175.6,270.4 1176.1,270.8 1176.7,269.4 1177.2,269.1 1177.7,267.5 1178.3,264.2 1178.8,264.0 1179.4,260.3 1179.9,258.0 1180.4,254.6 1181.0,256.6 1181.5,255.3 1182.1,256.5 1182.6,255.5 1183.1,256.6 1183.7,256.4 1184.2,256.8 1184.8,259.7 1185.3,264.2 1185.8,267.1 1186.4,263.9 1186.9,260.1 1187.4,256.6 1188.0,255.1 1188.5,255.0 1189.1,253.3 1189.6,254.5 1190.1,253.2 1190.7,250.3 1191.2,253.8 1191.8,252.1 1192.3,252.9 1192.8,250.8 1193.4,251.3 1193.9,252.5 1194.5,253.4 1195.0,252.4 1195.5,251.6 1196.1,251.6 1196.6,249.9 1197.2,252.3 1197.7,250.7 1198.2,251.8 1198.8,253.0 1199.3,252.1 1199.9,251.7 1200.4,252.2 1200.9,250.8 1201.5,250.9 1202.0,252.8 1202.6,248.9 1203.1,251.2 1203.6,248.4 1204.2,250.1 1204.7,247.7 1205.3,248.6 1205.8,244.6 1206.3,241.6 1206.9,239.4 1207.4,236.4 1208.0,234.4 1208.5,230.6 1209.0,233.0 1209.6,230.4 1210.1,226.2 1210.7,227.5 1211.2,224.1 1211.7,219.9 1212.3,220.1 1212.8,220.5 1213.4,214.0 1213.9,213.8 1214.4,212.5 1215.0,213.8 1215.5,210.0 1216.0,210.8 1216.6,214.4 1217.1,202.3 1217.7,204.7 1218.2,204.9 1218.7,202.1 1219.3,204.2 1219.8,202.2 1220.4,206.4 1220.9,201.1 1221.4,209.7 1222.0,204.1 1222.5,200.3 1223.1,201.9 1223.6,204.3 1224.1,204.3 1224.7,204.4 1225.2,198.0 1225.8,205.5 1226.3,203.4 1226.8,200.1 1227.4,196.1 1227.9,201.4 1228.5,203.5 1229.0,192.3 1229.5,189.4 1230.1,187.1 1230.6,187.3 1231.2,188.8 1231.7,179.9 1232.2,179.6 1232.8,175.3 1233.3,184.5 1233.9,174.8 1234.4,178.4 1234.9,180.2 1235.5,180.0 1236.0,173.7 1236.6,172.0 1237.1,175.2 1237.6,162.9 1238.2,164.3 1238.7,169.2 1239.3,169.8 1239.8,175.3 1240.3,167.3 1240.9,169.1 1241.4,172.9 1241.9,173.9 1242.5,165.3 1243.0,164.0 1243.6,166.4 1244.1,163.7 1244.6,156.9 1245.2,162.5 1245.7,162.0 1246.3,163.3 1246.8,170.0 1247.3,167.3 1247.9,162.1 1248.4,164.4 1249.0,157.2 1249.5,161.1 1250.0,160.0 1250.6,163.2 1251.1,159.3 1251.7,161.1 1252.2,163.6 1252.7,166.7 1253.3,165.4 1253.8,162.8 1254.4,163.5 1254.9,160.2 1255.4,160.5 1256.0,155.9 1256.5,160.6 1257.1,161.9 1257.6,157.5 1258.1,152.6 1258.7,161.5 1259.2,163.4 1259.8,155.4 1260.3,156.2 1260.8,158.4 1261.4,160.0 1261.9,154.2 1262.5,153.7 1263.0,160.3 1263.5,145.5 1264.1,150.5 1264.6,156.8 1265.2,154.1 1265.7,156.0 1266.2,154.4 1266.8,155.4 1267.3,144.2 1267.8,150.0 1268.4,152.7 1268.9,158.9 1269.5,162.8 1270.0,156.4 1270.5,162.3 1271.1,156.4 1271.6,151.6 1272.2,149.9 1272.7,158.3 1273.2,155.5 1273.8,159.4 1274.3,157.4 1274.9,154.7 1275.4,151.3 1275.9,153.0 1276.5,149.2 1277.0,151.5 1277.6,157.7 1278.1,151.0 1278.6,152.1 1279.2,150.7 1279.7,150.4 1280.3,147.2 1280.8,150.7 1281.3,157.3 1281.9,146.5 1282.4,148.2 1283.0,144.9 1283.5,153.3 1284.0,153.1 1284.6,147.8 1285.1,149.4 1285.7,151.8 1286.2,153.6 1286.7,147.4 1287.3,151.4 1287.8,150.0 1288.4,150.1 1288.9,152.3 1289.4,154.4 1290.0,146.5 1290.5,150.0 1291.1,149.3 1291.6,145.1 1292.1,148.2 1292.7,146.6 1293.2,148.7 1293.8,151.6 1294.3,145.3 1294.8,147.7 1295.4,148.6 1295.9,146.3 1296.4,144.8 1297.0,148.3 1297.5,145.8 1298.1,146.7 1298.6,148.2 1299.1,143.1 1299.7,142.4 1300.2,138.9 1300.8,147.7 1301.3,141.0 1301.8,140.1 1302.4,144.1 1302.9,146.4 1303.5,140.2 1304.0,138.8 1304.5,140.4 1305.1,142.6 1305.6,145.0 1306.2,146.5 1306.7,142.6 1307.2,144.1 1307.8,145.5 1308.3,149.4 1308.9,147.7 1309.4,147.6 1309.9,144.0 1310.5,147.2 1311.0,137.9 1311.6,141.9 1312.1,140.1 1312.6,143.1 1313.2,142.7 1313.7,140.6 1314.3,143.9 1314.8,141.4 1315.3,141.7 1315.9,145.5 1316.4,143.6 1317.0,136.6 1317.5,136.7 1318.0,144.9 1318.6,140.7 1319.1,141.0 1319.7,142.3 1320.2,151.2 1320.7,143.9 1321.3,143.8 1321.8,138.1 1322.3,137.2 1322.9,139.2 1323.4,144.4 1324.0,145.5 1324.5,141.1 1325.0,135.2 1325.6,135.0 1326.1,139.5 1326.7,136.2 1327.2,146.3 1327.7,138.2 1328.3,144.9 1328.8,145.0 1329.4,145.7 1329.9,142.7 1330.4,135.6 1331.0,140.7 1331.5,142.0 1332.1,134.0 1332.6,137.9 1333.1,133.3 1333.7,133.8"/>
<polyline stroke="#17becf" points="1065.5,321.4 1066.0,321.2 1066.6,321.1 1067.1,320.5 1067.7,319.6 1068.2,319.7 1068.7,319.9 1069.3,319.3 1069.8,318.9 1070.4,319.3 1070.9,319.0 1071.4,318.9 1072.0,318.6 1072.5,318.6 1073.1,318.2 1073.6,318.1 1074.1,318.0 1074.7,317.3 1075.2,317.4 1075.8,317.8 1076.3,316.5 1076.8,316.4 1077.4,316.5 1077.9,317.1 1078.5,316.1 1079.0,315.7 1079.5,315.4 1080.1,314.8 1080.6,314.7 1081.1,314.8 1081.7,315.1 1082.2,314.1 1082.8,314.6 1083.3,314.7 1083.8,313.3 1084.4,314.0 1084.9,313.4 1085.5,313.8 1086.0,313.8 1086.5,312.4 1087.1,313.0 1087.6,313.0 1088.2,313.7 1088.7,312.7 1089.2,312.0 1089.8,311.7 1090.3,311.9 1090.9,312.3 1091.4,311.3 1091.9,312.0 1092.5,312.3 1093.0,311.2 1093.6,312.0 1094.1,310.4 1094.6,311.1 1095.2,311.2 1095.7,310.4 1096.3,310.4 1096.8,310.3 1097.3,309.3 1097.9,308.9 1098.4,308.3 1099.0,309.0 1099.5,309.5 1100.0,310.3 1100.6,309.1 1101.1,308.0 1101.7,306.9 1102.2,307.8 1102.7,307.0 1103.3,307.4 1103.8,306.9 1104.4,306.4 1104.9,306.1 1105.4,304.5 1106.0,305.0 1106.5,304.9 1107.0,302.7 1107.6,302.8 1108.1,304.8 1108.7,302.0 1109.2,301.5 1109.7,302.8 1110.3,299.2 1110.8,299.8 1111.4,298.6 1111.9,295.3 1112.4,294.5 1113.0,293.3 1113.5,293.1 1114.1,292.3 1114.6,290.0 1115.1,290.5 1115.7,289.0 1116.2,287.2 1116.8,285.3 1117.3,283.1 1117.8,284.2 1118.4,283.9 1118.9,283.3 1119.5,285.0 1120.0,281.7 1120.5,282.4 1121.1,281.2 1121.6,281.1 1122.2,280.3 1122.7,281.4 1123.2,280.7 1123.8,280.5 1124.3,281.2 1124.9,279.8 1125.4,279.9 1125.9,279.4 1126.5,279.1 1127.0,279.5 1127.6,278.0 1128.1,278.2 1128.6,279.2 1129.2,277.6 1129.7,277.8 1130.3,278.6 1130.8,277.9 1131.3,277.6 1131.9,277.4 1132.4,276.6 1133.0,276.2 1133.5,275.9 1134.0,276.3 1134.6,277.2 1135.1,276.6 1135.6,274.7 1136.2,275.1 1136.7,274.1 1137.3,274.6 1137.8,274.9 1138.3,274.6 1138.9,273.3 1139.4,274.7 1140.0,273.8 1140.5,272.8 1141.0,273.2 1141.6,273.3 1142.1,271.9 1142.7,272.5 1143.2,272.9 1143.7,271.6 1144.3,271.3 1144.8,272.3 1145.4,271.9 1145.9,271.1 1146.4,271.6 1147.0,270.0 1147.5,270.3 1148.1,270.6 1148.6,268.6 1149.1,268.3 1149.7,266.6 1150.2,266.5 1150.8,265.7 1151.3,265.0 1151.8,264.8 1152.4,264.1 1152.9,263.4 1153.5,261.6 1154.0,261.8 1154.5,260.9 1155.1,260.0 1155.6,258.7 1156.2,258.5 1156.7,259.5 1157.2,258.9 1157.8,258.3 1158.3,259.2 1158.9,257.7 1159.4,257.4 1159.9,257.2 1160.5,257.5 1161.0,258.2 1161.5,257.1 1162.1,256.9 1162.6,257.9 1163.2,257.3 1163.7,257.2 1164.2,257.5 1164.8,256.7 1165.3,256.0 1165.9,255.7 1166.4,256.8 1166.9,256.4 1167.5,256.1 1168.0,255.6 1168.6,257.0 1169.1,257.1 1169.6,255.6 1170.2,256.1 1170.7,255.6 1171.3,254.8 1171.8,254.2 1172.3,255.2 1172.9,255.7 1173.4,255.5 1174.0,254.7 1174.5,255.1 1175.0,254.8 1175.6,254.5 1176.1,253.9 1176.7,254.2 1177.2,254.0 1177.7,254.4 1178.3,254.4 1178.8,256.0 1179.4,254.4 1179.9,254.1 1180.4,254.0 1181.0,254.6 1181.5,255.0 1182.1,256.0 1182.6,254.6 1183.1,255.3 1183.7,255.6 1184.2,255.6 1184.8,256.5 1185.3,255.4 1185.8,255.5 1186.4,255.4 1186.9,255.4 1187.4,255.8 1188.0,255.5 1188.5,255.1 1189.1,255.6 1189.6,255.2 1190.1,254.0 1190.7,254.1 1191.2,253.7 1191.8,253.9 1192.3,254.2 1192.8,253.5 1193.4,255.1 1193.9,253.8 1194.5,253.8 1195.0,253.4 1195.5,252.7 1196.1,253.3 1196.6,253.4 1197.2,253.1 1197.7,253.3 1198.2,253.1 1198.8,253.6 1199.3,252.1 1199.9,252.2 1200.4,252.9 1200.9,253.0 1201.5,253.3 1202.0,252.5 1202.6,251.8 1203.1,251.2 1203.6,252.8 1204.2,251.2 1204.7,250.9 1205.3,251.9 1205.8,252.0 1206.3,251.6 1206.9,252.0 1207.4,250.4 1208.0,251.0 1208.5,250.8 1209.0,251.1 1209.6,250.9 1210.1,250.9 1210.7,251.8 1211.2,250.3 1211.7,250.6 1212.3,251.4 1212.8,251.6 1213.4,249.8 1213.9,250.6 1214.4,250.9 1215.0,249.9 1215.5,249.1 1216.0,251.8 1216.6,250.3 1217.1,249.5 1217.7,250.2 1218.2,250.2 1218.7,249.8 1219.3,250.0 1219.8,251.9 1220.4,250.6 1220.9,249.4 1221.4,250.2 1222.0,250.6 1222.5,250.6 1223.1,250.9 1223.6,248.8 1224.1,249.0 1224.7,250.0 1225.2,250.4 1225.8,249.7 1226.3,250.2 1226.8,248.8 1227.4,251.1 1227.9,250.2 1228.5,250.6 1229.0,249.6 1229.5,248.9 1230.1,249.3 1230.6,249.1 1231.2,247.1 1231.7,247.5 1232.2,246.7 1232.8,244.9 1233.3,247.6 1233.9,245.9 1234.4,247.4 1234.9,244.4 1235.5,244.1 1236.0,241.0 1236.6,239.5 1237.1,238.1 1237.6,238.4 1238.2,240.2 1238.7,237.4 1239.3,236.8 1239.8,235.3 1240.3,238.8 1240.9,235.8 1241.4,230.8 1241.9,233.8 1242.5,229.4 1243.0,234.4 1243.6,231.4 1244.1,228.2 1244.6,225.4 1245.2,225.9 1245.7,222.7 1246.3,223.3 1246.8,223.3 1247.3,222.9 1247.9,218.7 1248.4,218.2 1249.0,218.5 1249.5,216.4 1250.0,218.6 1250.6,218.5 1251.1,217.5 1251.7,213.1 1252.2,215.9 1252.7,219.2 1253.3,215.4 1253.8,215.0 1254.4,215.0 1254.9,214.7 1255.4,208.6 1256.0,216.7 1256.5,213.1 1257.1,211.9 1257.6,215.3 1258.1,207.9 1258.7,208.8 1259.2,207.6 1259.8,205.4 1260.3,205.2 1260.8,204.0 1261.4,201.0 1261.9,198.0 1262.5,198.1 1263.0,195.0 1263.5,197.7 1264.1,195.1 1264.6,191.0 1265.2,190.3 1265.7,190.3 1266.2,192.6 1266.8,182.2 1267.3,183.3 1267.9,191.4 1268.4,186.9 1268.9,179.7 1269.5,180.5 1270.0,181.4 1270.5,185.3 1271.1,179.3 1271.6,182.4 1272.2,182.2 1272.7,181.1 1273.2,169.3 1273.8,178.0 1274.3,184.1 1274.9,176.8 1275.4,174.6 1275.9,181.2 1276.5,176.3 1277.0,176.0 1277.6,175.6 1278.1,172.8 1278.6,171.7 1279.2,176.8 1279.7,174.5 1280.3,174.9 1280.8,171.7 1281.3,180.1 1281.9,174.1 1282.4,170.2 1283.0,168.3 1283.5,169.8 1284.0,172.4 1284.6,168.0 1285.1,168.0 1285.7,171.3 1286.2,170.0 1286.7,176.5 1287.3,169.8 1287.8,172.1 1288.4,164.5 1288.9,167.0 1289.4,170.3 1290.0,161.4 1290.5,164.4 1291.1,168.2 1291.6,164.2 1292.1,172.0 1292.7,166.7 1293.2,161.7 1293.8,159.4 1294.3,159.0 1294.8,156.5 1295.4,149.9 1295.9,161.3 1296.4,159.5 1297.0,160.3 1297.5,158.1 1298.1,158.0 1298.6,149.6 1299.1,147.4 1299.7,154.0 1300.2,150.7 1300.8,147.0 1301.3,147.0 1301.8,142.8 1302.4,141.2 1302.9,142.5 1303.5,143.2 1304.0,142.1 1304.5,141.5 1305.1,132.7 1305.6,136.7 1306.2,140.7 1306.7,141.3 1307.2,137.4 1307.8,135.4 1308.3,135.1 1308.9,137.4 1309.4,130.7 1309.9,130.3 1310.5,132.8 1311.0,135.2 1311.6,131.4 1312.1,133.5 1312.6,132.4 1313.2,134.7 1313.7,134.1 1314.3,127.6 1314.8,128.7 1315.3,124.7 1315.9,123.8 1316.4,125.6 1317.0,130.2 1317.5,129.2 1318.0,125.7 1318.6,124.5 1319.1,120.3 1319.7,121.8 1320.2,128.9 1320.7,118.5 1321.3,123.6 1321.8,123.4 1322.3,119.8 1322.9,125.2 1323.4,118.2 1324.0,117.9 1324.5,126.0 1325.0,118.8 1325.6,112.9 1326.1,115.8 1326.7,122.4 1327.2,115.9 1327.7,116.9 1328.3,123.9 1328.8,118.1 1329.4,111.6 1329.9,115.7 1330.4,116.1 1331.0,115.3 1331.5,115.5 1332.1,116.5 1332.6,112.9 1333.1,115.3 1333.7,111.5 1334.2,109.0"/>
<polyline stroke="#9edae5" points="1065.5,321.2 1066.0,320.8 1066.6,320.8 1067.1,320.8 1067.7,320.3 1068.2,320.4 1068.7,320.0 1069.3,319.5 1069.8,320.1 1070.4,319.7 1070.9,319.3 1071.4,319.2 1072.0,319.6 1072.5,319.2 1073.1,319.0 1073.6,318.6 1074.1,318.3 1074.7,318.9 1075.2,318.8 1075.8,318.4 1076.3,318.6 1076.8,317.4 1077.4,318.1 1077.9,318.8 1078.5,318.3 1079.0,317.4 1079.5,317.6 1080.1,316.9 1080.6,317.1 1081.1,317.1 1081.7,316.9 1082.2,317.3 1082.8,316.7 1083.3,316.7 1083.8,316.4 1084.4,316.8 1084.9,316.8 1085.5,316.1 1086.0,316.9 1086.5,316.4 1087.1,316.8 1087.6,316.7 1088.2,316.5 1088.7,316.0 1089.2,316.6 1089.8,315.1 1090.3,315.7 1090.9,316.2 1091.4,315.8 1091.9,315.9 1092.5,315.8 1093.0,315.6 1093.6,315.3 1094.1,315.5 1094.6,315.1 1095.2,314.7 1095.7,314.9 1096.3,315.1 1096.8,315.2 1097.3,315.5 1097.9,314.4 1098.4,314.9 1099.0,314.8 1099.5,314.9 1100.0,315.1 1100.6,315.0 1101.1,314.8 1101.7,315.0 1102.2,314.5 1102.7,314.7 1103.3,314.7 1103.8,314.4 1104.4,314.1 1104.9,314.6 1105.4,314.1 1106.0,313.6 1106.5,313.7 1107.0,313.7 1107.6,313.8 1108.1,313.7 1108.7,313.7 1109.2,313.8 1109.7,314.0 1110.3,313.8 1110.8,313.4 1111.4,313.6 1111.9,313.2 1112.4,313.5 1113.0,313.4 1113.5,313.1 1114.1,313.1 1114.6,312.8 1115.1,312.9 1115.7,312.1 1116.2,312.8 1116.8,312.2 1117.3,312.0 1117.8,312.5 1118.4,313.0 1118.9,312.5 1119.5,312.0 1120.0,313.1 1120.5,311.9 1121.1,311.9 1121.6,311.3 1122.2,311.9 1122.7,312.0 1123.2,311.8 1123.8,312.0 1124.3,311.6 1124.9,311.8 1125.4,312.6 1125.9,311.8 1126.5,312.3 1127.0,312.7 1127.6,311.6 1128.1,311.9 1128.6,311.6 1129.2,311.8 1129.7,311.6 1130.3,311.6 1130.8,311.3 1131.3,311.5 1131.9,311.5 1132.4,311.4 1133.0,311.1 1133.5,311.5 1134.0,311.4 1134.6,311.7 1135.1,311.2 1135.6,311.1 1136.2,311.6 1136.7,311.3 1137.3,311.3 1137.8,311.8 1138.3,311.7 1138.9,311.0 1139.4,310.8 1140.0,311.4 1140.5,311.2 1141.0,310.6 1141.6,310.5 1142.1,311.1 1142.7,310.9 1143.2,310.9 1143.7,310.7 1144.3,309.9 1144.8,311.2 1145.4,311.2 1145.9,311.4 1146.4,310.6 1147.0,310.4 1147.5,310.6 1148.1,310.0 1148.6,309.9 1149.1,310.6 1149.7,310.3 1150.2,310.7 1150.8,310.3 1151.3,310.6 1151.8,309.7 1152.4,310.1 1152.9,310.0 1153.5,310.7 1154.0,310.0 1154.5,310.1 1155.1,310.8 1155.6,310.1 1156.2,310.1 1156.7,310.5 1157.2,310.9 1157.8,309.4 1158.3,309.9 1158.9,309.3 1159.4,309.0 1159.9,307.8 1160.5,306.7 1161.0,306.5 1161.5,306.0 1162.1,304.7 1162.6,303.9 1163.2,303.8 1163.7,303.4 1164.2,302.0 1164.8,301.0 1165.3,300.8 1165.9,300.3 1166.4,298.5 1166.9,298.7 1167.5,298.3 1168.0,297.6 1168.6,295.9 1169.1,296.1 1169.6,295.2 1170.2,295.4 1170.7,294.1 1171.3,293.8 1171.8,293.5 1172.3,292.1 1172.9,292.4 1173.4,291.7 1174.0,291.5 1174.5,290.7 1175.0,290.9 1175.6,290.4 1176.1,289.6 1176.7,289.4 1177.2,288.7 1177.7,288.5 1178.3,287.7 1178.8,288.5 1179.4,288.0 1179.9,285.2 1180.4,284.2 1181.0,282.4 1181.5,281.4 1182.1,280.9 1182.6,278.8 1183.1,277.7 1183.7,276.6 1184.2,275.6 1184.8,274.2 1185.3,271.4 1185.8,269.7 1186.4,269.3 1186.9,269.7 1187.4,269.0 1188.0,268.3 1188.5,268.4 1189.1,268.6 1189.6,267.9 1190.1,266.7 1190.7,265.6 1191.2,265.5 1191.8,265.6 1192.3,264.8 1192.8,264.3 1193.4,263.6 1193.9,262.6 1194.5,262.5 1195.0,262.6 1195.5,262.7 1196.1,262.3 1196.6,262.0 1197.2,263.2 1197.7,262.1 1198.2,262.0 1198.8,261.4 1199.3,261.8 1199.9,260.5 1200.4,261.0 1200.9,260.3 1201.5,261.7 1202.0,260.1 1202.6,260.3 1203.1,260.3 1203.6,260.4 1204.2,260.2 1204.7,259.7 1205.3,259.7 1205.8,258.7 1206.3,259.5 1206.9,259.9 1207.4,258.9 1208.0,259.0 1208.5,258.6 1209.0,258.4 1209.6,257.7 1210.1,258.3 1210.7,257.6 1211.2,257.2 1211.7,258.1 1212.3,257.4 1212.8,257.6 1213.4,256.7 1213.9,257.3 1214.4,256.4 1215.0,256.2 1215.5,255.7 1216.0,256.2 1216.6,256.6 1217.1,255.0 1217.7,254.8 1218.2,255.3 1218.7,254.8 1219.3,254.4 1219.8,254.7 1220.4,255.2 1220.9,254.8 1221.4,255.3 1222.0,254.9 1222.5,255.8 1223.1,254.6 1223.6,254.7 1224.1,255.2 1224.7,255.0 1225.2,255.9 1225.8,255.3 1226.3,255.1 1226.8,254.8 1227.4,255.9 1227.9,255.1 1228.5,255.1 1229.0,255.2 1229.5,254.9 1230.1,254.5 1230.6,254.5 1231.2,254.6 1231.7,254.0 1232.2,253.9 1232.8,253.6 1233.3,254.6 1233.9,254.0 1234.4,254.1 1234.9,253.8 1235.5,253.9 1236.0,253.6 1236.6,254.4 1237.1,253.6 1237.6,253.7 1238.2,253.4 1238.7,253.3 1239.3,253.1 1239.8,253.7 1240.3,253.3 1240.9,253.0 1241.4,253.5 1241.9,253.3 1242.5,253.7 1243.0,252.8 1243.6,253.2 1244.1,252.6 1244.6,252.8 1245.2,252.3 1245.7,253.0 1246.3,253.4 1246.8,252.7 1247.3,252.6 1247.9,252.8 1248.4,252.4 1249.0,252.9 1249.5,252.7 1250.0,252.2 1250.6,252.4 1251.1,251.9 1251.7,252.8 1252.2,253.0 1252.7,252.3 1253.3,252.1 1253.8,252.3 1254.4,252.0 1254.9,252.5 1255.4,253.0 1256.0,252.6 1256.5,251.8 1257.1,251.9 1257.6,252.2 1258.1,252.2 1258.7,252.5 1259.2,252.3 1259.8,251.5 1260.3,251.9 1260.8,252.1 1261.4,251.7 1261.9,252.4 1262.5,251.7 1263.0,251.9 1263.5,252.5 1264.1,252.4 1264.6,251.9 1265.2,252.2 1265.7,251.5 1266.2,251.8 1266.8,251.4 1267.3,251.4 1267.8,251.0 1268.4,251.3 1268.9,251.7 1269.5,251.6 1270.0,251.7 1270.5,252.0 1271.1,251.8 1271.6,251.4 1272.2,251.7 1272.7,251.8 1273.2,252.0 1273.8,250.7 1274.3,251.0 1274.9,251.7 1275.4,251.3 1275.9,251.7 1276.5,251.2 1277.0,250.8 1277.6,250.5 1278.1,251.4 1278.6,250.7 1279.2,251.0 1279.7,251.7 1280.3,251.9 1280.8,251.3 1281.3,251.3 1281.9,252.2 1282.4,251.4 1283.0,251.0 1283.5,250.2 1284.0,251.5 1284.6,251.0 1285.1,251.2 1285.7,251.3 1286.2,251.7 1286.7,251.0 1287.3,251.1 1287.8,251.0 1288.4,251.4 1288.9,250.7 1289.4,251.1 1290.0,251.4 1290.5,251.4 1291.1,251.1 1291.6,251.5 1292.1,251.2 1292.7,251.1 1293.2,250.6 1293.8,250.2 1294.3,251.3 1294.8,251.2 1295.4,251.0 1295.9,250.2 1296.4,250.3 1297.0,250.7 1297.5,250.5 1298.1,250.2 1298.6,250.3 1299.1,250.2 1299.7,251.1 1300.2,250.2 1300.8,250.4 1301.3,250.6 1301.8,250.3 1302.4,250.3 1302.9,249.7 1303.5,250.3 1304.0,249.8 1304.5,248.7 1305.1,249.6 1305.6,249.7 1306.2,249.5 1306.7,250.1 1307.2,249.7 1307.8,249.2 1308.3,249.5 1308.9,249.9 1309.4,249.8 1309.9,249.6 1310.5,249.6 1311.0,249.3 1311.6,249.5 1312.1,249.0 1312.6,249.6 1313.2,249.4 1313.7,249.6 1314.3,249.6 1314.8,249.7 1315.3,249.2 1315.9,249.2 1316.4,249.2 1317.0,249.0 1317.5,249.5 1318.0,249.5 1318.6,249.2 1319.1,249.1 1319.7,249.1 1320.2,249.0 1320.7,248.6 1321.3,249.0 1321.8,249.2 1322.3,249.7 1322.9,248.5 1323.4,248.4 1324.0,248.6 1324.5,248.9 1325.0,248.4 1325.6,248.4 1326.1,248.9 1326.7,248.4 1327.2,247.9 1327.7,248.1 1328.3,247.7 1328.8,247.6 1329.4,248.3 1329.9,248.6 1330.4,248.2 1331.0,248.6 1331.5,248.1 1332.1,248.9 1332.6,248.6 1333.1,248.3 1333.7,248.1"/>
<polyline stroke="#9467bd" points="1065.5,321.0 1066.0,320.5 1066.6,320.9 1067.1,320.3 1067.7,320.3 1068.2,320.1 1068.7,320.2 1069.3,319.9 1069.8,319.9 1070.4,319.1 1070.9,319.0 1071.4,319.0 1072.0,318.5 1072.5,318.4 1073.1,319.0 1073.6,318.6 1074.1,318.2 1074.7,318.5 1075.2,318.0 1075.8,317.7 1076.3,317.3 1076.8,317.3 1077.4,316.7 1077.9,317.8 1078.5,317.4 1079.0,317.7 1079.5,317.0 1080.1,316.8 1080.6,317.7 1081.1,317.4 1081.7,317.1 1082.2,317.5 1082.8,317.4 1083.3,317.5 1083.8,317.4 1084.4,317.1 1084.9,317.1 1085.5,317.2 1086.0,317.2 1086.5,317.6 1087.1,316.9 1087.6,317.2 1088.2,317.6 1088.7,316.7 1089.2,317.0 1089.8,316.8 1090.3,317.1 1090.9,317.0 1091.4,317.1 1091.9,316.8 1092.5,316.9 1093.0,316.9 1093.6,316.9 1094.1,317.0 1094.6,317.2 1095.2,316.7 1095.7,316.9 1096.3,317.1 1096.8,317.3 1097.3,317.3 1097.9,317.0 1098.4,317.0 1099.0,316.8 1099.5,316.9 1100.0,316.8 1100.6,316.7 1101.1,317.1 1101.7,317.3 1102.2,316.7 1102.7,316.8 1103.3,316.4 1103.8,316.3 1104.4,316.8 1104.9,316.4 1105.4,316.2 1106.0,316.9 1106.5,316.1 1107.0,316.8 1107.6,317.1 1108.1,316.2 1108.7,316.7 1109.2,316.5 1109.7,316.9 1110.3,316.4 1110.8,316.4 1111.4,316.0 1111.9,316.5 1112.4,317.1 1113.0,316.6 1113.5,316.1 1114.1,316.7 1114.6,316.7 1115.1,316.9 1115.7,317.0 1116.2,316.3 1116.8,316.5 1117.3,316.9 1117.8,316.7 1118.4,318.3 1118.9,321.9 1119.5,323.4 1120.0,323.5 1120.5,323.4 1121.1,323.4 1121.6,323.4 1122.2,323.4 1122.7,323.4 1123.2,323.5 1123.8,323.4 1124.3,323.4 1124.9,323.4 1125.4,323.4 1125.9,321.6 1126.5,317.9 1127.0,316.8 1127.6,316.8 1128.1,316.2 1128.6,317.0 1129.2,316.0 1129.7,316.5 1130.3,316.3 1130.8,316.1 1131.3,316.7 1131.9,316.1 1132.4,316.6 1133.0,315.9 1133.5,316.1 1134.0,315.9 1134.6,315.7 1135.1,316.1 1135.6,315.9 1136.2,315.6 1136.7,316.2 1137.3,316.2 1137.8,316.3 1138.3,316.0 1138.9,316.3 1139.4,316.1 1140.0,316.1 1140.5,315.7 1141.0,315.3 1141.6,315.6 1142.1,315.8 1142.7,315.7 1143.2,316.1 1143.7,314.6 1144.3,315.2 1144.8,315.6 1145.4,315.7 1145.9,315.2 1146.4,315.1 1147.0,315.7 1147.5,315.3 1148.1,315.0 1148.6,315.7 1149.1,316.0 1149.7,315.2 1150.2,315.0 1150.8,314.9 1151.3,315.3 1151.8,315.4 1152.4,315.3 1152.9,315.1 1153.5,315.1 1154.0,315.3 1154.5,315.6 1155.1,315.3 1155.6,315.1 1156.2,314.5 1156.7,314.2 1157.2,315.0 1157.8,314.9 1158.3,314.9 1158.9,315.0 1159.4,314.8 1159.9,314.9 1160.5,314.6 1161.0,314.3 1161.5,314.6 1162.1,315.1 1162.6,315.6 1163.2,314.4 1163.7,315.1 1164.2,314.4 1164.8,314.7 1165.3,314.2 1165.9,313.8 1166.4,313.9 1166.9,314.9 1167.5,314.6 1168.0,313.6 1168.6,315.9 1169.1,314.5 1169.6,315.0 1170.2,314.7 1170.7,314.6 1171.3,314.3 1171.8,314.1 1172.3,313.8 1172.9,313.7 1173.4,314.2 1174.0,314.6 1174.5,314.6 1175.0,314.2 1175.6,313.2 1176.1,314.6 1176.7,313.5 1177.2,313.9 1177.7,312.9 1178.3,313.4 1178.8,313.4 1179.4,314.1 1179.9,314.6 1180.4,314.2 1181.0,313.7 1181.5,313.5 1182.1,313.2 1182.6,313.9 1183.1,314.1 1183.7,313.5 1184.2,314.1 1184.8,313.8 1185.3,313.2 1185.8,312.5 1186.4,313.9 1186.9,313.6 1187.4,313.8 1188.0,313.3 1188.5,312.6 1189.1,312.6 1189.6,313.8 1190.1,313.2 1190.7,313.2 1191.2,312.7 1191.8,312.1 1192.3,312.9 1192.8,313.1 1193.4,313.4 1193.9,312.4 1194.5,312.1 1195.0,314.1 1195.5,312.4 1196.1,312.4 1196.6,312.2 1197.2,312.8 1197.7,312.3 1198.2,312.3 1198.8,312.6 1199.3,312.7 1199.9,313.3 1200.4,313.0 1200.9,313.7 1201.5,314.2 1202.0,315.2 1202.6,315.6 1203.1,315.9 1203.6,316.3 1204.2,316.1 1204.7,316.1 1205.3,316.1 1205.8,315.7 1206.3,315.9 1206.9,316.6 1207.4,315.9 1208.0,316.4 1208.5,316.2 1209.0,316.0 1209.6,315.8 1210.1,315.9 1210.7,315.5 1211.2,316.5 1211.7,315.8 1212.3,315.4 1212.8,316.0 1213.4,315.8 1213.9,315.5 1214.4,316.1 1215.0,315.7 1215.5,315.7 1216.0,315.7 1216.6,315.8 1217.1,315.7 1217.7,315.7 1218.2,315.6 1218.7,316.1 1219.3,315.9 1219.8,316.0 1220.4,315.6 1220.9,315.8 1221.4,316.0 1222.0,315.6 1222.5,315.7 1223.1,315.7 1223.6,315.5 1224.1,315.6 1224.7,315.8 1225.2,316.0 1225.8,315.9 1226.3,315.2 1226.8,315.1 1227.4,315.1 1227.9,315.5 1228.5,315.4 1229.0,315.4 1229.5,315.8 1230.1,315.5 1230.6,315.1 1231.2,315.3 1231.7,315.2 1232.2,315.4 1232.8,315.2 1233.3,315.3 1233.9,315.3 1234.4,315.3 1234.9,315.1 1235.5,315.2 1236.0,314.7 1236.6,315.3 1237.1,315.6 1237.6,314.9 1238.2,315.0 1238.7,315.4 1239.3,315.1 1239.8,315.3 1240.3,315.2 1240.9,315.3 1241.4,315.1 1241.9,314.4 1242.5,314.4 1243.0,314.9 1243.6,315.1 1244.1,314.9 1244.6,314.3 1245.2,315.0 1245.7,314.7 1246.3,314.9 1246.8,315.1 1247.3,314.5 1247.9,314.5 1248.4,314.7 1249.0,314.7 1249.5,314.4 1250.0,314.7 1250.6,314.4 1251.1,314.6 1251.7,314.9 1252.2,314.7 1252.7,314.5 1253.3,314.9 1253.8,314.9 1254.4,314.8 1254.9,314.4 1255.4,315.0 1256.0,314.7 1256.5,314.4 1257.1,314.8 1257.6,314.9 1258.1,314.6 1258.7,314.7 1259.2,314.6 1259.8,314.6 1260.3,314.4 1260.8,314.6 1261.4,314.3 1261.9,314.5 1262.5,314.2 1263.0,314.6 1263.5,314.6 1264.1,314.5 1264.6,314.0 1265.2,314.5 1265.7,314.7 1266.2,314.3 1266.8,314.6 1267.3,314.4 1267.8,314.0 1268.4,314.6 1268.9,314.6 1269.5,314.6 1270.0,314.4 1270.5,314.3 1271.1,314.8 1271.6,314.2 1272.2,314.7 1272.7,314.2 1273.2,313.8 1273.8,313.9 1274.3,313.7 1274.9,314.1 1275.4,313.3 1275.9,313.7 1276.5,313.0 1277.0,314.1 1277.6,313.6 1278.1,312.9 1278.6,313.4 1279.2,312.7 1279.7,313.6 1280.3,313.1 1280.8,313.6 1281.3,313.4 1281.9,313.1 1282.4,313.8 1283.0,313.1 1283.5,313.6 1284.0,314.3 1284.6,312.8 1285.1,312.9 1285.7,313.6 1286.2,313.2 1286.7,312.5 1287.3,312.4 1287.8,312.5 1288.4,312.6 1288.9,312.7 1289.4,312.7 1290.0,312.9 1290.5,313.0 1291.1,312.3 1291.6,310.9 1292.1,311.3 1292.7,312.0 1293.2,310.0 1293.8,310.6 1294.3,311.8 1294.8,311.8 1295.4,311.3 1295.9,310.5 1296.4,312.2 1297.0,310.0 1297.5,309.5 1298.1,309.6 1298.6,309.6 1299.1,309.8 1299.7,312.0 1300.2,309.3 1300.8,307.5 1301.3,308.7 1301.8,308.4 1302.4,309.5 1302.9,307.7 1303.5,308.9 1304.0,308.5 1304.5,311.3 1305.1,308.5 1305.6,309.5 1306.2,307.8 1306.7,307.7 1307.2,308.3 1307.8,308.4 1308.3,306.7 1308.9,307.5 1309.4,308.1 1309.9,306.7 1310.5,307.8 1311.0,307.0 1311.6,308.5 1312.1,307.8 1312.6,307.3 1313.2,307.8 1313.7,309.3 1314.3,308.5 1314.8,309.8 1315.3,308.3 1315.9,309.4 1316.4,308.7 1317.0,309.3"/>
</g>
<g stroke="#000" stroke-width="1.15" fill="none">
<rect x="1065.5" y="33.3" width="269.8" height="290.1"/>
<path stroke-width="0.9" d="M1119.5,323.4v-5.4M1119.5,33.3v5.4M1173.4,323.4v-5.4M1173.4,33.3v5.4M1227.4,323.4v-5.4M1227.4,33.3v5.4M1281.3,323.4v-5.4M1281.3,33.3v5.4M1065.5,291.2h5.4M1335.3,291.2h-5.4M1065.5,258.9h5.4M1335.3,258.9h-5.4M1065.5,226.7h5.4M1335.3,226.7h-5.4M1065.5,194.5h5.4M1335.3,194.5h-5.4M1065.5,162.2h5.4M1335.3,162.2h-5.4M1065.5,130.0h5.4M1335.3,130.0h-5.4M1065.5,97.8h5.4M1335.3,97.8h-5.4M1065.5,65.5h5.4M1335.3,65.5h-5.4"/>
</g>
<clipPath id="c01"><rect x="94.7" y="382.3" width="269.8" height="291.0"/></clipPath>
<g clip-path="url(#c01)" fill="none" stroke-width="2.7" stroke-linejoin="round" stroke-linecap="butt">
<polyline stroke="#ff7f0e" points="94.7,667.0 95.2,626.1 95.8,612.2 96.3,599.3 96.9,592.5 97.4,592.0 97.9,591.7 98.5,591.1 99.0,588.1 99.6,590.5 100.1,589.7 100.6,589.0 101.2,588.8 101.7,586.6 102.3,587.4 102.8,589.6 103.3,585.9 103.9,584.4 104.4,581.9 105.0,584.2 105.5,585.0 106.0,585.2 106.6,580.9 107.1,581.8 107.7,579.8 108.2,581.2 108.7,580.8 109.3,582.6 109.8,580.7 110.3,580.6 110.9,578.7 111.4,580.1 112.0,578.4 112.5,577.1 113.0,579.2 113.6,577.8 114.1,577.7 114.7,578.0 115.2,575.2 115.7,576.9 116.3,574.6 116.8,573.9 117.4,575.0 117.9,575.1 118.4,572.9 119.0,571.4 119.5,573.5 120.1,573.2 120.6,572.9 121.1,572.8 121.7,574.5 122.2,573.6 122.8,572.9 123.3,571.5 123.8,571.4 124.4,571.2 124.9,570.6 125.5,569.8 126.0,571.8 126.5,574.6 127.1,570.2 127.6,570.7 128.2,570.4 128.7,569.9 129.2,570.5 129.8,569.3 130.3,571.6 130.9,572.0 131.4,570.8 131.9,571.8 132.5,570.5 133.0,571.0 133.6,570.6 134.1,568.6 134.6,570.8 135.2,571.4 135.7,575.0 136.2,576.4 136.8,575.7 137.3,567.8 137.9,557.7 138.4,555.1 138.9,553.8 139.5,551.7 140.0,551.1 140.6,551.0 141.1,549.6 141.6,547.8 142.2,546.2 142.7,544.9 143.3,543.0 143.8,542.3 144.3,541.5 144.9,538.9 145.4,539.0 146.0,538.4 146.5,541.2 147.0,539.3 147.6,539.4 148.1,538.5 148.7,539.7 149.2,538.4 149.7,537.6 150.3,539.5 150.8,537.9 151.4,536.2 151.9,539.8 152.4,537.4 153.0,538.8 153.5,535.1 154.1,528.6 154.6,521.6 155.1,518.1 155.7,517.7 156.2,514.3 156.8,515.7 157.3,514.8 157.8,513.2 158.4,512.5 158.9,511.9 159.5,509.6 160.0,507.6 160.5,509.7 161.1,508.4 161.6,506.8 162.2,507.3 162.7,509.2 163.2,508.2 163.8,505.2 164.3,506.8 164.8,507.0 165.4,504.7 165.9,507.1 166.5,506.0 167.0,504.9 167.5,504.8 168.1,504.6 168.6,504.2 169.2,503.8 169.7,504.8 170.2,504.4 170.8,504.6 171.3,503.1 171.9,503.1 172.4,504.6 172.9,502.6 173.5,502.2 174.0,501.9 174.6,500.5 175.1,502.1 175.6,503.4 176.2,503.3 176.7,502.3 177.3,501.1 177.8,499.6 178.3,492.6 178.9,489.4 179.4,485.5 180.0,483.5 180.5,483.6 181.0,481.3 181.6,479.5 182.1,479.3 182.7,478.1 183.2,479.0 183.7,476.0 184.3,475.6 184.8,474.9 185.4,473.1 185.9,471.6 186.4,471.1 187.0,469.4 187.5,470.8 188.1,469.8 188.6,468.9 189.1,468.5 189.7,469.7 190.2,468.0 190.7,468.5 191.3,467.7 191.8,468.5 192.4,467.2 192.9,466.8 193.4,468.3 194.0,467.4 194.5,467.6 195.1,466.4 195.6,467.6 196.1,466.5 196.7,466.9 197.2,467.0 197.8,466.5 198.3,466.2 198.8,466.1 199.4,466.3 199.9,465.7 200.5,467.1 201.0,466.0 201.5,466.1 202.1,465.2 202.6,465.2 203.2,467.1 203.7,465.7 204.2,466.9 204.8,466.4 205.3,466.1 205.9,466.5 206.4,465.9 206.9,466.4 207.5,465.6 208.0,465.1 208.6,465.4 209.1,466.1 209.6,466.4 210.2,465.1 210.7,466.3 211.3,466.6 211.8,465.7 212.3,465.8 212.9,465.8 213.4,466.8 214.0,466.8 214.5,466.4 215.0,466.8 215.6,466.3 216.1,465.4 216.6,465.9 217.2,465.1 217.7,466.7 218.3,466.0 218.8,465.4 219.3,465.1 219.9,465.7 220.4,467.0 221.0,466.1 221.5,466.3 222.0,466.0 222.6,466.4 223.1,465.8 223.7,465.1 224.2,465.3 224.7,466.4 225.3,464.8 225.8,465.9 226.4,466.0 226.9,466.3 227.4,465.7 228.0,466.5 228.5,465.1 229.1,465.9 229.6,466.1 230.1,465.7 230.7,466.2 231.2,466.0 231.8,465.9 232.3,466.1 232.8,466.3 233.4,465.9 233.9,466.0 234.5,465.2 235.0,466.9 235.5,465.5 236.1,465.4 236.6,466.5 237.2,466.6 237.7,465.6 238.2,466.0 238.8,466.8 239.3,466.4 239.9,465.1 240.4,466.2 240.9,465.7 241.5,466.0 242.0,465.2 242.6,466.3 243.1,464.6 243.6,465.4 244.2,466.0 244.7,465.8 245.2,466.5 245.8,465.7 246.3,465.7 246.9,467.0 247.4,465.6 247.9,466.2 248.5,467.4 249.0,467.7 249.6,465.4 250.1,465.4 250.6,466.9 251.2,466.2 251.7,466.0 252.3,465.3 252.8,466.3 253.3,465.2 253.9,466.1 254.4,466.3 255.0,465.1 255.5,465.1 256.0,466.1 256.6,464.8 257.1,466.1 257.7,465.5 258.2,464.8 258.7,465.9 259.3,464.4 259.8,466.3 260.4,466.4 260.9,466.5 261.4,466.1 262.0,465.4 262.5,466.1 263.1,465.0 263.6,466.0 264.1,465.7 264.7,466.1 265.2,465.1 265.8,465.5 266.3,465.0 266.8,465.6 267.4,465.1 267.9,465.4 268.5,465.6 269.0,465.5 269.5,465.2 270.1,465.6 270.6,464.8 271.1,465.3 271.7,465.4 272.2,465.8 272.8,465.4 273.3,465.0 273.8,465.9 274.4,466.1 274.9,466.4 275.5,466.1 276.0,465.6 276.5,465.3 277.1,464.5 277.6,464.5 278.2,465.3 278.7,465.0 279.2,466.3 279.8,465.1 280.3,465.6 280.9,465.8 281.4,465.9 281.9,464.8 282.5,465.1 283.0,465.6 283.6,465.9 284.1,464.8 284.6,466.3 285.2,465.7 285.7,465.4 286.3,464.6 286.8,465.4 287.3,464.7 287.9,464.9 288.4,465.2 289.0,464.1 289.5,466.5 290.0,465.6 290.6,466.4 291.1,465.1 291.7,466.7 292.2,465.1 292.7,465.0 293.3,464.6 293.8,464.9 294.4,465.3 294.9,465.5 295.4,464.1 296.0,464.3 296.5,465.5 297.1,464.4 297.6,466.0 298.1,465.5 298.7,465.3 299.2,464.2 299.7,465.4 300.3,464.5 300.8,465.5 301.4,466.0 301.9,466.7 302.4,466.6 303.0,465.5 303.5,465.3 304.1,465.7 304.6,465.2 305.1,464.1 305.7,466.6 306.2,465.8 306.8,465.4 307.3,465.4 307.8,465.1 308.4,465.6 308.9,465.5 309.5,466.9 310.0,464.3 310.5,464.9 311.1,465.7 311.6,464.3 312.2,464.9 312.7,465.8 313.2,465.3 313.8,465.2 314.3,465.3 314.9,465.0 315.4,465.6 315.9,465.2 316.5,466.2 317.0,465.5 317.6,465.7 318.1,465.6 318.6,465.4 319.2,466.2 319.7,465.2 320.3,465.6 320.8,464.6 321.3,465.2 321.9,465.5 322.4,465.2 323.0,466.0 323.5,466.2 324.0,465.8 324.6,465.0 325.1,465.6 325.6,465.3 326.2,466.5 326.7,466.5 327.3,465.8 327.8,465.5 328.3,464.3 328.9,465.0 329.4,465.4 330.0,464.6 330.5,465.8 331.0,465.7 331.6,464.9 332.1,463.6 332.7,467.2 333.2,465.7 333.7,465.2 334.3,465.9 334.8,466.0 335.4,464.8 335.9,466.3 336.4,465.1 337.0,464.4 337.5,465.5 338.1,465.9 338.6,465.0 339.1,465.8 339.7,464.6 340.2,464.2 340.8,464.5 341.3,465.9 341.8,465.4 342.4,465.7 342.9,465.4 343.5,465.5 344.0,464.7 344.5,467.2 345.1,463.9 345.6,463.9 346.2,464.6 346.7,465.6 347.2,464.9 347.8,465.4 348.3,465.8 348.9,466.1 349.4,464.2 349.9,464.6 350.5,463.8 351.0,466.4 351.5,466.4 352.1,465.8 352.6,465.8 353.2,466.1 353.7,464.3 354.2,463.7 354.8,465.6 355.3,466.2"/>
<polyline stroke="#1f77b4" points="94.7,664.8 95.3,644.6 96.0,619.2 96.6,607.8 97.3,633.4 97.9,625.7 98.6,631.0 99.2,611.5 99.8,613.9 100.5,611.2 101.1,620.6 101.8,629.1 102.4,620.8 103.1,612.9 103.7,615.9 104.3,624.3 105.0,613.8 105.6,601.9 106.3,601.2 106.9,597.4 107.6,604.1 108.2,613.2 108.8,588.4 109.5,603.0 110.1,600.4 110.8,621.4 111.4,609.1 112.1,588.6 112.7,584.1 113.4,606.9 114.0,597.7 114.6,610.0 115.3,599.4 115.9,626.5 116.6,590.2 117.2,602.9 117.9,599.7 118.5,602.6 119.1,616.3 119.8,610.2 120.4,606.3 121.1,609.9 121.7,611.0 122.4,593.2 123.0,601.1 123.6,601.1 124.3,600.4 124.9,606.2 125.6,615.9 126.2,630.6 126.9,610.4 127.5,604.4 128.1,609.9 128.8,602.3 129.4,618.5 130.1,628.4 130.7,612.5 131.4,598.6 132.0,627.3 132.6,598.0 133.3,610.9 133.9,621.8 134.6,613.5 135.2,608.8 135.9,616.8 136.5,611.3 137.1,607.8 137.8,611.0 138.4,598.2 139.1,612.8 139.7,600.2 140.4,613.3 141.0,608.5 141.6,600.5 142.3,605.1 142.9,606.8 143.6,611.8 144.2,611.9 144.9,604.2 145.5,583.3 146.1,619.3 146.8,600.0 147.4,597.2 148.1,599.9 148.7,610.6 149.4,624.4 150.0,604.8 150.7,613.6 151.3,601.9 151.9,600.5 152.6,608.4 153.2,614.3 153.9,611.0 154.5,606.5 155.2,611.3 155.8,586.1 156.4,598.5 157.1,587.3 157.7,601.8 158.4,608.8 159.0,609.7 159.7,595.9 160.3,581.5 160.9,592.3 161.6,596.2 162.2,597.6 162.9,588.8 163.5,592.9 164.2,600.9 164.8,596.7 165.4,607.9 166.1,614.6 166.7,601.0 167.4,589.5 168.0,594.1 168.7,608.3 169.3,614.3 169.9,611.5 170.6,606.8 171.2,608.4 171.9,614.0 172.5,625.5 173.2,629.7 173.8,622.5 174.4,613.5 175.1,624.1 175.7,634.3 176.4,611.1 177.0,612.8 177.7,627.4 178.3,609.3 178.9,613.2 179.6,613.0 180.2,617.9 180.9,609.3 181.5,615.7 182.2,610.9 182.8,601.0 183.5,607.3 184.1,608.1 184.7,605.5 185.4,601.4 186.0,592.2 186.7,595.5 187.3,593.5 188.0,597.8 188.6,600.3 189.2,596.4 189.9,592.2 190.5,591.8 191.2,596.6 191.8,600.5 192.5,599.0 193.1,597.0 193.7,586.3 194.4,590.5 195.0,582.4 195.7,585.8 196.3,579.3 197.0,592.4 197.6,584.3 198.2,583.4 198.9,591.8 199.5,581.4 200.2,578.9 200.8,580.1 201.5,584.5 202.1,580.2 202.7,577.1 203.4,578.6 204.0,568.1 204.7,576.5 205.3,582.3 206.0,577.5 206.6,563.8 207.2,571.9 207.9,577.1 208.5,587.9 209.2,587.4 209.8,592.6 210.5,580.1 211.1,587.9 211.7,600.6 212.4,598.6 213.0,606.4 213.7,602.1 214.3,595.3 215.0,596.5 215.6,587.6 216.2,591.2 216.9,577.0 217.5,581.2 218.2,570.5 218.8,565.9 219.5,568.2 220.1,564.1 220.8,559.2 221.4,556.6 222.0,548.7 222.7,553.6 223.3,554.7 224.0,559.0 224.6,555.2 225.3,559.1 225.9,550.9 226.5,545.2 227.2,544.2 227.8,544.8 228.5,541.1 229.1,537.1 229.8,540.7 230.4,537.2 231.0,534.4 231.7,536.3 232.3,535.0 233.0,534.4 233.6,530.9 234.3,534.3 234.9,530.3 235.5,536.3 236.2,532.3 236.8,533.2 237.5,528.1 238.1,524.0 238.8,529.7 239.4,534.1 240.0,524.4 240.7,526.2 241.3,525.4 242.0,526.5 242.6,526.7 243.3,521.1 243.9,518.1 244.5,516.7 245.2,519.4 245.8,526.4 246.5,528.9 247.1,516.4 247.8,524.3 248.4,521.9 249.0,515.5 249.7,523.4 250.3,522.2 251.0,527.4 251.6,524.8 252.3,521.3 252.9,520.8 253.6,519.7 254.2,532.4 254.8,519.9 255.5,515.5 256.1,520.1 256.8,512.5 257.4,519.4 258.1,511.8 258.7,507.7 259.3,513.0 260.0,498.9 260.6,496.7 261.3,496.9 261.9,498.3 262.6,499.1 263.2,501.4 263.8,493.9 264.5,494.9 265.1,489.5 265.8,488.3 266.4,487.1 267.1,491.3 267.7,487.7 268.3,490.1 269.0,479.4 269.6,487.2 270.3,491.6 270.9,493.6 271.6,490.4 272.2,484.4 272.8,493.7 273.5,480.0 274.1,484.8 274.8,487.9 275.4,486.9 276.1,496.0 276.7,497.3 277.3,498.5 278.0,484.7 278.6,486.7 279.3,485.6 279.9,482.6 280.6,490.3 281.2,487.4 281.8,489.7 282.5,484.3 283.1,490.4 283.8,476.8 284.4,490.9 285.1,492.7 285.7,501.2 286.3,502.5 287.0,492.4 287.6,498.5 288.3,487.6 288.9,496.1 289.6,491.4 290.2,496.8 290.9,496.0 291.5,483.8 292.1,492.7 292.8,493.5 293.4,490.2 294.1,495.8 294.7,485.5 295.4,483.9 296.0,491.9 296.6,482.0 297.3,477.3 297.9,473.9 298.6,474.1 299.2,460.0 299.9,467.6 300.5,469.2 301.1,462.1 301.8,456.2 302.4,464.1 303.1,463.6 303.7,452.3 304.4,445.8 305.0,485.3 305.6,457.9 306.3,461.8 306.9,453.9 307.6,447.9 308.2,439.5 308.9,447.9 309.5,444.8 310.1,437.6 310.8,442.0 311.4,441.4 312.1,438.8 312.7,439.1 313.4,421.0 314.0,428.1 314.6,450.0 315.3,442.9 315.9,448.2 316.6,446.1 317.2,461.5 317.9,437.8 318.5,432.3 319.1,437.0 319.8,449.4 320.4,445.9 321.1,443.4 321.7,430.3 322.4,406.9 323.0,405.3 323.7,435.6 324.3,415.0 324.9,438.8 325.6,428.2 326.2,416.9 326.9,412.7 327.5,390.6 328.2,396.5 328.8,376.3 329.4,430.8 330.1,404.9 330.7,413.0 331.4,426.2 332.0,433.5 332.7,424.2 333.3,403.0 333.9,392.0 334.6,396.8 335.2,415.3 335.9,397.2 336.5,408.6 337.2,410.8 337.8,425.8 338.4,435.1 339.1,417.2 339.7,410.2 340.4,367.3 341.0,385.8 341.7,400.3 342.3,403.2 342.9,418.0 343.6,407.7 344.2,384.8 344.9,411.2 345.5,406.8 346.2,410.0 346.8,400.5 347.4,354.1 348.1,391.0 348.7,385.7 349.4,412.1 350.0,409.8 350.7,403.3 351.3,381.8 351.9,388.2 352.6,392.5 353.2,390.3 353.9,397.9 354.5,395.0 355.2,378.1 355.8,383.1 356.4,375.2 357.1,391.3 357.7,378.7 358.4,415.8 359.0,374.7 359.7,381.8 360.3,378.1 361.0,380.8 361.6,409.2 362.2,385.7 362.9,379.2"/>
<polyline stroke="#17c3b0" points="94.7,667.5 95.3,641.6 96.0,619.8 96.6,623.7 97.3,616.7 97.9,625.4 98.6,608.0 99.2,603.7 99.8,611.9 100.5,627.3 101.1,614.2 101.8,598.1 102.4,613.4 103.1,614.5 103.7,592.1 104.3,618.4 105.0,617.3 105.6,590.3 106.3,625.4 106.9,621.6 107.6,631.7 108.2,638.4 108.8,597.4 109.5,604.2 110.1,619.4 110.8,609.5 111.4,595.7 112.1,598.5 112.7,604.6 113.4,599.3 114.0,636.8 114.6,633.8 115.3,635.3 115.9,636.7 116.6,640.0 117.2,615.7 117.9,626.9 118.5,634.7 119.1,621.0 119.8,620.0 120.4,612.6 121.1,611.1 121.7,612.2 122.4,590.8 123.0,604.0 123.6,598.7 124.3,603.9 124.9,596.8 125.6,608.7 126.2,595.8 126.9,601.1 127.5,600.4 128.1,601.0 128.8,610.6 129.4,621.4 130.1,631.0 130.7,602.0 131.4,610.5 132.0,616.5 132.6,590.2 133.3,597.8 133.9,605.2 134.6,605.3 135.2,593.0 135.9,590.7 136.5,605.6 137.1,589.6 137.8,619.1 138.4,599.6 139.1,613.9 139.7,597.3 140.4,594.1 141.0,613.8 141.6,593.7 142.3,613.6 142.9,597.3 143.6,604.1 144.2,600.8 144.9,594.5 145.5,606.1 146.1,616.3 146.8,601.2 147.4,616.1 148.1,595.9 148.7,590.6 149.4,583.3 150.0,593.2 150.7,591.8 151.3,598.4 151.9,600.4 152.6,599.5 153.2,587.5 153.9,584.2 154.5,593.9 155.2,586.2 155.8,573.4 156.4,566.4 157.1,578.9 157.7,578.9 158.4,584.2 159.0,590.2 159.7,582.8 160.3,584.4 160.9,588.7 161.6,579.8 162.2,571.7 162.9,588.7 163.5,582.7 164.2,582.0 164.8,584.9 165.4,579.5 166.1,578.2 166.7,566.9 167.4,574.5 168.0,575.1 168.7,565.3 169.3,573.3 169.9,568.0 170.6,566.8 171.2,558.3 171.9,570.9 172.5,571.3 173.2,572.1 173.8,575.9 174.4,574.2 175.1,570.2 175.7,572.2 176.4,575.9 177.0,572.4 177.7,568.7 178.3,571.1 178.9,578.8 179.6,572.1 180.2,564.2 180.9,577.0 181.5,573.4 182.2,577.6 182.8,572.3 183.5,573.1 184.1,566.4 184.7,566.0 185.4,569.5 186.0,575.2 186.7,572.0 187.3,564.9 188.0,567.8 188.6,568.3 189.2,568.2 189.9,565.6 190.5,570.2 191.2,575.7 191.8,564.9 192.5,566.7 193.1,567.7 193.7,570.5 194.4,570.2 195.0,561.7 195.7,565.3 196.3,559.6 197.0,558.8 197.6,554.9 198.2,556.4 198.9,557.4 199.5,558.8 200.2,562.7 200.8,561.4 201.5,560.5 202.1,559.8 202.7,565.5 203.4,553.4 204.0,549.7 204.7,544.4 205.3,540.7 206.0,556.0 206.6,551.5 207.2,558.7 207.9,551.6 208.5,551.9 209.2,542.9 209.8,550.5 210.5,549.4 211.1,551.0 211.7,548.9 212.4,542.7 213.0,547.5 213.7,556.5 214.3,553.2 215.0,550.1 215.6,553.6 216.2,554.0 216.9,549.4 217.5,543.9 218.2,559.5 218.8,546.5 219.5,554.2 220.1,555.9 220.8,556.0 221.4,557.7 222.0,562.1 222.7,562.6 223.3,569.4 224.0,569.2 224.6,572.0 225.3,570.7 225.9,557.5 226.5,565.1 227.2,558.9 227.8,556.2 228.5,557.3 229.1,557.6 229.8,553.7 230.4,556.0 231.0,553.5 231.7,557.2 232.3,546.8 233.0,546.3 233.6,548.6 234.3,547.1 234.9,547.5 235.5,558.9 236.2,549.8 236.8,553.2 237.5,558.6 238.1,553.9 238.8,545.3 239.4,553.3 240.0,550.6 240.7,550.0 241.3,555.5 242.0,569.6 242.6,572.6 243.3,572.1 243.9,589.5 244.5,587.5 245.2,579.8 245.8,572.0 246.5,570.6 247.1,567.0 247.8,562.1 248.4,562.1 249.0,568.8 249.7,566.6 250.3,562.5 251.0,563.4 251.6,562.3 252.3,563.1 252.9,561.4 253.6,561.7 254.2,564.7 254.8,561.7 255.5,560.7 256.1,562.8 256.8,563.1 257.4,557.0 258.1,559.8 258.7,556.7 259.3,557.1 260.0,555.7 260.6,557.1 261.3,553.7 261.9,555.6 262.6,551.4 263.2,558.3 263.8,556.1 264.5,556.7 265.1,549.8 265.8,551.6 266.4,550.1 267.1,549.0 267.7,551.3 268.3,553.7 269.0,556.4 269.6,551.6 270.3,549.2 270.9,545.0 271.6,547.4 272.2,546.5 272.8,543.9 273.5,544.5 274.1,541.9 274.8,544.7 275.4,546.4 276.1,550.5 276.7,551.2 277.3,550.4 278.0,559.0 278.6,561.7 279.3,565.0 279.9,570.9 280.6,572.4 281.2,567.4 281.8,571.2 282.5,566.0 283.1,562.5 283.8,560.2 284.4,555.9 285.1,552.6 285.7,550.9 286.3,550.9 287.0,553.6 287.6,547.8 288.3,548.3 288.9,549.8 289.6,548.3 290.2,548.2 290.9,547.3 291.5,552.4 292.1,542.3 292.8,541.7 293.4,535.6 294.1,532.1 294.7,532.4 295.4,531.1 296.0,535.6 296.6,533.2 297.3,539.5 297.9,531.1 298.6,529.9 299.2,531.4 299.9,529.8 300.5,523.1 301.1,530.3 301.8,523.8 302.4,528.9 303.1,526.6 303.7,535.3 304.4,529.5 305.0,526.1 305.6,530.1 306.3,524.7 306.9,531.5 307.6,528.8 308.2,530.8 308.9,526.9 309.5,528.4 310.1,525.9 310.8,527.4 311.4,526.5 312.1,528.1 312.7,533.4 313.4,529.6 314.0,530.6 314.6,519.2 315.3,530.5 315.9,532.1 316.6,523.5 317.2,529.5 317.9,525.5 318.5,530.8 319.1,531.3 319.8,527.3 320.4,524.6 321.1,523.4 321.7,526.2 322.4,521.3 323.0,522.5 323.7,526.8 324.3,529.2 324.9,526.3 325.6,528.4 326.2,528.1 326.9,528.6 327.5,525.9 328.2,522.2 328.8,519.7 329.4,525.3 330.1,523.5 330.7,521.6 331.4,519.2 332.0,516.5 332.7,515.9 333.3,518.6 333.9,517.4 334.6,514.4 335.2,520.6 335.9,518.9 336.5,518.1 337.2,516.7 337.8,518.4 338.4,525.0 339.1,518.5 339.7,516.7 340.4,518.2 341.0,509.6 341.7,515.6 342.3,513.6 342.9,514.1 343.6,515.4 344.2,509.8 344.9,513.4 345.5,511.2 346.2,514.3 346.8,544.2 347.4,562.5 348.1,563.3 348.7,561.2 349.4,556.2 350.0,561.7 350.7,555.5 351.3,558.8 351.9,559.8 352.6,558.2 353.2,556.6 353.9,549.4 354.5,547.6 355.2,547.8 355.8,542.5 356.4,539.3 357.1,542.5 357.7,541.9 358.4,545.1 359.0,542.9 359.7,540.3 360.3,541.9 361.0,543.7 361.6,544.1 362.2,542.9 362.9,546.4"/>
<polyline stroke="#9edae5" points="94.7,668.1 95.3,642.4 96.0,621.5 96.6,619.1 97.3,622.1 97.9,619.7 98.6,612.5 99.2,602.1 99.8,608.0 100.5,602.4 101.1,619.2 101.8,603.5 102.4,620.1 103.1,609.6 103.7,627.3 104.3,609.2 105.0,612.1 105.6,606.1 106.3,606.3 106.9,596.9 107.6,607.2 108.2,593.5 108.8,594.5 109.5,598.2 110.1,612.0 110.8,605.9 111.4,603.0 112.1,599.0 112.7,594.1 113.4,608.5 114.0,594.5 114.6,605.4 115.3,604.6 115.9,595.4 116.6,592.8 117.2,603.9 117.9,595.1 118.5,593.7 119.1,587.9 119.8,589.7 120.4,599.2 121.1,587.3 121.7,596.7 122.4,595.8 123.0,600.2 123.6,587.7 124.3,585.5 124.9,602.3 125.6,601.0 126.2,594.8 126.9,589.5 127.5,592.8 128.1,585.5 128.8,583.6 129.4,583.1 130.1,594.6 130.7,594.3 131.4,594.8 132.0,590.3 132.6,590.2 133.3,585.9 133.9,592.2 134.6,590.7 135.2,593.6 135.9,592.8 136.5,590.8 137.1,590.6 137.8,590.8 138.4,587.9 139.1,588.0 139.7,590.7 140.4,585.0 141.0,588.2 141.6,582.8 142.3,586.9 142.9,586.4 143.6,587.9 144.2,589.9 144.9,589.0 145.5,587.2 146.1,583.6 146.8,584.5 147.4,581.3 148.1,582.3 148.7,577.7 149.4,579.9 150.0,583.2 150.7,581.5 151.3,581.8 151.9,579.9 152.6,580.9 153.2,585.8 153.9,583.8 154.5,583.8 155.2,577.5 155.8,583.0 156.4,580.5 157.1,579.6 157.7,581.9 158.4,579.5 159.0,578.6 159.7,583.5 160.3,581.2 160.9,582.5 161.6,583.0 162.2,582.1 162.9,581.5 163.5,582.4 164.2,581.1 164.8,580.5 165.4,578.7 166.1,581.0 166.7,581.1 167.4,578.4 168.0,580.8 168.7,581.4 169.3,579.6 169.9,579.2 170.6,584.2 171.2,581.1 171.9,579.1 172.5,580.1 173.2,579.3 173.8,581.8 174.4,579.7 175.1,580.5 175.7,580.2 176.4,580.1 177.0,580.3 177.7,580.4 178.3,579.8 178.9,579.6 179.6,577.6 180.2,581.0 180.9,577.8 181.5,579.4 182.2,579.7 182.8,579.8 183.5,579.0 184.1,578.8 184.7,577.6 185.4,577.8 186.0,580.4 186.7,579.0 187.3,579.7 188.0,578.2 188.6,578.1 189.2,580.0 189.9,578.8 190.5,577.2 191.2,576.6 191.8,577.1 192.5,577.0 193.1,578.0 193.7,577.0 194.4,578.4 195.0,579.0 195.7,576.2 196.3,577.0 197.0,576.7 197.6,577.5 198.2,579.5 198.9,576.6 199.5,576.1 200.2,574.9 200.8,574.9 201.5,576.6 202.1,576.1 202.7,578.0 203.4,577.7 204.0,577.0 204.7,578.9 205.3,577.0 206.0,575.4 206.6,576.5 207.2,573.9 207.9,577.9 208.5,576.2 209.2,576.9 209.8,575.9 210.5,575.0 211.1,576.6 211.7,579.1 212.4,576.0 213.0,577.2 213.7,576.6 214.3,576.5 215.0,576.8 215.6,576.3 216.2,576.3 216.9,575.5 217.5,577.6 218.2,577.2 218.8,576.7 219.5,575.1 220.1,574.9 220.8,572.8 221.4,574.5 222.0,575.4 222.7,576.7 223.3,574.2 224.0,575.2 224.6,574.2 225.3,576.8 225.9,578.3 226.5,575.1 227.2,576.0 227.8,574.9 228.5,575.4 229.1,576.5 229.8,576.7 230.4,575.9 231.0,575.4 231.7,575.7 232.3,576.2 233.0,576.4 233.6,575.2 234.3,574.8 234.9,574.6 235.5,576.5 236.2,575.3 236.8,574.4 237.5,575.1 238.1,574.7 238.8,574.2 239.4,575.0 240.0,572.3 240.7,574.7 241.3,573.4 242.0,574.1 242.6,573.8 243.3,573.6 243.9,573.9 244.5,574.3 245.2,576.1 245.8,575.0 246.5,573.3 247.1,572.7 247.8,574.7 248.4,573.4 249.0,574.3 249.7,572.8 250.3,572.8 251.0,573.4 251.6,573.6 252.3,573.4 252.9,574.8 253.6,573.2 254.2,574.8 254.8,573.8 255.5,572.6 256.1,574.8 256.8,574.0 257.4,573.2 258.1,572.7 258.7,574.9 259.3,574.0 260.0,572.8 260.6,574.2 261.3,573.6 261.9,573.8 262.6,571.2 263.2,573.1 263.8,574.3 264.5,572.1 265.1,569.3 265.8,571.9 266.4,572.7 267.1,573.9 267.7,571.9 268.3,570.6 269.0,572.5 269.6,573.9 270.3,574.4 270.9,574.7 271.6,576.9 272.2,586.5 272.8,592.0 273.5,582.6 274.1,577.8 274.8,571.8 275.4,571.7 276.1,571.3 276.7,573.3 277.3,571.7 278.0,570.5 278.6,572.3 279.3,571.4 279.9,572.0 280.6,573.7 281.2,571.5 281.8,574.1 282.5,573.3 283.1,572.0 283.8,574.5 284.4,573.6 285.1,573.1 285.7,575.0 286.3,573.1 287.0,573.6 287.6,582.7 288.3,603.0 288.9,622.3 289.6,608.0 290.2,591.5 290.9,578.6 291.5,581.1 292.1,579.2 292.8,578.4 293.4,578.8 294.1,577.3 294.7,577.5 295.4,578.1 296.0,575.4 296.6,575.0 297.3,575.8 297.9,578.5 298.6,577.3 299.2,577.6 299.9,580.5 300.5,576.3 301.1,578.8 301.8,577.4 302.4,577.7 303.1,575.7 303.7,580.1 304.4,580.3 305.0,576.5 305.6,575.5 306.3,578.9 306.9,577.3 307.6,578.8 308.2,577.7 308.9,581.2 309.5,577.1 310.1,578.2 310.8,577.2 311.4,579.2 312.1,580.4 312.7,577.1 313.4,573.6 314.0,579.8 314.6,577.0 315.3,579.3 315.9,576.5 316.6,576.6 317.2,577.7 317.9,577.7 318.5,577.9 319.1,573.8 319.8,576.8 320.4,576.5 321.1,573.3 321.7,577.2 322.4,575.9 323.0,575.8 323.7,578.9 324.3,577.6 324.9,574.6 325.6,575.7 326.2,574.7 326.9,577.0 327.5,575.5 328.2,575.5 328.8,576.4 329.4,576.1 330.1,576.7 330.7,576.3 331.4,576.7 332.0,576.0 332.7,579.4 333.3,575.7 333.9,576.3 334.6,575.4 335.2,575.5 335.9,575.9 336.5,575.1 337.2,573.6 337.8,575.6 338.4,578.1 339.1,580.5 339.7,588.0 340.4,593.0 341.0,585.2 341.7,578.3 342.3,575.5 342.9,576.0 343.6,573.1 344.2,574.3 344.9,574.8 345.5,574.1 346.2,577.1 346.8,575.3 347.4,573.8 348.1,574.4 348.7,573.7 349.4,574.1 350.0,572.3 350.7,574.1 351.3,574.4 351.9,573.1 352.6,572.3 353.2,572.0 353.9,573.6 354.5,573.1 355.2,571.0 355.8,572.0 356.4,573.5 357.1,572.6 357.7,573.3 358.4,570.9 359.0,572.4 359.7,572.1 360.3,570.7 361.0,571.0 361.6,570.6 362.2,570.3 362.9,570.9"/>
<polyline stroke="#9467bd" points="94.7,666.2 95.3,669.3 96.0,658.9 96.6,650.6 97.3,655.0 97.9,651.2 98.6,644.8 99.2,639.8 99.8,634.3 100.5,607.8 101.1,616.6 101.8,627.5 102.4,634.0 103.0,626.0 103.7,638.0 104.3,643.1 105.0,647.1 105.6,632.1 106.3,628.8 106.9,623.5 107.5,627.1 108.2,618.2 108.8,603.9 109.5,595.8 110.1,611.2 110.7,623.3 111.4,632.2 112.0,620.2 112.7,621.8 113.3,627.9 114.0,625.5 114.6,621.5 115.2,616.4 115.9,604.5 116.5,588.4 117.2,589.7 117.8,595.8 118.5,595.9 119.1,608.3 119.7,614.9 120.4,612.9 121.0,615.2 121.7,624.0 122.3,609.8 122.9,625.4 123.6,628.7 124.2,626.3 124.9,613.5 125.5,621.4 126.2,607.6 126.8,602.2 127.4,599.0 128.1,601.2 128.7,593.8 129.4,605.4 130.0,595.5 130.6,597.8 131.3,582.6 131.9,590.8 132.6,597.5 133.2,601.0 133.9,597.9 134.5,602.9 135.1,602.6 135.8,604.0 136.4,598.2 137.1,614.0 137.7,611.6 138.4,586.1 139.0,583.3 139.6,596.6 140.3,598.0 140.9,597.4 141.6,589.4 142.2,588.6 142.8,594.9 143.5,582.2 144.1,582.1 144.8,586.9 145.4,579.8 146.1,572.0 146.7,568.8 147.3,563.4 148.0,564.9 148.6,558.1 149.3,556.0 149.9,559.0 150.5,554.5 151.2,562.2 151.8,559.5 152.5,556.5 153.1,566.9 153.8,565.6 154.4,561.3 155.0,567.5 155.7,568.3 156.3,566.0 157.0,566.3 157.6,563.7 158.3,564.3 158.9,563.0 159.5,568.3 160.2,569.2 160.8,567.6 161.5,568.4 162.1,567.6 162.7,564.2 163.4,563.2 164.0,560.5 164.7,561.8 165.3,561.0 166.0,562.5 166.6,560.8 167.2,561.4 167.9,563.2 168.5,566.7 169.2,559.7 169.8,564.1 170.4,559.9 171.1,562.9 171.7,560.4 172.4,561.9 173.0,558.6 173.7,562.5 174.3,559.4 174.9,564.1 175.6,568.2 176.2,566.8 176.9,570.6 177.5,567.9 178.2,570.2 178.8,578.1 179.4,583.8 180.1,592.7 180.7,584.4 181.4,581.1 182.0,572.4 182.6,570.0 183.3,571.8 183.9,569.0 184.6,564.8 185.2,570.6 185.9,567.6 186.5,571.4 187.1,575.7 187.8,571.1 188.4,575.1 189.1,570.4 189.7,571.5 190.3,570.1 191.0,566.5 191.6,564.2 192.3,568.3 192.9,565.3 193.6,563.2 194.2,566.4 194.8,565.7 195.5,567.1 196.1,566.2 196.8,563.8 197.4,562.1 198.1,569.8 198.7,565.7 199.3,570.6 200.0,567.7 200.6,563.9 201.3,564.5 201.9,564.7 202.5,567.8 203.2,567.9 203.8,566.3 204.5,571.2 205.1,571.7 205.8,565.1 206.4,565.3 207.0,572.5 207.7,576.3 208.3,567.3 209.0,567.5 209.6,565.5 210.2,566.9 210.9,563.7 211.5,564.9 212.2,573.6 212.8,572.0 213.5,572.9 214.1,571.6 214.7,571.4 215.4,572.2 216.0,573.1 216.7,578.7 217.3,576.8 218.0,587.4 218.6,600.9 219.2,617.3 219.9,617.1 220.5,602.7 221.2,596.7 221.8,590.6 222.4,589.1 223.1,590.4 223.7,591.6 224.4,584.7 225.0,579.1 225.7,581.6 226.3,589.3 226.9,582.5 227.6,581.0 228.2,587.6 228.9,584.6 229.5,590.4 230.1,583.4 230.8,583.6 231.4,575.5 232.1,577.3 232.7,575.3 233.4,573.1 234.0,570.4 234.6,561.4 235.3,562.0 235.9,561.2 236.6,562.5 237.2,566.9 237.9,567.5 238.5,564.6 239.1,559.7 239.8,566.5 240.4,561.5 241.1,569.8 241.7,572.3 242.3,564.6 243.0,561.7 243.6,564.5 244.3,566.8 244.9,565.3 245.6,567.4 246.2,570.4 246.8,571.6 247.5,576.4 248.1,567.1 248.8,565.4 249.4,564.8 250.0,567.6 250.7,564.1 251.3,565.2 252.0,562.8 252.6,571.9 253.3,569.9 253.9,569.1 254.5,568.9 255.2,566.1 255.8,564.0 256.5,571.7 257.1,568.8 257.8,568.9 258.4,562.3 259.0,558.0 259.7,565.1 260.3,563.9 261.0,561.0 261.6,563.9 262.2,559.2 262.9,560.9 263.5,562.9 264.2,560.7 264.8,560.2 265.5,564.4 266.1,562.3 266.7,561.1 267.4,555.5 268.0,557.5 268.7,555.0 269.3,557.7 269.9,564.0 270.6,561.7 271.2,567.9 271.9,563.4 272.5,565.9 273.2,558.3 273.8,561.3 274.4,562.9 275.1,560.9 275.7,561.0 276.4,562.2 277.0,560.8 277.7,570.9 278.3,578.2 278.9,581.0 279.6,601.3 280.2,618.7 280.9,607.4 281.5,609.8 282.1,606.2 282.8,605.2 283.4,592.2 284.1,597.0 284.7,588.7 285.4,586.0 286.0,601.8 286.6,586.5 287.3,582.2 287.9,590.4 288.6,589.0 289.2,592.3 289.8,581.3 290.5,586.7 291.1,584.8 291.8,590.3 292.4,591.8 293.1,585.7 293.7,585.7 294.3,580.8 295.0,573.0 295.6,581.1 296.3,575.9 296.9,577.0 297.6,580.0 298.2,584.8 298.8,586.4 299.5,581.5 300.1,592.3 300.8,591.9 301.4,595.9 302.0,597.1 302.7,606.5 303.3,600.1 304.0,599.8 304.6,596.6 305.3,601.3 305.9,592.8 306.5,591.6 307.2,583.9 307.8,579.3 308.5,592.4 309.1,587.3 309.7,583.1 310.4,583.4 311.0,583.1 311.7,583.4 312.3,586.1 313.0,579.8 313.6,578.1 314.2,573.9 314.9,573.5 315.5,567.5 316.2,565.1 316.8,563.4 317.5,565.8 318.1,566.1 318.7,558.9 319.4,560.5 320.0,563.2 320.7,559.7 321.3,555.8 321.9,561.8 322.6,568.0 323.2,557.4 323.9,559.3 324.5,560.5 325.2,558.5 325.8,559.0 326.4,558.0 327.1,557.1 327.7,556.8 328.4,555.2 329.0,558.4 329.6,555.7 330.3,551.7 330.9,552.9 331.6,559.0 332.2,555.2 332.9,554.5 333.5,551.3 334.1,551.9 334.8,558.0 335.4,551.6 336.1,554.8 336.7,559.0 337.4,556.6 338.0,561.9 338.6,551.6 339.3,550.1 339.9,548.3 340.6,555.6 341.2,553.0 341.8,554.1 342.5,555.0 343.1,553.4 343.8,558.6 344.4,554.4 345.1,555.8 345.7,555.6 346.3,551.6 347.0,556.8 347.6,558.9 348.3,553.6 348.9,552.9 349.5,555.6 350.2,551.9 350.8,558.1 351.5,558.0 352.1,555.7 352.8,561.8 353.4,560.3 354.0,560.0 354.7,561.9 355.3,560.4"/>
</g>
<g stroke="#000" stroke-width="1.15" fill="none">
<rect x="94.7" y="382.3" width="269.8" height="291.0"/>
<path stroke-width="0.9" d="M148.7,673.3v-5.4M148.7,382.3v5.4M202.6,673.3v-5.4M202.6,382.3v5.4M256.6,673.3v-5.4M256.6,382.3v5.4M310.5,673.3v-5.4M310.5,382.3v5.4M94.7,615.1h5.4M364.5,615.1h-5.4M94.7,556.9h5.4M364.5,556.9h-5.4M94.7,498.7h5.4M364.5,498.7h-5.4M94.7,440.5h5.4M364.5,440.5h-5.4"/>
</g>
<clipPath id="c11"><rect x="418.6" y="382.3" width="269.8" height="291.0"/></clipPath>
<g clip-path="url(#c11)" fill="none" stroke-width="2.7" stroke-linejoin="round" stroke-linecap="butt">
<polyline stroke="#ff7f0e" points="418.6,654.5 419.0,655.4 419.5,652.1 419.9,649.6 420.3,653.2 420.8,650.0 421.2,650.0 421.6,645.7 422.1,645.7 422.5,643.9 422.9,644.2 423.4,644.1 423.8,640.9 424.3,638.5 424.7,638.1 425.1,638.3 425.6,634.8 426.0,631.6 426.4,630.7 426.9,628.7 427.3,628.9 427.7,629.2 428.2,622.7 428.6,625.2 429.0,623.0 429.5,625.9 429.9,621.4 430.3,616.5 430.8,615.1 431.2,618.7 431.6,614.6 432.1,616.3 432.5,612.3 432.9,617.2 433.4,607.5 433.8,611.3 434.3,609.7 434.7,610.1 435.1,612.7 435.6,610.3 436.0,609.3 436.4,610.0 436.9,609.7 437.3,604.7 437.7,606.9 438.2,606.0 438.6,605.2 439.0,606.2 439.5,607.8 439.9,610.8 440.3,604.1 440.8,603.0 441.2,604.5 441.6,601.4 442.1,606.2 442.5,607.8 443.0,601.8 443.4,597.9 443.8,607.5 444.3,595.6 444.7,601.2 445.1,603.6 445.6,599.5 446.0,597.9 446.4,601.3 446.9,598.8 447.3,597.9 447.7,599.4 448.2,594.4 448.6,601.0 449.0,595.1 449.5,601.2 449.9,598.5 450.3,595.7 450.8,598.2 451.2,598.7 451.6,600.3 452.1,599.2 452.5,595.3 453.0,586.5 453.4,602.8 453.8,591.0 454.3,590.6 454.7,591.4 455.1,595.2 455.6,599.7 456.0,589.1 456.4,594.1 456.9,587.3 457.3,587.0 457.7,590.4 458.2,593.0 458.6,591.2 459.0,589.7 459.5,592.9 459.9,580.3 460.3,589.3 460.8,582.8 461.2,591.9 461.6,594.6 462.1,594.8 462.5,587.7 463.0,581.6 463.4,589.9 463.8,590.0 464.3,589.4 464.7,583.1 465.1,585.6 465.6,589.0 466.0,584.6 466.4,590.8 466.9,592.5 467.3,582.6 467.7,576.5 468.2,579.2 468.6,585.7 469.0,586.2 469.5,582.1 469.9,578.0 470.3,578.0 470.8,579.8 471.2,585.1 471.6,585.6 472.1,580.4 472.5,575.0 473.0,583.8 473.4,589.8 473.8,571.6 474.3,576.0 474.7,586.8 475.1,571.1 475.6,576.7 476.0,576.2 476.4,580.4 476.9,573.6 477.3,580.9 477.7,576.7 478.2,570.0 478.6,577.8 479.0,578.3 479.5,576.7 479.9,574.4 480.3,567.7 480.8,573.3 481.2,571.8 481.6,577.1 482.1,578.7 482.5,574.6 483.0,571.4 483.4,572.0 483.8,576.6 484.3,579.3 484.7,577.2 485.1,575.7 485.6,566.5 486.0,572.3 486.4,564.5 486.9,569.0 487.3,563.1 487.7,574.8 488.2,566.2 488.6,566.7 489.0,574.1 489.5,563.9 489.9,563.5 490.3,565.1 490.8,568.5 491.2,564.3 491.7,562.5 492.1,564.2 492.5,555.6 493.0,564.0 493.4,567.3 493.8,562.6 494.3,552.8 494.7,561.1 495.1,562.5 495.6,567.4 496.0,563.8 496.4,565.5 496.9,555.3 497.3,560.1 497.7,566.6 498.2,563.7 498.6,568.5 499.0,564.6 499.5,562.6 499.9,567.6 500.3,564.1 500.8,571.7 501.2,565.3 501.7,575.5 502.1,571.1 502.5,573.9 503.0,581.9 503.4,583.0 503.8,583.5 504.3,583.6 504.7,578.2 505.1,586.0 505.6,587.8 506.0,593.1 506.4,590.3 506.9,596.0 507.3,589.4 507.7,587.2 508.2,588.6 508.6,590.4 509.0,588.1 509.5,586.3 509.9,591.3 510.3,588.6 510.8,587.9 511.2,591.3 511.7,591.0 512.1,591.8 512.5,589.8 513.0,594.9 513.4,591.7 513.8,599.4 514.3,595.7 514.7,598.5 515.1,594.4 515.6,592.1 516.0,599.1 516.4,603.4 516.9,593.9 517.3,598.3 517.7,598.1 518.2,600.2 518.6,601.0 519.0,596.2 519.5,595.0 519.9,594.8 520.3,599.5 520.8,605.2 521.2,606.3 521.7,593.6 522.1,603.9 522.5,600.2 523.0,594.2 523.4,603.3 523.8,600.1 524.3,605.1 524.7,601.0 525.1,597.7 525.6,599.0 526.0,599.0 526.4,611.8 526.9,598.6 527.3,597.5 527.7,603.6 528.2,597.0 528.6,605.0 529.0,597.5 529.5,595.9 529.9,602.3 530.3,589.3 530.8,591.6 531.2,591.2 531.7,593.8 532.1,595.1 532.5,597.8 533.0,591.1 533.4,594.2 533.8,589.7 534.3,590.1 534.7,589.7 535.1,594.2 535.6,590.8 536.0,594.0 536.4,584.7 536.9,593.8 537.3,596.8 537.7,598.0 538.2,594.6 538.6,589.6 539.0,597.9 539.5,584.5 539.9,590.4 540.4,591.8 540.8,590.0 541.2,597.1 541.7,596.3 542.1,596.6 542.5,584.5 543.0,588.0 543.4,586.4 543.8,583.7 544.3,589.9 544.7,585.6 545.1,587.5 545.6,581.7 546.0,587.4 546.4,573.5 546.9,587.2 547.3,584.9 547.7,591.1 548.2,589.2 548.6,577.3 549.0,584.6 549.5,571.8 549.9,582.1 550.4,575.1 550.8,580.9 551.2,578.5 551.7,565.4 552.1,576.5 552.5,575.1 553.0,570.8 553.4,576.7 553.8,564.3 554.3,564.8 554.7,574.3 555.1,564.5 555.6,563.5 556.0,562.9 556.4,565.5 556.9,554.1 557.3,565.2 557.7,566.9 558.2,561.8 558.6,559.4 559.0,568.0 559.5,567.4 559.9,560.1 560.4,558.4 560.8,585.4 561.2,566.1 561.7,571.4 562.1,566.0 562.5,563.4 563.0,559.3 563.4,565.7 563.8,563.0 564.3,559.1 564.7,562.5 565.1,561.7 565.6,560.3 566.0,560.7 566.4,551.2 566.9,556.7 567.3,567.0 567.7,561.0 568.2,563.3 568.6,562.9 569.0,569.5 569.5,556.8 569.9,556.0 570.4,558.3 570.8,563.0 571.2,559.7 571.7,558.4 572.1,552.5 572.5,543.2 573.0,544.5 573.4,557.4 573.8,546.0 574.3,557.4 574.7,550.8 575.1,546.8 575.6,545.9 576.0,537.3 576.4,541.5 576.9,532.8 577.3,557.0 577.7,541.8 578.2,547.1 578.6,552.1 579.0,554.1 579.5,549.6 579.9,541.4 580.4,538.6 580.8,541.7 581.2,549.2 581.7,539.6 582.1,545.6 582.5,545.3 583.0,551.4 583.4,553.7 583.8,544.1 584.3,541.8 584.7,521.9 585.1,533.5 585.6,538.0 586.0,537.1 586.4,543.2 586.9,535.9 587.3,524.8 587.7,540.1 588.2,535.0 588.6,536.7 589.1,530.9 589.5,507.1 589.9,529.0 590.4,523.9 590.8,538.9 591.2,534.5 591.7,530.5 592.1,517.5 592.5,523.6 593.0,525.7 593.4,523.2 593.8,527.6 594.3,524.2 594.7,513.2 595.1,517.8 595.6,511.5 596.0,522.3 596.4,511.3 596.9,536.9 597.3,504.0 597.7,513.3 598.2,509.5 598.6,511.2 599.1,530.0 599.5,509.0 599.9,506.8 600.4,502.6 600.8,506.7 601.2,506.0 601.7,503.7 602.1,492.1 602.5,514.0 603.0,502.0 603.4,496.3 603.8,493.5 604.3,497.3 604.7,497.0 605.1,512.3 605.6,491.9 606.0,505.1 606.4,486.4 606.9,497.0 607.3,489.6 607.7,500.5 608.2,500.0 608.6,502.4 609.1,492.8 609.5,494.5 609.9,505.7 610.4,503.1 610.8,507.5 611.2,500.4 611.7,492.5 612.1,511.1 612.5,488.9 613.0,483.8 613.4,481.3 613.8,502.0 614.3,487.1 614.7,493.1 615.1,471.5 615.6,482.9 616.0,492.6 616.4,496.1 616.9,464.2 617.3,491.2 617.7,489.6 618.2,479.0 618.6,478.6 619.1,458.6 619.5,485.9 619.9,483.3 620.4,485.4 620.8,479.1 621.2,490.8 621.7,475.5 622.1,469.7 622.5,472.9 623.0,450.8 623.4,490.7 623.8,485.0 624.3,473.9 624.7,462.8 625.1,444.0 625.6,472.1 626.0,470.9 626.4,462.6 626.9,479.3 627.3,474.3 627.8,483.8 628.2,492.4 628.6,466.7 629.1,462.8 629.5,463.8 629.9,485.8 630.4,473.8 630.8,462.1 631.2,468.0 631.7,468.7 632.1,463.7 632.5,479.1 633.0,467.2 633.4,454.9 633.8,469.0 634.3,447.5 634.7,451.4 635.1,461.3 635.6,459.9 636.0,459.4 636.4,435.3 636.9,447.2 637.3,452.9 637.8,463.6 638.2,440.3 638.6,469.3 639.1,473.2 639.5,457.9 639.9,443.9 640.4,418.8 640.8,469.6 641.2,458.0 641.7,449.3 642.1,457.6 642.5,461.7 643.0,462.8 643.4,437.9 643.8,447.7 644.3,436.7 644.7,454.2 645.1,455.2 645.6,436.0 646.0,448.9 646.4,450.6 646.9,437.7 647.3,427.2 647.8,440.1 648.2,440.3 648.6,433.4 649.1,420.2 649.5,461.7 649.9,442.6 650.4,440.8 650.8,425.6 651.2,437.7 651.7,434.3 652.1,432.9 652.5,431.3 653.0,453.7 653.4,426.8 653.8,424.9 654.3,453.2 654.7,448.4 655.1,444.3 655.6,452.9 656.0,427.4 656.4,426.8 656.9,435.8 657.3,438.7 657.8,454.0 658.2,415.5 658.6,412.8 659.1,424.2 659.5,420.0 659.9,438.4 660.4,440.5 660.8,399.5 661.2,415.1 661.7,446.1 662.1,422.5 662.5,417.9 663.0,431.6 663.4,421.2 663.8,417.1 664.3,407.7 664.7,419.4 665.1,418.3 665.6,396.7 666.0,428.9 666.4,416.6 666.9,428.6 667.3,436.8 667.8,420.3 668.2,426.2 668.6,430.8 669.1,421.8 669.5,430.9 669.9,409.0 670.4,429.7 670.8,406.7 671.2,406.1 671.7,418.5 672.1,415.1 672.5,413.1 673.0,410.0 673.4,417.2 673.8,391.2 674.3,413.9 674.7,415.6 675.1,411.4 675.6,396.6 676.0,433.7 676.5,403.7 676.9,425.5 677.3,435.0 677.8,394.5 678.2,400.4 678.6,405.2 679.1,394.5 679.5,376.8 679.9,385.1 680.4,385.5 680.8,383.3 681.2,401.3 681.7,397.5 682.1,388.7 682.5,380.2 683.0,376.7 683.4,379.3 683.8,398.5 684.3,399.1 684.7,399.8 685.1,385.0 685.6,388.2 686.0,378.0 686.5,377.9 686.9,393.2 687.3,383.9"/>
<polyline stroke="#1f77b4" points="418.6,658.2 419.0,656.0 419.5,655.8 419.9,652.2 420.3,650.9 420.8,648.6 421.2,650.2 421.6,647.2 422.1,645.6 422.5,644.6 422.9,641.6 423.4,640.8 423.8,640.3 424.3,640.1 424.7,640.3 425.1,636.9 425.6,635.1 426.0,634.5 426.4,632.1 426.9,630.9 427.3,629.7 427.7,628.9 428.2,629.3 428.6,628.5 429.0,626.3 429.5,622.9 429.9,621.5 430.3,625.3 430.8,623.2 431.2,622.9 431.6,625.4 432.1,615.6 432.5,617.2 432.9,617.1 433.4,612.7 433.8,613.2 434.3,615.7 434.7,613.9 435.1,609.3 435.6,615.9 436.0,614.2 436.4,612.6 436.9,612.3 437.3,610.0 437.7,607.4 438.2,608.9 438.6,613.1 439.0,610.3 439.5,610.7 439.9,612.1 440.3,611.7 440.8,606.5 441.2,602.1 441.6,609.2 442.1,602.4 442.5,601.1 443.0,605.5 443.4,605.7 443.8,604.2 444.3,603.7 444.7,605.4 445.1,600.3 445.6,606.3 446.0,598.3 446.4,603.6 446.9,596.0 447.3,600.2 447.7,600.2 448.2,600.5 448.6,600.9 449.0,604.9 449.5,600.9 449.9,603.8 450.3,599.9 450.8,602.6 451.2,600.3 451.6,606.8 452.1,599.8 452.5,595.9 453.0,600.9 453.4,607.1 453.8,603.3 454.3,601.8 454.7,601.5 455.1,607.3 455.6,594.5 456.0,602.2 456.4,600.6 456.9,602.3 457.3,597.1 457.7,602.4 458.2,601.8 458.6,601.3 459.0,595.1 459.5,603.0 459.9,596.3 460.3,598.5 460.8,598.8 461.2,596.2 461.6,592.9 462.1,596.4 462.5,596.4 463.0,594.2 463.4,599.8 463.8,589.1 464.3,584.6 464.7,594.6 465.1,595.8 465.6,597.8 466.0,592.9 466.4,597.8 466.9,598.7 467.3,596.2 467.7,597.2 468.2,591.1 468.6,592.0 469.0,593.3 469.5,588.4 469.9,584.6 470.3,592.0 470.8,587.0 471.2,596.4 471.6,582.9 472.1,586.1 472.5,591.4 473.0,590.3 473.4,594.8 473.8,588.7 474.3,585.8 474.7,590.1 475.1,602.4 475.6,589.7 476.0,585.8 476.4,593.1 476.9,587.9 477.3,592.3 477.7,592.8 478.2,585.3 478.6,590.5 479.0,584.5 479.5,588.5 479.9,591.8 480.3,592.4 480.8,595.5 481.2,587.9 481.6,591.7 482.1,589.7 482.5,582.4 483.0,585.1 483.4,584.8 483.8,579.5 484.3,584.0 484.7,584.0 485.1,586.5 485.6,582.5 486.0,589.1 486.4,582.3 486.9,586.1 487.3,590.9 487.7,589.6 488.2,583.0 488.6,582.2 489.0,578.0 489.5,588.5 489.9,581.0 490.3,591.8 490.8,584.4 491.2,587.7 491.7,582.1 492.1,588.7 492.5,580.4 493.0,586.9 493.4,590.4 493.8,592.6 494.3,586.4 494.7,589.6 495.1,579.8 495.6,589.1 496.0,587.3 496.4,578.7 496.9,588.0 497.3,590.1 497.7,589.2 498.2,587.6 498.6,580.6 499.0,586.1 499.5,583.7 499.9,586.6 500.3,587.8 500.8,588.4 501.2,586.8 501.7,576.9 502.1,584.7 502.5,589.0 503.0,587.0 503.4,588.1 503.8,588.7 504.3,586.2 504.7,579.9 505.1,581.2 505.6,589.2 506.0,584.7 506.4,579.3 506.9,582.1 507.3,580.0 507.7,584.9 508.2,582.9 508.6,582.6 509.0,582.5 509.5,584.3 509.9,581.1 510.3,592.8 510.8,588.8 511.2,581.8 511.7,590.5 512.1,581.3 512.5,586.9 513.0,570.3 513.4,571.7 513.8,576.8 514.3,576.3 514.7,583.2 515.1,590.6 515.6,585.1 516.0,587.6 516.4,579.2 516.9,582.5 517.3,582.4 517.7,582.0 518.2,589.4 518.6,588.7 519.0,586.5 519.5,582.4 519.9,587.8 520.3,580.0 520.8,587.6 521.2,588.4 521.7,581.5 522.1,587.0 522.5,582.1 523.0,586.6 523.4,588.4 523.8,575.9 524.3,581.5 524.7,583.9 525.1,581.7 525.6,579.7 526.0,579.9 526.4,580.5 526.9,579.6 527.3,576.6 527.7,583.5 528.2,574.9 528.6,583.7 529.0,585.4 529.5,586.4 529.9,589.6 530.3,579.3 530.8,576.4 531.2,578.9 531.7,581.3 532.1,577.9 532.5,579.6 533.0,578.3 533.4,581.6 533.8,581.0 534.3,579.7 534.7,571.7 535.1,577.3 535.6,570.3 536.0,584.3 536.4,578.0 536.9,574.6 537.3,578.8 537.7,575.9 538.2,582.1 538.6,582.0 539.0,581.9 539.5,575.8 539.9,577.1 540.4,581.1 540.8,577.2 541.2,583.4 541.7,588.0 542.1,577.3 542.5,579.5 543.0,580.5 543.4,577.3 543.8,581.8 544.3,576.7 544.7,574.7 545.1,575.1 545.6,583.8 546.0,578.2 546.4,580.5 546.9,576.6 547.3,582.2 547.7,572.9 548.2,577.1 548.6,572.1 549.0,577.9 549.5,574.4 549.9,579.6 550.4,571.5 550.8,574.5 551.2,578.8 551.7,573.1 552.1,575.0 552.5,575.2 553.0,575.3 553.4,580.4 553.8,573.3 554.3,578.1 554.7,580.7 555.1,578.0 555.6,574.0 556.0,581.9 556.4,575.0 556.9,584.0 557.3,578.4 557.7,576.4 558.2,577.2 558.6,590.3 559.0,577.4 559.5,575.3 559.9,575.2 560.4,586.5 560.8,577.4 561.2,573.0 561.7,572.0 562.1,574.4 562.5,573.5 563.0,574.8 563.4,574.4 563.8,576.4 564.3,572.1 564.7,573.9 565.1,578.8 565.6,577.3 566.0,572.5 566.4,574.4 566.9,576.9 567.3,577.3 567.7,575.8 568.2,583.0 568.6,575.4 569.0,577.9 569.5,577.9 569.9,578.0 570.4,576.9 570.8,584.1 571.2,579.5 571.7,573.3 572.1,576.1 572.5,574.0 573.0,579.3 573.4,572.9 573.8,579.1 574.3,581.3 574.7,579.0 575.1,577.8 575.6,584.9 576.0,571.4 576.4,570.8 576.9,577.4 577.3,574.8 577.7,578.3 578.2,575.6 578.6,577.3 579.0,583.3 579.5,582.5 579.9,574.0 580.4,576.7 580.8,577.4 581.2,579.4 581.7,581.6 582.1,575.8 582.5,582.8 583.0,573.5 583.4,580.1 583.8,581.9 584.3,576.0 584.7,575.8 585.1,576.5 585.6,577.9 586.0,572.7 586.4,574.6 586.9,577.3 587.3,575.2 587.7,575.0 588.2,573.8 588.6,577.8 589.1,571.1 589.5,580.4 589.9,581.7 590.4,581.1 590.8,582.8 591.2,582.6 591.7,580.0 592.1,585.0 592.5,581.1 593.0,577.0 593.4,569.1 593.8,578.0 594.3,576.6 594.7,579.1 595.1,578.9 595.6,570.1 596.0,574.1 596.4,578.7 596.9,580.7 597.3,578.5 597.7,576.3 598.2,579.1 598.6,575.7 599.1,574.6 599.5,581.8 599.9,576.9 600.4,574.4 600.8,580.7 601.2,581.2 601.7,585.2 602.1,582.7 602.5,579.4 603.0,582.4 603.4,576.9 603.8,582.0 604.3,583.0 604.7,586.8 605.1,581.1 605.6,575.3 606.0,583.5 606.4,583.9 606.9,588.1 607.3,586.3 607.7,585.2 608.2,585.7 608.6,578.9 609.1,585.0 609.5,579.2 609.9,586.5 610.4,581.0 610.8,584.9 611.2,580.5 611.7,584.2 612.1,580.8 612.5,579.2 613.0,583.4 613.4,578.8 613.8,580.0 614.3,583.5 614.7,587.9 615.1,582.0 615.6,586.7 616.0,579.0 616.4,581.9 616.9,588.4 617.3,587.7 617.7,585.1 618.2,586.7 618.6,580.3 619.1,583.8 619.5,588.1 619.9,583.3 620.4,592.2 620.8,588.9 621.2,584.2 621.7,583.8 622.1,581.4 622.5,585.2 623.0,582.9 623.4,586.4 623.8,582.9 624.3,586.4 624.7,584.0 625.1,587.8 625.6,585.6 626.0,589.6 626.4,583.4 626.9,581.6 627.3,581.1 627.8,580.5 628.2,587.0 628.6,582.6 629.1,580.8 629.5,579.2 629.9,581.0 630.4,581.3 630.8,577.9 631.2,586.1 631.7,580.4 632.1,585.7 632.5,585.1 633.0,579.9 633.4,582.1 633.8,581.0 634.3,577.5 634.7,580.7 635.1,576.4 635.6,580.5 636.0,583.5 636.4,581.8 636.9,581.0 637.3,586.4 637.8,580.2 638.2,580.2 638.6,582.5 639.1,583.8 639.5,581.3 639.9,581.4 640.4,581.6 640.8,587.1 641.2,581.5 641.7,574.6 642.1,583.5 642.5,577.4 643.0,582.3 643.4,579.6 643.8,585.8 644.3,579.9 644.7,574.3 645.1,582.9 645.6,583.7 646.0,587.3 646.4,581.9 646.9,584.2 647.3,580.7 647.8,582.1 648.2,578.9 648.6,581.5 649.1,586.8 649.5,577.6 649.9,586.4 650.4,581.7 650.8,576.1 651.2,576.9 651.7,580.4 652.1,581.3 652.5,577.5 653.0,584.2 653.4,588.8 653.8,581.5 654.3,580.0 654.7,577.4 655.1,578.1 655.6,576.3 656.0,578.3 656.4,589.9 656.9,577.6 657.3,580.9 657.8,577.7 658.2,580.7 658.6,586.5 659.1,580.6 659.5,579.4 659.9,581.6 660.4,580.1 660.8,579.9 661.2,584.4 661.7,582.5 662.1,582.3 662.5,576.3 663.0,582.1 663.4,582.9 663.8,584.8 664.3,583.6 664.7,578.3 665.1,579.2 665.6,577.9 666.0,580.6 666.4,579.9 666.9,584.9 667.3,586.3 667.8,591.0 668.2,581.9 668.6,583.0 669.1,577.5 669.5,581.3 669.9,578.1 670.4,582.5 670.8,581.8 671.2,580.2 671.7,589.4 672.1,581.6 672.5,582.4 673.0,580.8 673.4,584.4 673.8,589.4 674.3,587.1 674.7,577.9 675.1,584.5 675.6,585.0 676.0,581.5 676.5,584.8 676.9,585.4 677.3,583.7 677.8,582.8 678.2,582.8 678.6,579.3 679.1,580.7 679.5,590.8 679.9,583.2 680.4,580.6 680.8,580.7 681.2,592.0 681.7,582.5 682.1,587.7 682.5,588.7 683.0,585.2 683.4,593.6 683.8,582.6 684.3,577.7 684.7,578.4 685.1,579.2 685.6,582.3 686.0,581.7 686.5,578.7 686.9,582.1 687.3,579.6"/>
<polyline stroke="#17becf" points="418.6,656.9 419.0,655.7 419.5,655.7 419.9,656.2 420.3,655.0 420.8,654.7 421.2,654.6 421.6,654.8 422.1,652.9 422.5,653.5 422.9,653.2 423.4,653.4 423.8,652.2 424.3,652.9 424.7,652.1 425.1,650.4 425.6,650.4 426.0,652.3 426.4,651.8 426.9,649.9 427.3,648.9 427.7,649.1 428.2,648.9 428.6,647.4 429.0,649.3 429.5,648.6 429.9,645.8 430.3,646.1 430.8,645.0 431.2,644.9 431.6,645.1 432.1,645.0 432.5,643.9 432.9,641.8 433.4,639.4 433.8,643.0 434.3,641.0 434.7,642.6 435.1,638.6 435.6,637.4 436.0,639.8 436.4,638.2 436.9,638.9 437.3,636.7 437.7,636.7 438.2,636.3 438.6,635.0 439.0,637.8 439.5,631.9 439.9,635.9 440.3,634.2 440.8,636.6 441.2,634.5 441.6,633.5 442.1,631.2 442.5,633.6 443.0,633.2 443.4,633.1 443.8,631.5 444.3,632.2 444.7,632.8 445.1,633.1 445.6,630.2 446.0,631.6 446.4,631.4 446.9,630.3 447.3,631.5 447.7,629.7 448.2,630.7 448.6,629.7 449.0,629.2 449.5,629.9 449.9,627.2 450.3,629.6 450.8,627.7 451.2,627.8 451.6,628.0 452.1,627.6 452.5,626.3 453.0,627.6 453.4,629.6 453.8,627.9 454.3,628.3 454.7,626.4 455.1,626.7 455.6,625.8 456.0,621.2 456.4,621.2 456.9,622.0 457.3,621.4 457.7,621.3 458.2,619.2 458.6,622.9 459.0,617.8 459.5,614.0 459.9,616.7 460.3,609.9 460.8,609.4 461.2,612.0 461.6,606.5 462.1,609.5 462.5,609.9 463.0,608.3 463.4,607.1 463.8,608.5 464.3,612.2 464.7,607.8 465.1,608.8 465.6,608.7 466.0,604.7 466.4,612.2 466.9,601.8 467.3,601.9 467.7,605.8 468.2,606.1 468.6,600.4 469.0,607.9 469.5,609.0 469.9,611.9 470.3,602.7 470.8,604.4 471.2,604.6 471.6,599.3 472.1,601.7 472.5,604.6 473.0,602.2 473.4,602.2 473.8,599.4 474.3,602.0 474.7,603.0 475.1,598.7 475.6,601.1 476.0,605.1 476.4,596.0 476.9,601.7 477.3,601.0 477.7,603.6 478.2,600.9 478.6,603.4 479.0,604.4 479.5,601.3 479.9,602.2 480.3,597.1 480.8,609.9 481.2,599.9 481.6,600.5 482.1,599.1 482.5,598.6 483.0,598.6 483.4,602.6 483.8,601.5 484.3,601.8 484.7,600.7 485.1,603.9 485.6,599.8 486.0,601.9 486.4,597.4 486.9,595.9 487.3,595.6 487.7,599.1 488.2,603.5 488.6,603.2 489.0,597.2 489.5,597.6 489.9,591.2 490.3,596.0 490.8,589.5 491.2,601.9 491.7,603.4 492.1,595.5 492.5,599.6 493.0,601.4 493.4,595.9 493.8,599.2 494.3,594.2 494.7,601.3 495.1,599.1 495.6,595.9 496.0,599.3 496.4,598.6 496.9,596.1 497.3,594.3 497.7,597.6 498.2,593.8 498.6,594.7 499.0,601.2 499.5,601.2 499.9,600.5 500.3,592.1 500.8,596.2 501.2,597.2 501.7,592.5 502.1,595.7 502.5,596.5 503.0,600.2 503.4,594.1 503.8,594.6 504.3,593.0 504.7,598.4 505.1,592.5 505.6,596.5 506.0,593.6 506.4,597.6 506.9,594.0 507.3,592.5 507.7,599.1 508.2,595.5 508.6,597.4 509.0,593.7 509.5,594.8 509.9,598.3 510.3,592.9 510.8,592.1 511.2,599.2 511.7,591.8 512.1,596.4 512.5,593.7 513.0,595.6 513.4,597.8 513.8,593.7 514.3,595.8 514.7,594.5 515.1,594.2 515.6,595.0 516.0,594.9 516.4,598.4 516.9,595.7 517.3,597.2 517.7,595.1 518.2,596.9 518.6,598.6 519.0,598.6 519.5,591.7 519.9,590.8 520.3,593.6 520.8,594.3 521.2,591.3 521.7,597.7 522.1,593.2 522.5,590.6 523.0,595.6 523.4,594.6 523.8,593.4 524.3,595.1 524.7,595.3 525.1,596.0 525.6,595.5 526.0,593.0 526.4,591.7 526.9,590.6 527.3,591.6 527.7,594.0 528.2,596.7 528.6,594.5 529.0,592.2 529.5,590.0 529.9,594.6 530.3,589.4 530.8,587.5 531.2,592.0 531.7,596.2 532.1,593.4 532.5,593.2 533.0,592.7 533.4,594.2 533.8,590.1 534.3,594.8 534.7,591.5 535.1,592.6 535.6,590.2 536.0,592.1 536.4,589.5 536.9,587.2 537.3,586.0 537.7,589.4 538.2,589.0 538.6,589.3 539.0,594.5 539.5,589.6 539.9,584.8 540.4,586.6 540.8,591.6 541.2,585.8 541.7,586.4 542.1,595.0 542.5,589.2 543.0,588.0 543.4,589.9 543.8,596.8 544.3,590.4 544.7,589.0 545.1,587.0 545.6,591.3 546.0,587.4 546.4,592.5 546.9,596.3 547.3,591.7 547.7,591.2 548.2,586.7 548.6,585.4 549.0,584.2 549.5,589.6 549.9,588.9 550.4,587.8 550.8,590.0 551.2,589.9 551.7,588.0 552.1,591.1 552.5,585.9 553.0,589.6 553.4,587.8 553.8,587.0 554.3,590.0 554.7,591.5 555.1,585.7 555.6,586.2 556.0,587.8 556.4,591.6 556.9,589.7 557.3,587.1 557.7,589.2 558.2,596.1 558.6,590.0 559.0,590.6 559.5,587.0 559.9,586.9 560.4,591.9 560.8,584.2 561.2,587.7 561.7,591.3 562.1,589.8 562.5,588.3 563.0,586.6 563.4,586.5 563.8,590.8 564.3,587.0 564.7,587.7 565.1,585.6 565.6,589.7 566.0,587.1 566.4,588.7 566.9,587.2 567.3,591.3 567.7,585.1 568.2,587.2 568.6,585.9 569.0,588.0 569.5,584.6 569.9,583.8 570.4,590.2 570.8,588.7 571.2,590.7 571.7,588.7 572.1,587.7 572.5,592.1 573.0,585.4 573.4,585.0 573.8,589.2 574.3,586.8 574.7,585.2 575.1,586.2 575.6,588.3 576.0,586.1 576.4,589.1 576.9,586.8 577.3,586.7 577.7,588.7 578.2,592.7 578.6,591.2 579.0,585.3 579.5,592.8 579.9,593.3 580.4,590.0 580.8,589.8 581.2,593.1 581.7,582.6 582.1,586.6 582.5,585.1 583.0,587.1 583.4,592.8 583.8,592.1 584.3,586.8 584.7,585.7 585.1,585.5 585.6,589.4 586.0,586.4 586.4,588.8 586.9,585.7 587.3,587.2 587.7,593.8 588.2,586.8 588.6,581.7 589.1,582.5 589.5,588.1 589.9,590.3 590.4,587.6 590.8,589.1 591.2,590.8 591.7,584.7 592.1,586.9 592.5,590.2 593.0,589.2 593.4,589.3 593.8,587.8 594.3,589.1 594.7,586.3 595.1,584.9 595.6,588.5 596.0,587.6 596.4,587.8 596.9,590.5 597.3,585.5 597.7,586.8 598.2,591.7 598.6,589.3 599.1,591.7 599.5,588.5 599.9,586.6 600.4,591.7 600.8,584.8 601.2,587.6 601.7,589.3 602.1,585.7 602.5,586.8 603.0,592.0 603.4,584.0 603.8,593.0 604.3,586.7 604.7,585.7 605.1,590.3 605.6,589.9 606.0,587.9 606.4,587.2 606.9,587.7 607.3,588.3 607.7,587.9 608.2,587.8 608.6,591.4 609.1,591.0 609.5,588.8 609.9,589.1 610.4,586.2 610.8,589.8 611.2,586.0 611.7,590.3 612.1,589.9 612.5,588.6 613.0,584.5 613.4,582.7 613.8,588.2 614.3,588.1 614.7,589.4 615.1,587.2 615.6,584.5 616.0,584.6 616.4,592.2 616.9,585.1 617.3,583.5 617.7,588.6 618.2,589.2 618.6,590.1 619.1,585.1 619.5,591.8 619.9,588.7 620.4,584.9 620.8,589.6 621.2,590.8 621.7,591.4 622.1,588.3 622.5,588.7 623.0,588.3 623.4,585.9 623.8,587.8 624.3,589.2 624.7,588.2 625.1,587.0 625.6,587.0 626.0,588.1 626.4,588.6 626.9,587.8 627.3,588.9 627.8,587.4 628.2,585.6 628.6,583.9 629.1,590.8 629.5,586.2 629.9,590.1 630.4,588.5 630.8,588.4 631.2,590.7 631.7,584.5 632.1,581.6 632.5,587.0 633.0,585.9 633.4,587.8 633.8,586.7 634.3,590.5 634.7,587.6 635.1,581.3 635.6,587.5 636.0,587.4 636.4,589.4 636.9,586.0 637.3,588.0 637.8,583.1 638.2,588.3 638.6,589.0 639.1,590.5 639.5,592.1 639.9,590.2 640.4,591.1 640.8,584.9 641.2,583.5 641.7,589.5 642.1,589.0 642.5,585.9 643.0,588.8 643.4,590.1 643.8,584.9 644.3,591.5 644.7,588.0 645.1,584.8 645.6,590.1 646.0,590.4 646.4,587.8 646.9,588.5 647.3,582.5 647.8,586.2 648.2,586.4 648.6,587.1 649.1,588.0 649.5,592.6 649.9,587.2 650.4,588.7 650.8,585.6 651.2,586.2 651.7,584.7 652.1,585.1 652.5,591.8 653.0,588.4 653.4,589.8 653.8,592.2 654.3,586.9 654.7,589.2 655.1,585.5 655.6,586.1 656.0,584.8 656.4,589.1 656.9,586.4 657.3,585.9 657.8,589.8 658.2,586.3 658.6,589.1 659.1,587.7 659.5,588.1 659.9,587.5 660.4,584.6 660.8,591.0 661.2,592.1 661.7,589.6 662.1,591.0 662.5,589.0 663.0,583.0 663.4,580.8 663.8,587.9 664.3,587.0 664.7,583.7 665.1,585.1 665.6,588.8 666.0,587.2 666.4,584.1 666.9,586.4 667.3,586.3 667.8,586.7 668.2,587.6 668.6,581.7 669.1,588.4 669.5,586.7 669.9,585.6 670.4,588.5 670.8,589.8 671.2,587.9 671.7,588.2 672.1,587.0 672.5,587.5 673.0,586.2 673.4,588.6 673.8,588.1 674.3,588.4 674.7,586.7 675.1,588.7 675.6,589.1 676.0,588.3 676.5,584.1 676.9,582.4 677.3,584.8 677.8,583.3 678.2,586.3 678.6,589.8 679.1,592.0 679.5,584.5 679.9,585.5 680.4,587.7 680.8,586.3 681.2,589.6 681.7,584.0 682.1,587.7 682.5,586.8 683.0,583.5 683.4,584.1 683.8,585.3 684.3,593.9 684.7,582.7 685.1,584.5 685.6,584.9 686.0,588.3 686.5,582.5 686.9,583.1 687.3,584.5"/>
<polyline stroke="#9edae5" points="418.6,654.3 419.0,655.2 419.5,655.3 419.9,654.7 420.3,650.3 420.8,652.1 421.2,649.2 421.6,650.7 422.1,649.3 422.5,647.8 422.9,646.6 423.4,646.0 423.8,646.3 424.3,642.9 424.7,646.0 425.1,641.7 425.6,640.2 426.0,638.5 426.4,638.7 426.9,638.0 427.3,639.2 427.7,636.3 428.2,633.0 428.6,635.4 429.0,631.9 429.5,633.5 429.9,633.6 430.3,630.4 430.8,628.0 431.2,631.0 431.6,627.9 432.1,629.8 432.5,626.6 432.9,628.7 433.4,625.6 433.8,625.4 434.3,623.3 434.7,624.0 435.1,624.4 435.6,622.0 436.0,620.8 436.4,622.8 436.9,621.0 437.3,619.8 437.7,616.6 438.2,616.6 438.6,618.6 439.0,617.0 439.5,617.5 439.9,616.0 440.3,617.0 440.8,616.7 441.2,613.7 441.6,615.7 442.1,614.4 442.5,615.0 443.0,614.9 443.4,615.1 443.8,613.1 444.3,614.5 444.7,616.5 445.1,614.4 445.6,613.0 446.0,614.5 446.4,615.0 446.9,609.4 447.3,612.4 447.7,612.4 448.2,611.5 448.6,618.1 449.0,612.5 449.5,611.1 449.9,610.5 450.3,610.5 450.8,608.4 451.2,614.7 451.6,612.8 452.1,615.1 452.5,611.2 453.0,610.3 453.4,608.9 453.8,614.1 454.3,613.3 454.7,612.6 455.1,609.0 455.6,611.7 456.0,610.7 456.4,608.4 456.9,609.7 457.3,611.5 457.7,615.3 458.2,614.1 458.6,611.1 459.0,613.7 459.5,612.6 459.9,613.1 460.3,612.0 460.8,613.3 461.2,616.3 461.6,615.0 462.1,613.1 462.5,615.1 463.0,612.3 463.4,610.4 463.8,615.5 464.3,612.5 464.7,615.2 465.1,618.7 465.6,618.2 466.0,614.2 466.4,612.1 466.9,614.1 467.3,613.9 467.7,610.5 468.2,615.1 468.6,616.6 469.0,615.2 469.5,617.4 469.9,612.7 470.3,611.8 470.8,611.8 471.2,614.9 471.6,613.1 472.1,611.4 472.5,610.7 473.0,613.8 473.4,613.9 473.8,614.2 474.3,617.4 474.7,613.3 475.1,611.2 475.6,613.4 476.0,614.4 476.4,617.3 476.9,615.2 477.3,618.6 477.7,612.6 478.2,612.4 478.6,613.4 479.0,616.4 479.5,615.8 479.9,614.0 480.3,617.5 480.8,613.0 481.2,618.2 481.6,615.0 482.1,617.8 482.5,617.1 483.0,613.4 483.4,616.2 483.8,615.3 484.3,615.6 484.7,615.4 485.1,614.4 485.6,612.8 486.0,618.9 486.4,617.5 486.9,614.2 487.3,616.9 487.7,621.9 488.2,614.9 488.6,617.5 489.0,615.1 489.5,615.9 489.9,612.9 490.3,617.1 490.8,610.8 491.2,615.5 491.7,616.5 492.1,616.0 492.5,615.5 493.0,615.3 493.4,615.7 493.8,614.2 494.3,618.2 494.7,618.5 495.1,620.3 495.6,611.0 496.0,617.7 496.4,615.1 496.9,613.8 497.3,620.0 497.7,617.1 498.2,617.0 498.6,616.8 499.0,617.5 499.5,614.7 499.9,612.0 500.3,616.1 500.8,614.3 501.2,617.0 501.7,617.3 502.1,615.9 502.5,616.1 503.0,607.0 503.4,615.0 503.8,615.4 504.3,617.7 504.7,615.1 505.1,613.1 505.6,617.7 506.0,617.6 506.4,610.2 506.9,617.2 507.3,617.2 507.7,613.1 508.2,614.2 508.6,613.3 509.0,612.2 509.5,614.8 509.9,605.3 510.3,609.3 510.8,615.5 511.2,606.7 511.7,613.3 512.1,607.8 512.5,614.6 513.0,616.4 513.4,611.2 513.8,611.7 514.3,611.0 514.7,611.3 515.1,610.1 515.6,616.2 516.0,614.2 516.4,614.4 516.9,607.7 517.3,609.6 517.7,611.0 518.2,610.0 518.6,610.8 519.0,607.6 519.5,611.0 519.9,618.3 520.3,611.3 520.8,609.4 521.2,605.7 521.7,610.4 522.1,608.1 522.5,609.8 523.0,610.8 523.4,609.4 523.8,610.9 524.3,610.8 524.7,608.8 525.1,608.3 525.6,609.7 526.0,609.6 526.4,607.6 526.9,609.0 527.3,615.0 527.7,611.1 528.2,611.2 528.6,604.5 529.0,609.1 529.5,608.4 529.9,608.0 530.3,606.2 530.8,607.4 531.2,610.1 531.7,606.5 532.1,608.9 532.5,609.8 533.0,609.8 533.4,608.9 533.8,602.9 534.3,608.5 534.7,604.8 535.1,608.8 535.6,607.8 536.0,604.2 536.4,605.8 536.9,607.2 537.3,606.8 537.7,609.8 538.2,605.7 538.6,606.7 539.0,608.0 539.5,606.4 539.9,608.8 540.4,605.8 540.8,606.3 541.2,610.0 541.7,603.5 542.1,606.3 542.5,605.5 543.0,607.7 543.4,607.7 543.8,608.8 544.3,610.4 544.7,608.4 545.1,607.8 545.6,604.4 546.0,602.7 546.4,602.0 546.9,603.2 547.3,604.9 547.7,604.3 548.2,605.9 548.6,607.6 549.0,612.8 549.5,606.0 549.9,604.8 550.4,602.0 550.8,605.0 551.2,606.7 551.7,603.4 552.1,608.8 552.5,608.0 553.0,601.7 553.4,602.2 553.8,604.7 554.3,604.2 554.7,601.1 555.1,605.9 555.6,607.2 556.0,602.6 556.4,602.6 556.9,607.0 557.3,609.4 557.7,607.8 558.2,603.1 558.6,595.5 559.0,599.4 559.5,603.8 559.9,602.8 560.4,605.1 560.8,600.2 561.2,606.0 561.7,601.3 562.1,603.1 562.5,604.2 563.0,603.2 563.4,599.4 563.8,601.2 564.3,602.7 564.7,601.5 565.1,601.3 565.6,601.8 566.0,605.9 566.4,603.2 566.9,600.8 567.3,601.9 567.7,603.0 568.2,595.3 568.6,602.8 569.0,605.5 569.5,600.4 569.9,604.4 570.4,600.0 570.8,603.0 571.2,596.9 571.7,596.7 572.1,601.2 572.5,600.5 573.0,604.6 573.4,604.9 573.8,602.7 574.3,601.5 574.7,601.8 575.1,599.6 575.6,602.6 576.0,599.7 576.4,602.2 576.9,602.6 577.3,602.2 577.7,602.5 578.2,598.6 578.6,601.8 579.0,595.2 579.5,601.8 579.9,601.6 580.4,599.3 580.8,599.9 581.2,600.8 581.7,601.5 582.1,602.5 582.5,601.1 583.0,598.7 583.4,600.8 583.8,598.0 584.3,599.3 584.7,601.8 585.1,599.2 585.6,600.1 586.0,602.0 586.4,597.6 586.9,599.5 587.3,599.1 587.7,598.7 588.2,594.6 588.6,598.2 589.1,597.6 589.5,603.9 589.9,601.1 590.4,600.8 590.8,597.2 591.2,600.4 591.7,595.2 592.1,596.9 592.5,600.0 593.0,600.3 593.4,597.7 593.8,600.4 594.3,605.7 594.7,600.0 595.1,604.4 595.6,597.9 596.0,601.0 596.4,597.6 596.9,598.3 597.3,597.3 597.7,600.4 598.2,598.3 598.6,593.9 599.1,595.7 599.5,597.6 599.9,599.6 600.4,597.6 600.8,595.9 601.2,600.8 601.7,594.3 602.1,599.5 602.5,601.1 603.0,600.2 603.4,601.7 603.8,595.8 604.3,596.3 604.7,595.3 605.1,601.5 605.6,599.8 606.0,595.0 606.4,596.1 606.9,600.3 607.3,598.5 607.7,598.4 608.2,598.9 608.6,596.9 609.1,600.7 609.5,600.8 609.9,592.7 610.4,598.2 610.8,598.7 611.2,593.0 611.7,600.8 612.1,595.9 612.5,598.1 613.0,599.9 613.4,599.4 613.8,599.2 614.3,598.0 614.7,595.0 615.1,596.2 615.6,596.4 616.0,595.4 616.4,598.5 616.9,601.3 617.3,595.0 617.7,594.9 618.2,593.0 618.6,604.1 619.1,598.5 619.5,597.0 619.9,597.2 620.4,597.4 620.8,599.2 621.2,599.5 621.7,590.5 622.1,595.7 622.5,599.7 623.0,596.6 623.4,599.3 623.8,603.3 624.3,600.2 624.7,598.6 625.1,602.7 625.6,600.5 626.0,598.8 626.4,594.0 626.9,598.8 627.3,594.5 627.8,599.0 628.2,598.4 628.6,599.4 629.1,598.0 629.5,595.7 629.9,593.3 630.4,598.4 630.8,595.0 631.2,600.3 631.7,593.0 632.1,596.2 632.5,600.8 633.0,598.7 633.4,596.2 633.8,598.8 634.3,597.9 634.7,594.6 635.1,603.3 635.6,595.5 636.0,596.4 636.4,597.7 636.9,599.5 637.3,601.0 637.8,600.8 638.2,595.6 638.6,597.8 639.1,598.9 639.5,600.2 639.9,601.1 640.4,599.0 640.8,601.9 641.2,596.7 641.7,594.2 642.1,599.2 642.5,596.4 643.0,594.3 643.4,592.4 643.8,593.6 644.3,599.4 644.7,598.4 645.1,599.3 645.6,596.1 646.0,601.4 646.4,596.3 646.9,599.2 647.3,603.2 647.8,597.1 648.2,599.3 648.6,593.3 649.1,596.4 649.5,597.2 649.9,593.8 650.4,598.0 650.8,598.1 651.2,596.3 651.7,596.9 652.1,596.6 652.5,598.2 653.0,600.2 653.4,594.9 653.8,593.7 654.3,595.8 654.7,598.0 655.1,597.5 655.6,599.2 656.0,595.6 656.4,601.5 656.9,597.3 657.3,594.3 657.8,596.3 658.2,596.0 658.6,595.2 659.1,601.0 659.5,598.0 659.9,597.6 660.4,596.9 660.8,595.8 661.2,594.3 661.7,600.3 662.1,594.6 662.5,594.4 663.0,597.6 663.4,598.1 663.8,595.5 664.3,593.6 664.7,595.6 665.1,598.4 665.6,601.4 666.0,595.4 666.4,595.0 666.9,593.0 667.3,594.9 667.8,594.0 668.2,598.7 668.6,594.9 669.1,590.4 669.5,598.1 669.9,593.6 670.4,599.0 670.8,595.2 671.2,594.2 671.7,593.2 672.1,597.8 672.5,595.6 673.0,595.2 673.4,598.3 673.8,596.1 674.3,598.9 674.7,595.3 675.1,593.7 675.6,594.4 676.0,597.3 676.5,594.7 676.9,595.5 677.3,596.3 677.8,593.4 678.2,594.3 678.6,596.4 679.1,594.5 679.5,598.3 679.9,592.8 680.4,594.9 680.8,594.3 681.2,592.1 681.7,596.0 682.1,594.1 682.5,594.6 683.0,590.8 683.4,588.3 683.8,592.8 684.3,595.6 684.7,594.3 685.1,591.9 685.6,591.2 686.0,593.2 686.5,594.8 686.9,592.4 687.3,594.2"/>
<polyline stroke="#9467bd" points="418.6,657.7 419.0,655.7 419.5,657.8 419.9,657.4 420.3,659.2 420.8,658.9 421.2,660.1 421.6,659.6 422.1,661.1 422.5,663.2 423.0,664.4 423.4,666.6 423.8,664.9 424.3,664.2 424.7,666.6 425.1,666.1 425.6,667.2 426.0,665.2 426.4,667.2 426.9,665.4 427.3,668.1 427.7,668.3 428.2,669.3 428.6,667.4 429.0,668.6 429.5,667.4 429.9,667.4 430.4,668.3 430.8,667.4 431.2,668.7 431.7,668.1 432.1,667.3 432.5,668.3 433.0,668.8 433.4,666.2 433.8,670.5 434.3,668.8 434.7,670.1 435.1,669.4 435.6,668.3 436.0,670.8 436.4,669.4 436.9,671.7 437.3,670.6 437.8,670.0 438.2,670.5 438.6,671.2 439.1,670.3 439.5,670.1 439.9,672.0 440.4,670.0 440.8,670.4 441.2,671.1 441.7,667.3 442.1,671.0 442.5,672.8 443.0,669.1 443.4,668.8 443.8,668.7 444.3,670.1 444.7,669.1 445.1,670.4 445.6,670.5 446.0,668.5 446.5,668.1 446.9,667.8 447.3,670.1 447.8,670.2 448.2,669.3 448.6,669.9 449.1,669.6 449.5,667.9 449.9,669.8 450.4,669.2 450.8,667.8 451.2,666.8 451.7,668.1 452.1,667.4 452.5,667.6 453.0,668.2 453.4,667.1 453.9,664.6 454.3,662.4 454.7,664.6 455.2,661.9 455.6,660.2 456.0,658.7 456.5,655.5 456.9,647.0 457.3,640.5 457.8,629.1 458.2,618.9 458.6,618.2 459.1,619.5 459.5,613.6 459.9,614.6 460.4,608.8 460.8,600.4 461.3,603.2 461.7,605.8 462.1,596.6 462.6,594.2 463.0,596.0 463.4,602.5 463.9,602.5 464.3,600.8 464.7,600.8 465.2,606.6 465.6,609.1 466.0,601.5 466.5,609.6 466.9,611.8 467.3,616.9 467.8,618.4 468.2,609.5 468.7,605.7 469.1,609.3 469.5,601.9 470.0,608.6 470.4,601.0 470.8,606.5 471.3,602.5 471.7,609.5 472.1,603.5 472.6,597.0 473.0,605.9 473.4,606.2 473.9,603.7 474.3,600.2 474.7,603.7 475.2,600.1 475.6,604.4 476.1,612.7 476.5,618.4 476.9,596.1 477.4,611.2 477.8,605.8 478.2,603.2 478.7,606.9 479.1,609.7 479.5,613.2 480.0,600.2 480.4,607.7 480.8,609.7 481.3,603.6 481.7,608.5 482.1,611.4 482.6,611.5 483.0,606.6 483.4,600.7 483.9,604.4 484.3,603.4 484.8,598.5 485.2,604.6 485.6,617.0 486.1,598.4 486.5,611.7 486.9,602.3 487.4,608.2 487.8,607.0 488.2,601.6 488.7,603.3 489.1,605.2 489.5,609.3 490.0,596.7 490.4,604.4 490.8,607.3 491.3,605.8 491.7,607.6 492.2,598.0 492.6,601.1 493.0,598.1 493.5,606.1 493.9,600.3 494.3,603.1 494.8,604.1 495.2,601.5 495.6,606.9 496.1,598.5 496.5,605.4 496.9,611.6 497.4,595.7 497.8,597.7 498.2,599.3 498.7,593.9 499.1,589.9 499.6,594.9 500.0,595.7 500.4,598.4 500.9,603.8 501.3,599.9 501.7,597.9 502.2,598.0 502.6,603.3 503.0,601.4 503.5,598.2 503.9,594.3 504.3,593.4 504.8,592.1 505.2,601.2 505.6,605.2 506.1,599.8 506.5,598.5 507.0,599.3 507.4,588.6 507.8,601.3 508.3,601.5 508.7,602.2 509.1,599.2 509.6,595.2 510.0,597.8 510.4,589.3 510.9,597.5 511.3,590.7 511.7,589.0 512.2,597.5 512.6,601.5 513.0,591.7 513.5,598.1 513.9,607.8 514.4,604.3 514.8,604.9 515.2,602.3 515.7,598.1 516.1,605.7 516.5,605.8 517.0,611.4 517.4,618.1 517.8,608.5 518.3,612.0 518.7,611.8 519.1,617.1 519.6,619.8 520.0,616.9 520.4,616.5 520.9,615.0 521.3,609.1 521.8,616.8 522.2,616.5 522.6,626.0 523.1,620.1 523.5,628.2 523.9,622.2 524.4,621.7 524.8,616.1 525.2,619.8 525.7,607.3 526.1,620.1 526.5,620.1 527.0,613.6 527.4,616.5 527.8,616.8 528.3,624.8 528.7,617.4 529.1,614.5 529.6,618.2 530.0,621.9 530.5,617.5 530.9,621.6 531.3,609.9 531.8,614.2 532.2,615.4 532.6,614.7 533.1,610.2 533.5,617.8 533.9,616.9 534.4,613.6 534.8,614.1 535.2,614.7 535.7,621.1 536.1,617.7 536.5,618.4 537.0,610.9 537.4,615.9 537.9,611.1 538.3,614.9 538.7,608.3 539.2,618.9 539.6,613.3 540.0,614.6 540.5,613.2 540.9,615.6 541.3,611.7 541.8,605.2 542.2,613.1 542.6,617.9 543.1,611.3 543.5,614.2 543.9,610.8 544.4,613.1 544.8,615.6 545.3,611.2 545.7,608.1 546.1,607.0 546.6,612.8 547.0,612.4 547.4,612.3 547.9,619.8 548.3,611.3 548.7,606.2 549.2,607.3 549.6,609.6 550.0,617.8 550.5,615.0 550.9,618.1 551.3,616.7 551.8,615.7 552.2,611.9 552.7,617.5 553.1,611.3 553.5,614.6 554.0,617.0 554.4,611.8 554.8,608.4 555.3,611.4 555.7,611.6 556.1,608.4 556.6,614.0 557.0,611.2 557.4,608.8 557.9,611.5 558.3,606.7 558.7,613.6 559.2,610.6 559.6,606.6 560.1,616.2 560.5,610.5 560.9,614.7 561.4,609.8 561.8,612.6 562.2,614.4 562.7,609.7 563.1,609.6 563.5,609.6 564.0,608.5 564.4,602.2 564.8,615.1 565.3,607.7 565.7,609.9 566.1,605.4 566.6,606.5 567.0,614.1 567.4,614.2 567.9,603.4 568.3,603.5 568.8,609.7 569.2,613.9 569.6,609.8 570.1,606.2 570.5,608.1 570.9,602.0 571.4,609.0 571.8,608.4 572.2,609.3 572.7,610.0 573.1,608.2 573.5,613.4 574.0,609.8 574.4,608.3 574.8,608.1 575.3,610.6 575.7,613.6 576.2,615.9 576.6,618.1 577.0,608.6 577.5,611.1 577.9,609.0 578.3,603.6 578.8,616.0 579.2,614.2 579.6,614.4 580.1,611.1 580.5,609.8 580.9,613.8 581.4,617.4 581.8,607.0 582.2,612.4 582.7,610.6 583.1,608.4 583.6,611.6 584.0,610.7 584.4,608.8 584.9,608.6 585.3,615.2 585.7,608.3 586.2,616.4 586.6,604.7 587.0,606.8 587.5,615.4 587.9,610.6 588.3,609.8 588.8,606.1 589.2,606.7 589.6,613.7 590.1,612.8 590.5,610.1 591.0,610.1 591.4,609.4 591.8,613.9 592.3,609.3 592.7,608.2 593.1,608.2 593.6,613.6 594.0,619.2 594.4,610.2 594.9,602.0 595.3,608.1 595.7,606.4 596.2,614.0 596.6,609.9 597.0,608.6 597.5,610.8 597.9,611.7 598.4,612.3 598.8,611.2 599.2,601.7 599.7,607.6 600.1,608.8 600.5,608.5 601.0,613.2 601.4,611.4 601.8,609.3 602.3,605.6 602.7,608.3 603.1,605.4 603.6,614.0 604.0,613.9 604.4,608.1 604.9,609.7 605.3,604.5 605.8,614.9 606.2,605.2 606.6,614.2 607.1,608.2 607.5,610.4 607.9,611.7 608.4,609.8 608.8,611.2 609.2,615.9 609.7,601.5 610.1,609.6 610.5,608.6 611.0,611.3 611.4,604.8 611.8,611.2 612.3,606.7 612.7,599.8 613.1,610.5 613.6,608.9 614.0,606.2 614.5,609.9 614.9,604.5 615.3,605.0 615.8,600.3 616.2,609.7 616.6,607.3 617.1,610.0 617.5,608.2 617.9,604.6 618.4,602.8 618.8,605.8 619.2,604.7 619.7,606.8 620.1,599.8 620.5,600.5 621.0,610.5 621.4,604.8 621.9,602.4 622.3,609.1 622.7,611.4 623.2,607.4 623.6,608.8 624.0,613.6 624.5,610.2 624.9,607.9 625.3,607.9 625.8,602.4 626.2,594.6 626.6,608.6 627.1,609.0 627.5,601.6 627.9,601.8 628.4,609.5 628.8,603.0 629.3,604.4 629.7,607.4 630.1,605.3"/>
</g>
<g stroke="#000" stroke-width="1.15" fill="none">
<rect x="418.6" y="382.3" width="269.8" height="291.0"/>
<path stroke-width="0.9" d="M472.6,673.3v-5.4M472.6,382.3v5.4M526.5,673.3v-5.4M526.5,382.3v5.4M580.5,673.3v-5.4M580.5,382.3v5.4M634.4,673.3v-5.4M634.4,382.3v5.4M418.6,624.8h5.4M688.4,624.8h-5.4M418.6,576.3h5.4M688.4,576.3h-5.4M418.6,527.8h5.4M688.4,527.8h-5.4M418.6,479.3h5.4M688.4,479.3h-5.4M418.6,430.8h5.4M688.4,430.8h-5.4"/>
</g>
<clipPath id="c21"><rect x="741.7" y="382.3" width="269.8" height="291.0"/></clipPath>
<g clip-path="url(#c21)" fill="none" stroke-width="2.7" stroke-linejoin="round" stroke-linecap="butt">
<polyline stroke="#ff7f0e" points="741.7,672.4 876.6,672.4 1011.5,672.4"/>
<polyline stroke="#2a7cae" stroke-width="4.9" points="741.7,670.4 876.6,670.4 1011.5,670.4"/>
<polyline stroke="#9467bd" points="741.7,673.8 742.5,669.7 743.3,666.3 744.1,664.3 744.9,661.6 745.7,658.7 746.5,659.8 747.3,660.8 748.1,661.8 748.8,664.4 749.6,665.2 750.4,665.2 751.2,666.2 752.0,665.1 752.8,664.3 753.6,668.1 754.4,667.7 755.2,666.3 756.0,665.9 756.8,668.1 757.6,663.7 758.4,661.8 759.2,653.6 760.0,636.9 760.8,629.2 761.6,628.2 762.4,630.0 763.1,625.7 763.9,623.4 764.7,621.9 765.5,620.5 766.3,617.1 767.1,612.4 767.9,612.6 768.7,604.1 769.5,610.9 770.3,608.8 771.1,603.0 771.9,606.7 772.7,606.0 773.5,605.0 774.3,605.2 775.1,602.2 775.9,593.9 776.6,578.5 777.4,574.2 778.2,578.3 779.0,574.5 779.8,582.6 780.6,575.1 781.4,573.1 782.2,568.4 783.0,574.9 783.8,571.6 784.6,588.7 785.4,586.7 786.2,582.2 787.0,565.4 787.8,562.1 788.6,559.0 789.4,546.6 790.2,541.8 790.9,538.2 791.7,533.8 792.5,529.3 793.3,537.6 794.1,537.3 794.9,543.5 795.7,554.8 796.5,549.2 797.3,550.8 798.1,549.9 798.9,548.9 799.7,539.8 800.5,540.0 801.3,533.6 802.1,538.2 802.9,526.4 803.7,535.2 804.4,532.4 805.2,544.2 806.0,546.0 806.8,546.5 807.6,554.7 808.4,543.0 809.2,548.9 810.0,546.7 810.8,544.5 811.6,534.5 812.4,528.3 813.2,553.6 814.0,544.5 814.8,551.3 815.6,576.7 816.4,571.1 817.2,543.3 818.0,534.7 818.7,537.4 819.5,556.8 820.3,539.2 821.1,533.0 821.9,544.5 822.7,541.1 823.5,545.3 824.3,526.5 825.1,556.7 825.9,542.6 826.7,551.9 827.5,541.2 828.3,537.6 829.1,529.6 829.9,529.2 830.7,547.7 831.5,532.0 832.2,532.6 833.0,531.6 833.8,520.0 834.6,542.0 835.4,542.8 836.2,526.7 837.0,515.7 837.8,519.9 838.6,529.4 839.4,519.3 840.2,522.2 841.0,527.7 841.8,513.6 842.6,530.8 843.4,515.1 844.2,514.3 845.0,520.1 845.8,521.1 846.5,528.3 847.3,512.1 848.1,515.1 848.9,510.9 849.7,520.4 850.5,525.8 851.3,511.9 852.1,505.6 852.9,527.3 853.7,519.8 854.5,511.5 855.3,516.5 856.1,494.0 856.9,514.4 857.7,513.6 858.5,518.3 859.3,522.0 860.0,521.8 860.8,511.4 861.6,519.3 862.4,510.5 863.2,514.2 864.0,506.7 864.8,508.1 865.6,520.5 866.4,506.0 867.2,516.3 868.0,518.4 868.8,519.3 869.6,508.7 870.4,509.2 871.2,528.6 872.0,524.0 872.8,512.8 873.6,507.8 874.3,513.9 875.1,521.4 875.9,498.8 876.7,500.5 877.5,524.0 878.3,500.6 879.1,489.6 879.9,505.5 880.7,502.1 881.5,481.8 882.3,493.7 883.1,502.9 883.9,488.9 884.7,497.4 885.5,493.3 886.3,507.8 887.1,490.8 887.8,482.9 888.6,496.1 889.4,477.4 890.2,496.3 891.0,495.5 891.8,493.1 892.6,507.8 893.4,496.2 894.2,499.5 895.0,483.3 895.8,488.6 896.6,480.0 897.4,492.1 898.2,484.9 899.0,492.5 899.8,487.4 900.6,490.8 901.3,484.5 902.1,478.7 902.9,477.8 903.7,490.3 904.5,476.6 905.3,492.7 906.1,494.5 906.9,475.8 907.7,461.8 908.5,483.8 909.3,502.0 910.1,494.3 910.9,487.0 911.7,496.6 912.5,487.4 913.3,499.3 914.1,489.2 914.9,492.3 915.6,476.7 916.4,473.6 917.2,487.5 918.0,481.2 918.8,462.6 919.6,482.1 920.4,491.9 921.2,486.0 922.0,473.0 922.8,493.6 923.6,467.6 924.4,484.2 925.2,485.9 926.0,466.6 926.8,453.6 927.6,477.7 928.4,482.2 929.1,481.9 929.9,495.5 930.7,482.9 931.5,474.3 932.3,477.4 933.1,471.5 933.9,480.2 934.7,490.1 935.5,475.1 936.3,480.7 937.1,487.7 937.9,490.0 938.7,481.3 939.5,477.0 940.3,495.2 941.1,487.0 941.9,524.7 942.7,505.7 943.4,514.1 944.2,489.7 945.0,492.8 945.8,523.5 946.6,492.5 947.4,513.5 948.2,517.4 949.0,500.1 949.8,501.5 950.6,510.4 951.4,505.2 952.2,495.9 953.0,493.6 953.8,476.9 954.6,494.1 955.4,486.5 956.2,492.2 956.9,486.3 957.7,484.4 958.5,481.0 959.3,481.8 960.1,493.8 960.9,473.9 961.7,493.9 962.5,476.8 963.3,496.5 964.1,483.5 964.9,487.8 965.7,482.9 966.5,487.3 967.3,475.6 968.1,467.6 968.9,479.6 969.7,462.4 970.5,455.2 971.2,452.6 972.0,468.3 972.8,463.8 973.6,480.7 974.4,467.4 975.2,448.7 976.0,470.0 976.8,477.1 977.6,479.9 978.4,481.0 979.2,459.7 980.0,476.6 980.8,465.6 981.6,476.5 982.4,461.4 983.2,468.8 984.0,476.7 984.7,493.2 985.5,463.0 986.3,494.1 987.1,499.5 987.9,475.3 988.7,472.6 989.5,481.5 990.3,485.1 991.1,490.9 991.9,482.7 992.7,500.0 993.5,460.2 994.3,456.1 995.1,481.2 995.9,451.3 996.7,473.7 997.5,459.6 998.3,456.1 999.0,475.9 999.8,469.4 1000.6,445.3 1001.4,475.8 1002.2,467.4 1003.0,458.3 1003.8,466.6 1004.6,463.0 1005.4,447.5 1006.2,469.1 1007.0,459.3 1007.8,474.6 1008.6,476.9 1009.4,483.9 1010.2,497.3 1011.0,476.3"/>
</g>
<g stroke="#000" stroke-width="1.15" fill="none">
<rect x="741.7" y="382.3" width="269.8" height="291.0"/>
<path stroke-width="0.9" d="M795.7,673.3v-5.4M795.7,382.3v5.4M849.6,673.3v-5.4M849.6,382.3v5.4M903.6,673.3v-5.4M903.6,382.3v5.4M957.5,673.3v-5.4M957.5,382.3v5.4M741.7,615.1h5.4M1011.5,615.1h-5.4M741.7,556.9h5.4M1011.5,556.9h-5.4M741.7,498.7h5.4M1011.5,498.7h-5.4M741.7,440.5h5.4M1011.5,440.5h-5.4"/>
</g>
<rect x="1083.6" y="459.6" width="232.7" height="135.1" fill="#fff" stroke="#000" stroke-width="1.15"/>
<line x1="1094.3" y1="474.4" x2="1120.2" y2="474.4" stroke="#ff7f0e" stroke-width="2.7"/>
<line x1="1094.3" y1="500.6" x2="1120.2" y2="500.6" stroke="#1f77b4" stroke-width="2.7"/>
<line x1="1094.3" y1="526.8" x2="1120.2" y2="526.8" stroke="#17becf" stroke-width="2.7"/>
<line x1="1094.3" y1="553.0" x2="1120.2" y2="553.0" stroke="#9edae5" stroke-width="2.7"/>
<line x1="1094.3" y1="579.3" x2="1120.2" y2="579.3" stroke="#9467bd" stroke-width="2.7"/>
<g>
<text x="94.4" y="342.8" font-size="17.8" text-anchor="middle" textLength="10.4" lengthAdjust="spacingAndGlyphs">0</text>
<text x="148.4" y="342.8" font-size="17.8" text-anchor="middle" textLength="10.4" lengthAdjust="spacingAndGlyphs">1</text>
<text x="202.3" y="342.8" font-size="17.8" text-anchor="middle" textLength="10.4" lengthAdjust="spacingAndGlyphs">2</text>
<text x="256.3" y="342.8" font-size="17.8" text-anchor="middle" textLength="10.4" lengthAdjust="spacingAndGlyphs">3</text>
<text x="310.2" y="342.8" font-size="17.8" text-anchor="middle" textLength="10.4" lengthAdjust="spacingAndGlyphs">4</text>
<text x="364.2" y="342.8" font-size="17.8" text-anchor="middle" textLength="10.4" lengthAdjust="spacingAndGlyphs">5</text>
<text x="88.5" y="328.0" font-size="17.8" text-anchor="end" textLength="10.4" lengthAdjust="spacingAndGlyphs">0</text>
<text x="88.5" y="279.6" font-size="17.8" text-anchor="end" textLength="41.5" lengthAdjust="spacingAndGlyphs">2000</text>
<text x="88.5" y="231.3" font-size="17.8" text-anchor="end" textLength="41.5" lengthAdjust="spacingAndGlyphs">4000</text>
<text x="88.5" y="182.9" font-size="17.8" text-anchor="end" textLength="41.5" lengthAdjust="spacingAndGlyphs">6000</text>
<text x="88.5" y="134.6" font-size="17.8" text-anchor="end" textLength="41.5" lengthAdjust="spacingAndGlyphs">8000</text>
<text x="88.5" y="86.2" font-size="17.8" text-anchor="end" textLength="51.9" lengthAdjust="spacingAndGlyphs">10000</text>
<text x="88.5" y="37.9" font-size="17.8" text-anchor="end" textLength="51.9" lengthAdjust="spacingAndGlyphs">12000</text>
<text x="363.3" y="365.8" font-size="17.8" text-anchor="end" textLength="30.8" lengthAdjust="spacingAndGlyphs">1e7</text>
<text x="228.8" y="25.8" font-size="22.2" text-anchor="middle" textLength="115.2" lengthAdjust="spacingAndGlyphs">beamrider</text>
<text x="26.2" y="180.8" font-size="20.4" text-anchor="middle" textLength="67.2" lengthAdjust="spacingAndGlyphs" transform="rotate(-90 26.2 180.8)">reward</text>
<text x="418.3" y="342.8" font-size="17.8" text-anchor="middle" textLength="10.4" lengthAdjust="spacingAndGlyphs">0</text>
<text x="472.3" y="342.8" font-size="17.8" text-anchor="middle" textLength="10.4" lengthAdjust="spacingAndGlyphs">1</text>
<text x="526.2" y="342.8" font-size="17.8" text-anchor="middle" textLength="10.4" lengthAdjust="spacingAndGlyphs">2</text>
<text x="580.2" y="342.8" font-size="17.8" text-anchor="middle" textLength="10.4" lengthAdjust="spacingAndGlyphs">3</text>
<text x="634.1" y="342.8" font-size="17.8" text-anchor="middle" textLength="10.4" lengthAdjust="spacingAndGlyphs">4</text>
<text x="688.1" y="342.8" font-size="17.8" text-anchor="middle" textLength="10.4" lengthAdjust="spacingAndGlyphs">5</text>
<text x="412.4" y="328.0" font-size="17.8" text-anchor="end" textLength="10.4" lengthAdjust="spacingAndGlyphs">0</text>
<text x="412.4" y="291.7" font-size="17.8" text-anchor="end" textLength="31.1" lengthAdjust="spacingAndGlyphs">100</text>
<text x="412.4" y="255.5" font-size="17.8" text-anchor="end" textLength="31.1" lengthAdjust="spacingAndGlyphs">200</text>
<text x="412.4" y="219.2" font-size="17.8" text-anchor="end" textLength="31.1" lengthAdjust="spacingAndGlyphs">300</text>
<text x="412.4" y="182.9" font-size="17.8" text-anchor="end" textLength="31.1" lengthAdjust="spacingAndGlyphs">400</text>
<text x="412.4" y="146.7" font-size="17.8" text-anchor="end" textLength="31.1" lengthAdjust="spacingAndGlyphs">500</text>
<text x="412.4" y="110.4" font-size="17.8" text-anchor="end" textLength="31.1" lengthAdjust="spacingAndGlyphs">600</text>
<text x="412.4" y="74.2" font-size="17.8" text-anchor="end" textLength="31.1" lengthAdjust="spacingAndGlyphs">700</text>
<text x="412.4" y="37.9" font-size="17.8" text-anchor="end" textLength="31.1" lengthAdjust="spacingAndGlyphs">800</text>
<text x="687.2" y="365.8" font-size="17.8" text-anchor="end" textLength="30.8" lengthAdjust="spacingAndGlyphs">1e7</text>
<text x="552.7" y="25.8" font-size="22.2" text-anchor="middle" textLength="98.4" lengthAdjust="spacingAndGlyphs">breakout</text>
<text x="741.4" y="342.8" font-size="17.8" text-anchor="middle" textLength="10.4" lengthAdjust="spacingAndGlyphs">0</text>
<text x="795.4" y="342.8" font-size="17.8" text-anchor="middle" textLength="10.4" lengthAdjust="spacingAndGlyphs">1</text>
<text x="849.3" y="342.8" font-size="17.8" text-anchor="middle" textLength="10.4" lengthAdjust="spacingAndGlyphs">2</text>
<text x="903.3" y="342.8" font-size="17.8" text-anchor="middle" textLength="10.4" lengthAdjust="spacingAndGlyphs">3</text>
<text x="957.2" y="342.8" font-size="17.8" text-anchor="middle" textLength="10.4" lengthAdjust="spacingAndGlyphs">4</text>
<text x="1011.2" y="342.8" font-size="17.8" text-anchor="middle" textLength="10.4" lengthAdjust="spacingAndGlyphs">5</text>
<text x="735.5" y="328.0" font-size="17.8" text-anchor="end" textLength="34.4" lengthAdjust="spacingAndGlyphs">−30</text>
<text x="735.5" y="279.6" font-size="17.8" text-anchor="end" textLength="34.4" lengthAdjust="spacingAndGlyphs">−20</text>
<text x="735.5" y="231.3" font-size="17.8" text-anchor="end" textLength="34.4" lengthAdjust="spacingAndGlyphs">−10</text>
<text x="735.5" y="182.9" font-size="17.8" text-anchor="end" textLength="10.4" lengthAdjust="spacingAndGlyphs">0</text>
<text x="735.5" y="134.6" font-size="17.8" text-anchor="end" textLength="20.7" lengthAdjust="spacingAndGlyphs">10</text>
<text x="735.5" y="86.2" font-size="17.8" text-anchor="end" textLength="20.7" lengthAdjust="spacingAndGlyphs">20</text>
<text x="735.5" y="37.9" font-size="17.8" text-anchor="end" textLength="20.7" lengthAdjust="spacingAndGlyphs">30</text>
<text x="1010.3" y="365.8" font-size="17.8" text-anchor="end" textLength="30.8" lengthAdjust="spacingAndGlyphs">1e7</text>
<text x="875.8" y="25.8" font-size="22.2" text-anchor="middle" textLength="55.8" lengthAdjust="spacingAndGlyphs">pong</text>
<text x="1065.2" y="342.8" font-size="17.8" text-anchor="middle" textLength="10.4" lengthAdjust="spacingAndGlyphs">0</text>
<text x="1119.2" y="342.8" font-size="17.8" text-anchor="middle" textLength="10.4" lengthAdjust="spacingAndGlyphs">1</text>
<text x="1173.1" y="342.8" font-size="17.8" text-anchor="middle" textLength="10.4" lengthAdjust="spacingAndGlyphs">2</text>
<text x="1227.1" y="342.8" font-size="17.8" text-anchor="middle" textLength="10.4" lengthAdjust="spacingAndGlyphs">3</text>
<text x="1281.0" y="342.8" font-size="17.8" text-anchor="middle" textLength="10.4" lengthAdjust="spacingAndGlyphs">4</text>
<text x="1335.0" y="342.8" font-size="17.8" text-anchor="middle" textLength="10.4" lengthAdjust="spacingAndGlyphs">5</text>
<text x="1059.3" y="328.0" font-size="17.8" text-anchor="end" textLength="10.4" lengthAdjust="spacingAndGlyphs">0</text>
<text x="1059.3" y="295.8" font-size="17.8" text-anchor="end" textLength="41.5" lengthAdjust="spacingAndGlyphs">2000</text>
<text x="1059.3" y="263.5" font-size="17.8" text-anchor="end" textLength="41.5" lengthAdjust="spacingAndGlyphs">4000</text>
<text x="1059.3" y="231.3" font-size="17.8" text-anchor="end" textLength="41.5" lengthAdjust="spacingAndGlyphs">6000</text>
<text x="1059.3" y="199.1" font-size="17.8" text-anchor="end" textLength="41.5" lengthAdjust="spacingAndGlyphs">8000</text>
<text x="1059.3" y="166.8" font-size="17.8" text-anchor="end" textLength="51.9" lengthAdjust="spacingAndGlyphs">10000</text>
<text x="1059.3" y="134.6" font-size="17.8" text-anchor="end" textLength="51.9" lengthAdjust="spacingAndGlyphs">12000</text>
<text x="1059.3" y="102.4" font-size="17.8" text-anchor="end" textLength="51.9" lengthAdjust="spacingAndGlyphs">14000</text>
<text x="1059.3" y="70.1" font-size="17.8" text-anchor="end" textLength="51.9" lengthAdjust="spacingAndGlyphs">16000</text>
<text x="1059.3" y="37.9" font-size="17.8" text-anchor="end" textLength="51.9" lengthAdjust="spacingAndGlyphs">18000</text>
<text x="1334.1" y="365.8" font-size="17.8" text-anchor="end" textLength="30.8" lengthAdjust="spacingAndGlyphs">1e7</text>
<text x="1199.6" y="25.8" font-size="22.2" text-anchor="middle" textLength="59.7" lengthAdjust="spacingAndGlyphs">qbert</text>
<text x="94.4" y="692.7" font-size="17.8" text-anchor="middle" textLength="10.4" lengthAdjust="spacingAndGlyphs">0</text>
<text x="148.4" y="692.7" font-size="17.8" text-anchor="middle" textLength="10.4" lengthAdjust="spacingAndGlyphs">1</text>
<text x="202.3" y="692.7" font-size="17.8" text-anchor="middle" textLength="10.4" lengthAdjust="spacingAndGlyphs">2</text>
<text x="256.3" y="692.7" font-size="17.8" text-anchor="middle" textLength="10.4" lengthAdjust="spacingAndGlyphs">3</text>
<text x="310.2" y="692.7" font-size="17.8" text-anchor="middle" textLength="10.4" lengthAdjust="spacingAndGlyphs">4</text>
<text x="364.2" y="692.7" font-size="17.8" text-anchor="middle" textLength="10.4" lengthAdjust="spacingAndGlyphs">5</text>
<text x="88.5" y="677.9" font-size="17.8" text-anchor="end" textLength="10.4" lengthAdjust="spacingAndGlyphs">0</text>
<text x="88.5" y="619.7" font-size="17.8" text-anchor="end" textLength="31.1" lengthAdjust="spacingAndGlyphs">500</text>
<text x="88.5" y="561.5" font-size="17.8" text-anchor="end" textLength="41.5" lengthAdjust="spacingAndGlyphs">1000</text>
<text x="88.5" y="503.3" font-size="17.8" text-anchor="end" textLength="41.5" lengthAdjust="spacingAndGlyphs">1500</text>
<text x="88.5" y="445.1" font-size="17.8" text-anchor="end" textLength="41.5" lengthAdjust="spacingAndGlyphs">2000</text>
<text x="88.5" y="386.9" font-size="17.8" text-anchor="end" textLength="41.5" lengthAdjust="spacingAndGlyphs">2500</text>
<text x="363.3" y="715.7" font-size="17.8" text-anchor="end" textLength="30.8" lengthAdjust="spacingAndGlyphs">1e7</text>
<text x="228.8" y="374.8" font-size="22.2" text-anchor="middle" textLength="100.9" lengthAdjust="spacingAndGlyphs">seaquest</text>
<text x="228.8" y="717.7" font-size="20.4" text-anchor="middle" textLength="85.8" lengthAdjust="spacingAndGlyphs">timestep</text>
<text x="36.4" y="530.3" font-size="20.4" text-anchor="middle" textLength="67.2" lengthAdjust="spacingAndGlyphs" transform="rotate(-90 36.4 530.3)">reward</text>
<text x="418.3" y="692.7" font-size="17.8" text-anchor="middle" textLength="10.4" lengthAdjust="spacingAndGlyphs">0</text>
<text x="472.3" y="692.7" font-size="17.8" text-anchor="middle" textLength="10.4" lengthAdjust="spacingAndGlyphs">1</text>
<text x="526.2" y="692.7" font-size="17.8" text-anchor="middle" textLength="10.4" lengthAdjust="spacingAndGlyphs">2</text>
<text x="580.2" y="692.7" font-size="17.8" text-anchor="middle" textLength="10.4" lengthAdjust="spacingAndGlyphs">3</text>
<text x="634.1" y="692.7" font-size="17.8" text-anchor="middle" textLength="10.4" lengthAdjust="spacingAndGlyphs">4</text>
<text x="688.1" y="692.7" font-size="17.8" text-anchor="middle" textLength="10.4" lengthAdjust="spacingAndGlyphs">5</text>
<text x="412.4" y="677.9" font-size="17.8" text-anchor="end" textLength="10.4" lengthAdjust="spacingAndGlyphs">0</text>
<text x="412.4" y="629.4" font-size="17.8" text-anchor="end" textLength="31.1" lengthAdjust="spacingAndGlyphs">500</text>
<text x="412.4" y="580.9" font-size="17.8" text-anchor="end" textLength="41.5" lengthAdjust="spacingAndGlyphs">1000</text>
<text x="412.4" y="532.4" font-size="17.8" text-anchor="end" textLength="41.5" lengthAdjust="spacingAndGlyphs">1500</text>
<text x="412.4" y="483.9" font-size="17.8" text-anchor="end" textLength="41.5" lengthAdjust="spacingAndGlyphs">2000</text>
<text x="412.4" y="435.4" font-size="17.8" text-anchor="end" textLength="41.5" lengthAdjust="spacingAndGlyphs">2500</text>
<text x="412.4" y="386.9" font-size="17.8" text-anchor="end" textLength="41.5" lengthAdjust="spacingAndGlyphs">3000</text>
<text x="687.2" y="715.7" font-size="17.8" text-anchor="end" textLength="30.8" lengthAdjust="spacingAndGlyphs">1e7</text>
<text x="552.7" y="374.8" font-size="22.2" text-anchor="middle" textLength="98.5" lengthAdjust="spacingAndGlyphs">spaceinv</text>
<text x="552.7" y="717.7" font-size="20.4" text-anchor="middle" textLength="85.8" lengthAdjust="spacingAndGlyphs">timestep</text>
<text x="741.4" y="692.7" font-size="17.8" text-anchor="middle" textLength="10.4" lengthAdjust="spacingAndGlyphs">0</text>
<text x="795.4" y="692.7" font-size="17.8" text-anchor="middle" textLength="10.4" lengthAdjust="spacingAndGlyphs">1</text>
<text x="849.3" y="692.7" font-size="17.8" text-anchor="middle" textLength="10.4" lengthAdjust="spacingAndGlyphs">2</text>
<text x="903.3" y="692.7" font-size="17.8" text-anchor="middle" textLength="10.4" lengthAdjust="spacingAndGlyphs">3</text>
<text x="957.2" y="692.7" font-size="17.8" text-anchor="middle" textLength="10.4" lengthAdjust="spacingAndGlyphs">4</text>
<text x="1011.2" y="692.7" font-size="17.8" text-anchor="middle" textLength="10.4" lengthAdjust="spacingAndGlyphs">5</text>
<text x="735.5" y="677.9" font-size="17.8" text-anchor="end" textLength="10.4" lengthAdjust="spacingAndGlyphs">0</text>
<text x="735.5" y="619.7" font-size="17.8" text-anchor="end" textLength="31.1" lengthAdjust="spacingAndGlyphs">200</text>
<text x="735.5" y="561.5" font-size="17.8" text-anchor="end" textLength="31.1" lengthAdjust="spacingAndGlyphs">400</text>
<text x="735.5" y="503.3" font-size="17.8" text-anchor="end" textLength="31.1" lengthAdjust="spacingAndGlyphs">600</text>
<text x="735.5" y="445.1" font-size="17.8" text-anchor="end" textLength="31.1" lengthAdjust="spacingAndGlyphs">800</text>
<text x="735.5" y="386.9" font-size="17.8" text-anchor="end" textLength="41.5" lengthAdjust="spacingAndGlyphs">1000</text>
<text x="1010.3" y="715.7" font-size="17.8" text-anchor="end" textLength="30.8" lengthAdjust="spacingAndGlyphs">1e7</text>
<text x="875.8" y="374.8" font-size="22.2" text-anchor="middle" textLength="78.1" lengthAdjust="spacingAndGlyphs">enduro</text>
<text x="875.8" y="717.7" font-size="20.4" text-anchor="middle" textLength="85.8" lengthAdjust="spacingAndGlyphs">timestep</text>
<text x="1137.0" y="480.0" font-size="17.8" text-anchor="start" textLength="20.8" lengthAdjust="spacingAndGlyphs">RL</text>
<text x="1137.0" y="506.2" font-size="17.8" text-anchor="start" textLength="166.6" lengthAdjust="spacingAndGlyphs">10k synthetic labels</text>
<text x="1137.0" y="532.4" font-size="17.8" text-anchor="start" textLength="171.8" lengthAdjust="spacingAndGlyphs">5.6k synthetic labels</text>
<text x="1137.0" y="558.6" font-size="17.8" text-anchor="start" textLength="171.8" lengthAdjust="spacingAndGlyphs">3.3k synthetic labels</text>
<text x="1137.0" y="584.9" font-size="17.8" text-anchor="start" textLength="153.3" lengthAdjust="spacingAndGlyphs">5.5k human labels</text>
</g>
</svg>
</body>
</html>
